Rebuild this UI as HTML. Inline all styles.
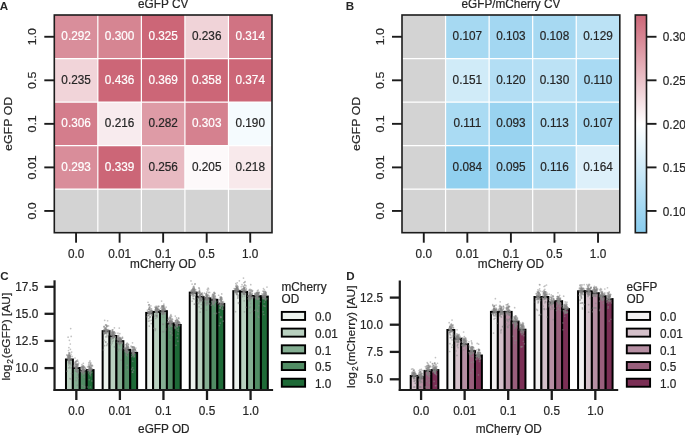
<!DOCTYPE html>
<html><head><meta charset="utf-8"><style>html,body{margin:0;padding:0;background:#fff;overflow:hidden}svg{display:block} text{-webkit-font-smoothing:antialiased}</style></head>
<body>
<svg width="685" height="435" viewBox="0 0 685 435" style="font-family:'Liberation Sans', sans-serif;will-change:transform;transform:translateZ(0)">
<rect width="685" height="435" fill="#fff"/>
<rect x="54.30" y="15.00" width="43.54" height="43.54" fill="#d98e9b"/>
<rect x="97.84" y="15.00" width="43.54" height="43.54" fill="#d68592"/>
<rect x="141.38" y="15.00" width="43.54" height="43.54" fill="#cc6677"/>
<rect x="184.92" y="15.00" width="43.54" height="43.54" fill="#f0d3d8"/>
<rect x="228.46" y="15.00" width="43.54" height="43.54" fill="#d07383"/>
<rect x="54.30" y="58.54" width="43.54" height="43.54" fill="#f1d4d9"/>
<rect x="97.84" y="58.54" width="43.54" height="43.54" fill="#cc6677"/>
<rect x="141.38" y="58.54" width="43.54" height="43.54" fill="#cc6677"/>
<rect x="184.92" y="58.54" width="43.54" height="43.54" fill="#cc6677"/>
<rect x="228.46" y="58.54" width="43.54" height="43.54" fill="#cc6677"/>
<rect x="54.30" y="102.08" width="43.54" height="43.54" fill="#d47d8c"/>
<rect x="97.84" y="102.08" width="43.54" height="43.54" fill="#f8ebee"/>
<rect x="141.38" y="102.08" width="43.54" height="43.54" fill="#de9ba6"/>
<rect x="184.92" y="102.08" width="43.54" height="43.54" fill="#d5818f"/>
<rect x="228.46" y="102.08" width="43.54" height="43.54" fill="#f5fbfe"/>
<rect x="54.30" y="145.62" width="43.54" height="43.54" fill="#d98d9a"/>
<rect x="97.84" y="145.62" width="43.54" height="43.54" fill="#cc6677"/>
<rect x="141.38" y="145.62" width="43.54" height="43.54" fill="#e8bac2"/>
<rect x="184.92" y="145.62" width="43.54" height="43.54" fill="#fdf9fa"/>
<rect x="228.46" y="145.62" width="43.54" height="43.54" fill="#f8e9eb"/>
<rect x="54.30" y="189.16" width="43.54" height="43.54" fill="#d3d3d3"/>
<rect x="97.84" y="189.16" width="43.54" height="43.54" fill="#d3d3d3"/>
<rect x="141.38" y="189.16" width="43.54" height="43.54" fill="#d3d3d3"/>
<rect x="184.92" y="189.16" width="43.54" height="43.54" fill="#d3d3d3"/>
<rect x="228.46" y="189.16" width="43.54" height="43.54" fill="#d3d3d3"/>
<line x1="97.84" y1="15" x2="97.84" y2="232.7" stroke="#fff" stroke-width="1.2"/>
<line x1="54.3" y1="58.54" x2="272" y2="58.54" stroke="#fff" stroke-width="1.2"/>
<line x1="141.38" y1="15" x2="141.38" y2="232.7" stroke="#fff" stroke-width="1.2"/>
<line x1="54.3" y1="102.08" x2="272" y2="102.08" stroke="#fff" stroke-width="1.2"/>
<line x1="184.92" y1="15" x2="184.92" y2="232.7" stroke="#fff" stroke-width="1.2"/>
<line x1="54.3" y1="145.62" x2="272" y2="145.62" stroke="#fff" stroke-width="1.2"/>
<line x1="228.46" y1="15" x2="228.46" y2="232.7" stroke="#fff" stroke-width="1.2"/>
<line x1="54.3" y1="189.16" x2="272" y2="189.16" stroke="#fff" stroke-width="1.2"/>
<text transform="translate(76.07 39.97) scale(1 1.07)" text-anchor="middle" font-size="11.8" fill="#ffffff" stroke="#ffffff" stroke-width="0.2">0.292</text>
<text transform="translate(119.61 39.97) scale(1 1.07)" text-anchor="middle" font-size="11.8" fill="#ffffff" stroke="#ffffff" stroke-width="0.2">0.300</text>
<text transform="translate(163.15 39.97) scale(1 1.07)" text-anchor="middle" font-size="11.8" fill="#ffffff" stroke="#ffffff" stroke-width="0.2">0.325</text>
<text transform="translate(206.69 39.97) scale(1 1.07)" text-anchor="middle" font-size="11.8" fill="#262626" stroke="#262626" stroke-width="0.2">0.236</text>
<text transform="translate(250.23 39.97) scale(1 1.07)" text-anchor="middle" font-size="11.8" fill="#ffffff" stroke="#ffffff" stroke-width="0.2">0.314</text>
<text transform="translate(76.07 83.51) scale(1 1.07)" text-anchor="middle" font-size="11.8" fill="#262626" stroke="#262626" stroke-width="0.2">0.235</text>
<text transform="translate(119.61 83.51) scale(1 1.07)" text-anchor="middle" font-size="11.8" fill="#ffffff" stroke="#ffffff" stroke-width="0.2">0.436</text>
<text transform="translate(163.15 83.51) scale(1 1.07)" text-anchor="middle" font-size="11.8" fill="#ffffff" stroke="#ffffff" stroke-width="0.2">0.369</text>
<text transform="translate(206.69 83.51) scale(1 1.07)" text-anchor="middle" font-size="11.8" fill="#ffffff" stroke="#ffffff" stroke-width="0.2">0.358</text>
<text transform="translate(250.23 83.51) scale(1 1.07)" text-anchor="middle" font-size="11.8" fill="#ffffff" stroke="#ffffff" stroke-width="0.2">0.374</text>
<text transform="translate(76.07 127.05) scale(1 1.07)" text-anchor="middle" font-size="11.8" fill="#ffffff" stroke="#ffffff" stroke-width="0.2">0.306</text>
<text transform="translate(119.61 127.05) scale(1 1.07)" text-anchor="middle" font-size="11.8" fill="#262626" stroke="#262626" stroke-width="0.2">0.216</text>
<text transform="translate(163.15 127.05) scale(1 1.07)" text-anchor="middle" font-size="11.8" fill="#262626" stroke="#262626" stroke-width="0.2">0.282</text>
<text transform="translate(206.69 127.05) scale(1 1.07)" text-anchor="middle" font-size="11.8" fill="#ffffff" stroke="#ffffff" stroke-width="0.2">0.303</text>
<text transform="translate(250.23 127.05) scale(1 1.07)" text-anchor="middle" font-size="11.8" fill="#262626" stroke="#262626" stroke-width="0.2">0.190</text>
<text transform="translate(76.07 170.59) scale(1 1.07)" text-anchor="middle" font-size="11.8" fill="#ffffff" stroke="#ffffff" stroke-width="0.2">0.293</text>
<text transform="translate(119.61 170.59) scale(1 1.07)" text-anchor="middle" font-size="11.8" fill="#ffffff" stroke="#ffffff" stroke-width="0.2">0.339</text>
<text transform="translate(163.15 170.59) scale(1 1.07)" text-anchor="middle" font-size="11.8" fill="#262626" stroke="#262626" stroke-width="0.2">0.256</text>
<text transform="translate(206.69 170.59) scale(1 1.07)" text-anchor="middle" font-size="11.8" fill="#262626" stroke="#262626" stroke-width="0.2">0.205</text>
<text transform="translate(250.23 170.59) scale(1 1.07)" text-anchor="middle" font-size="11.8" fill="#262626" stroke="#262626" stroke-width="0.2">0.218</text>
<rect x="54.3" y="15" width="217.7" height="217.7" fill="none" stroke="#1c1c1c" stroke-width="1.6"/>
<line x1="76.07" y1="232.7" x2="76.07" y2="242.7" stroke="#1c1c1c" stroke-width="1.9"/>
<text transform="translate(76.07 258.00) scale(1 1.07)" text-anchor="middle" font-size="11.8" fill="#262626" stroke="#262626" stroke-width="0.2">0.0</text>
<line x1="44.3" y1="36.77" x2="54.3" y2="36.77" stroke="#1c1c1c" stroke-width="1.9"/>
<text transform="translate(35.80 36.77) rotate(-90) scale(1.05 1)" text-anchor="middle" font-size="11.8" fill="#262626" stroke="#262626" stroke-width="0.2">1.0</text>
<line x1="119.61" y1="232.7" x2="119.61" y2="242.7" stroke="#1c1c1c" stroke-width="1.9"/>
<text transform="translate(119.61 258.00) scale(1 1.07)" text-anchor="middle" font-size="11.8" fill="#262626" stroke="#262626" stroke-width="0.2">0.01</text>
<line x1="44.3" y1="80.31" x2="54.3" y2="80.31" stroke="#1c1c1c" stroke-width="1.9"/>
<text transform="translate(35.80 80.31) rotate(-90) scale(1.05 1)" text-anchor="middle" font-size="11.8" fill="#262626" stroke="#262626" stroke-width="0.2">0.5</text>
<line x1="163.15" y1="232.7" x2="163.15" y2="242.7" stroke="#1c1c1c" stroke-width="1.9"/>
<text transform="translate(163.15 258.00) scale(1 1.07)" text-anchor="middle" font-size="11.8" fill="#262626" stroke="#262626" stroke-width="0.2">0.1</text>
<line x1="44.3" y1="123.85" x2="54.3" y2="123.85" stroke="#1c1c1c" stroke-width="1.9"/>
<text transform="translate(35.80 123.85) rotate(-90) scale(1.05 1)" text-anchor="middle" font-size="11.8" fill="#262626" stroke="#262626" stroke-width="0.2">0.1</text>
<line x1="206.69" y1="232.7" x2="206.69" y2="242.7" stroke="#1c1c1c" stroke-width="1.9"/>
<text transform="translate(206.69 258.00) scale(1 1.07)" text-anchor="middle" font-size="11.8" fill="#262626" stroke="#262626" stroke-width="0.2">0.5</text>
<line x1="44.3" y1="167.39" x2="54.3" y2="167.39" stroke="#1c1c1c" stroke-width="1.9"/>
<text transform="translate(35.80 167.39) rotate(-90) scale(1.05 1)" text-anchor="middle" font-size="11.8" fill="#262626" stroke="#262626" stroke-width="0.2">0.01</text>
<line x1="250.23" y1="232.7" x2="250.23" y2="242.7" stroke="#1c1c1c" stroke-width="1.9"/>
<text transform="translate(250.23 258.00) scale(1 1.07)" text-anchor="middle" font-size="11.8" fill="#262626" stroke="#262626" stroke-width="0.2">1.0</text>
<line x1="44.3" y1="210.93" x2="54.3" y2="210.93" stroke="#1c1c1c" stroke-width="1.9"/>
<text transform="translate(35.80 210.93) rotate(-90) scale(1.05 1)" text-anchor="middle" font-size="11.8" fill="#262626" stroke="#262626" stroke-width="0.2">0.0</text>
<text transform="translate(163.15 268.40) scale(1 1.07)" text-anchor="middle" font-size="11.8" fill="#262626" stroke="#262626" stroke-width="0.2">mCherry OD</text>
<text transform="translate(12.00 123.85) rotate(-90) scale(1.05 1)" text-anchor="middle" font-size="11.8" fill="#262626" stroke="#262626" stroke-width="0.2">eGFP OD</text>
<text transform="translate(163.15 8.20) scale(1 1.07)" text-anchor="middle" font-size="11.8" fill="#262626" stroke="#262626" stroke-width="0.2">eGFP CV</text>
<rect x="402.00" y="15.00" width="43.56" height="43.54" fill="#d3d3d3"/>
<rect x="445.56" y="15.00" width="43.56" height="43.54" fill="#a6d9f2"/>
<rect x="489.12" y="15.00" width="43.56" height="43.54" fill="#a3d7f2"/>
<rect x="532.68" y="15.00" width="43.56" height="43.54" fill="#a7d9f2"/>
<rect x="576.24" y="15.00" width="43.56" height="43.54" fill="#bbe2f5"/>
<rect x="402.00" y="58.54" width="43.56" height="43.54" fill="#d3d3d3"/>
<rect x="445.56" y="58.54" width="43.56" height="43.54" fill="#d0ebf8"/>
<rect x="489.12" y="58.54" width="43.56" height="43.54" fill="#b3def4"/>
<rect x="532.68" y="58.54" width="43.56" height="43.54" fill="#bce2f5"/>
<rect x="576.24" y="58.54" width="43.56" height="43.54" fill="#a9daf3"/>
<rect x="402.00" y="102.08" width="43.56" height="43.54" fill="#d3d3d3"/>
<rect x="445.56" y="102.08" width="43.56" height="43.54" fill="#aadbf3"/>
<rect x="489.12" y="102.08" width="43.56" height="43.54" fill="#99d3f0"/>
<rect x="532.68" y="102.08" width="43.56" height="43.54" fill="#acdcf3"/>
<rect x="576.24" y="102.08" width="43.56" height="43.54" fill="#a6d9f2"/>
<rect x="402.00" y="145.62" width="43.56" height="43.54" fill="#d3d3d3"/>
<rect x="445.56" y="145.62" width="43.56" height="43.54" fill="#91d0ef"/>
<rect x="489.12" y="145.62" width="43.56" height="43.54" fill="#9bd4f1"/>
<rect x="532.68" y="145.62" width="43.56" height="43.54" fill="#afddf4"/>
<rect x="576.24" y="145.62" width="43.56" height="43.54" fill="#ddf0fa"/>
<rect x="402.00" y="189.16" width="43.56" height="43.54" fill="#d3d3d3"/>
<rect x="445.56" y="189.16" width="43.56" height="43.54" fill="#d3d3d3"/>
<rect x="489.12" y="189.16" width="43.56" height="43.54" fill="#d3d3d3"/>
<rect x="532.68" y="189.16" width="43.56" height="43.54" fill="#d3d3d3"/>
<rect x="576.24" y="189.16" width="43.56" height="43.54" fill="#d3d3d3"/>
<line x1="445.56" y1="15" x2="445.56" y2="232.7" stroke="#fff" stroke-width="1.2"/>
<line x1="402" y1="58.54" x2="619.8" y2="58.54" stroke="#fff" stroke-width="1.2"/>
<line x1="489.12" y1="15" x2="489.12" y2="232.7" stroke="#fff" stroke-width="1.2"/>
<line x1="402" y1="102.08" x2="619.8" y2="102.08" stroke="#fff" stroke-width="1.2"/>
<line x1="532.68" y1="15" x2="532.68" y2="232.7" stroke="#fff" stroke-width="1.2"/>
<line x1="402" y1="145.62" x2="619.8" y2="145.62" stroke="#fff" stroke-width="1.2"/>
<line x1="576.24" y1="15" x2="576.24" y2="232.7" stroke="#fff" stroke-width="1.2"/>
<line x1="402" y1="189.16" x2="619.8" y2="189.16" stroke="#fff" stroke-width="1.2"/>
<text transform="translate(467.34 39.97) scale(1 1.07)" text-anchor="middle" font-size="11.8" fill="#262626" stroke="#262626" stroke-width="0.2">0.107</text>
<text transform="translate(510.90 39.97) scale(1 1.07)" text-anchor="middle" font-size="11.8" fill="#262626" stroke="#262626" stroke-width="0.2">0.103</text>
<text transform="translate(554.46 39.97) scale(1 1.07)" text-anchor="middle" font-size="11.8" fill="#262626" stroke="#262626" stroke-width="0.2">0.108</text>
<text transform="translate(598.02 39.97) scale(1 1.07)" text-anchor="middle" font-size="11.8" fill="#262626" stroke="#262626" stroke-width="0.2">0.129</text>
<text transform="translate(467.34 83.51) scale(1 1.07)" text-anchor="middle" font-size="11.8" fill="#262626" stroke="#262626" stroke-width="0.2">0.151</text>
<text transform="translate(510.90 83.51) scale(1 1.07)" text-anchor="middle" font-size="11.8" fill="#262626" stroke="#262626" stroke-width="0.2">0.120</text>
<text transform="translate(554.46 83.51) scale(1 1.07)" text-anchor="middle" font-size="11.8" fill="#262626" stroke="#262626" stroke-width="0.2">0.130</text>
<text transform="translate(598.02 83.51) scale(1 1.07)" text-anchor="middle" font-size="11.8" fill="#262626" stroke="#262626" stroke-width="0.2">0.110</text>
<text transform="translate(467.34 127.05) scale(1 1.07)" text-anchor="middle" font-size="11.8" fill="#262626" stroke="#262626" stroke-width="0.2">0.111</text>
<text transform="translate(510.90 127.05) scale(1 1.07)" text-anchor="middle" font-size="11.8" fill="#262626" stroke="#262626" stroke-width="0.2">0.093</text>
<text transform="translate(554.46 127.05) scale(1 1.07)" text-anchor="middle" font-size="11.8" fill="#262626" stroke="#262626" stroke-width="0.2">0.113</text>
<text transform="translate(598.02 127.05) scale(1 1.07)" text-anchor="middle" font-size="11.8" fill="#262626" stroke="#262626" stroke-width="0.2">0.107</text>
<text transform="translate(467.34 170.59) scale(1 1.07)" text-anchor="middle" font-size="11.8" fill="#262626" stroke="#262626" stroke-width="0.2">0.084</text>
<text transform="translate(510.90 170.59) scale(1 1.07)" text-anchor="middle" font-size="11.8" fill="#262626" stroke="#262626" stroke-width="0.2">0.095</text>
<text transform="translate(554.46 170.59) scale(1 1.07)" text-anchor="middle" font-size="11.8" fill="#262626" stroke="#262626" stroke-width="0.2">0.116</text>
<text transform="translate(598.02 170.59) scale(1 1.07)" text-anchor="middle" font-size="11.8" fill="#262626" stroke="#262626" stroke-width="0.2">0.164</text>
<rect x="402" y="15" width="217.79999999999995" height="217.7" fill="none" stroke="#1c1c1c" stroke-width="1.6"/>
<line x1="423.78" y1="232.7" x2="423.78" y2="242.7" stroke="#1c1c1c" stroke-width="1.9"/>
<text transform="translate(423.78 258.00) scale(1 1.07)" text-anchor="middle" font-size="11.8" fill="#262626" stroke="#262626" stroke-width="0.2">0.0</text>
<line x1="392" y1="36.77" x2="402" y2="36.77" stroke="#1c1c1c" stroke-width="1.9"/>
<text transform="translate(383.50 36.77) rotate(-90) scale(1.05 1)" text-anchor="middle" font-size="11.8" fill="#262626" stroke="#262626" stroke-width="0.2">1.0</text>
<line x1="467.34" y1="232.7" x2="467.34" y2="242.7" stroke="#1c1c1c" stroke-width="1.9"/>
<text transform="translate(467.34 258.00) scale(1 1.07)" text-anchor="middle" font-size="11.8" fill="#262626" stroke="#262626" stroke-width="0.2">0.01</text>
<line x1="392" y1="80.31" x2="402" y2="80.31" stroke="#1c1c1c" stroke-width="1.9"/>
<text transform="translate(383.50 80.31) rotate(-90) scale(1.05 1)" text-anchor="middle" font-size="11.8" fill="#262626" stroke="#262626" stroke-width="0.2">0.5</text>
<line x1="510.90" y1="232.7" x2="510.90" y2="242.7" stroke="#1c1c1c" stroke-width="1.9"/>
<text transform="translate(510.90 258.00) scale(1 1.07)" text-anchor="middle" font-size="11.8" fill="#262626" stroke="#262626" stroke-width="0.2">0.1</text>
<line x1="392" y1="123.85" x2="402" y2="123.85" stroke="#1c1c1c" stroke-width="1.9"/>
<text transform="translate(383.50 123.85) rotate(-90) scale(1.05 1)" text-anchor="middle" font-size="11.8" fill="#262626" stroke="#262626" stroke-width="0.2">0.1</text>
<line x1="554.46" y1="232.7" x2="554.46" y2="242.7" stroke="#1c1c1c" stroke-width="1.9"/>
<text transform="translate(554.46 258.00) scale(1 1.07)" text-anchor="middle" font-size="11.8" fill="#262626" stroke="#262626" stroke-width="0.2">0.5</text>
<line x1="392" y1="167.39" x2="402" y2="167.39" stroke="#1c1c1c" stroke-width="1.9"/>
<text transform="translate(383.50 167.39) rotate(-90) scale(1.05 1)" text-anchor="middle" font-size="11.8" fill="#262626" stroke="#262626" stroke-width="0.2">0.01</text>
<line x1="598.02" y1="232.7" x2="598.02" y2="242.7" stroke="#1c1c1c" stroke-width="1.9"/>
<text transform="translate(598.02 258.00) scale(1 1.07)" text-anchor="middle" font-size="11.8" fill="#262626" stroke="#262626" stroke-width="0.2">1.0</text>
<line x1="392" y1="210.93" x2="402" y2="210.93" stroke="#1c1c1c" stroke-width="1.9"/>
<text transform="translate(383.50 210.93) rotate(-90) scale(1.05 1)" text-anchor="middle" font-size="11.8" fill="#262626" stroke="#262626" stroke-width="0.2">0.0</text>
<text transform="translate(510.90 268.40) scale(1 1.07)" text-anchor="middle" font-size="11.8" fill="#262626" stroke="#262626" stroke-width="0.2">mCherry OD</text>
<text transform="translate(359.70 123.85) rotate(-90) scale(1.05 1)" text-anchor="middle" font-size="11.8" fill="#262626" stroke="#262626" stroke-width="0.2">eGFP OD</text>
<text transform="translate(510.90 8.20) scale(1 1.07)" text-anchor="middle" font-size="11.8" fill="#262626" stroke="#262626" stroke-width="0.2">eGFP/mCherry CV</text>
<text transform="translate(-0.30 10.00) scale(1 1.0)" text-anchor="start" font-size="11.6" fill="#262626" font-weight="bold">A</text>
<text transform="translate(345.80 10.00) scale(1 1.0)" text-anchor="start" font-size="11.6" fill="#262626" font-weight="bold">B</text>
<text transform="translate(0.30 279.50) scale(1 1.0)" text-anchor="start" font-size="11.6" fill="#262626" font-weight="bold">C</text>
<text transform="translate(346.30 279.50) scale(1 1.0)" text-anchor="start" font-size="11.6" fill="#262626" font-weight="bold">D</text>
<defs><linearGradient id="cb" x1="0" y1="1" x2="0" y2="0"><stop offset="0" stop-color="#88CCEE"/><stop offset="0.5" stop-color="#ffffff"/><stop offset="1" stop-color="#CC6677"/></linearGradient></defs>
<rect x="635.3" y="15" width="11.20" height="217.70" fill="url(#cb)" stroke="#1c1c1c" stroke-width="1.6"/>
<line x1="646.5" y1="210.93" x2="656.5" y2="210.93" stroke="#1c1c1c" stroke-width="1.9"/>
<text transform="translate(662.80 215.63) scale(1 1.07)" text-anchor="start" font-size="11.8" fill="#262626" stroke="#262626" stroke-width="0.2">0.10</text>
<line x1="646.5" y1="167.39" x2="656.5" y2="167.39" stroke="#1c1c1c" stroke-width="1.9"/>
<text transform="translate(662.80 172.09) scale(1 1.07)" text-anchor="start" font-size="11.8" fill="#262626" stroke="#262626" stroke-width="0.2">0.15</text>
<line x1="646.5" y1="123.85" x2="656.5" y2="123.85" stroke="#1c1c1c" stroke-width="1.9"/>
<text transform="translate(662.80 128.55) scale(1 1.07)" text-anchor="start" font-size="11.8" fill="#262626" stroke="#262626" stroke-width="0.2">0.20</text>
<line x1="646.5" y1="80.31" x2="656.5" y2="80.31" stroke="#1c1c1c" stroke-width="1.9"/>
<text transform="translate(662.80 85.01) scale(1 1.07)" text-anchor="start" font-size="11.8" fill="#262626" stroke="#262626" stroke-width="0.2">0.25</text>
<line x1="646.5" y1="36.77" x2="656.5" y2="36.77" stroke="#1c1c1c" stroke-width="1.9"/>
<text transform="translate(662.80 41.47) scale(1 1.07)" text-anchor="start" font-size="11.8" fill="#262626" stroke="#262626" stroke-width="0.2">0.30</text>
<rect x="65.98" y="359.50" width="6.90" height="30.50" fill="#b8d0bf" stroke="#000" stroke-width="2"/>
<rect x="72.88" y="368.00" width="6.90" height="22.00" fill="#84ae92" stroke="#000" stroke-width="2"/>
<rect x="79.78" y="371.10" width="6.90" height="18.90" fill="#518c64" stroke="#000" stroke-width="2"/>
<rect x="86.68" y="370.10" width="6.90" height="19.90" fill="#1e6a37" stroke="#000" stroke-width="2"/>
<rect x="102.64" y="331.20" width="6.90" height="58.80" fill="#ecf2ed" stroke="#000" stroke-width="2"/>
<rect x="109.54" y="336.00" width="6.90" height="54.00" fill="#b8d0bf" stroke="#000" stroke-width="2"/>
<rect x="116.44" y="341.20" width="6.90" height="48.80" fill="#84ae92" stroke="#000" stroke-width="2"/>
<rect x="123.34" y="349.80" width="6.90" height="40.20" fill="#518c64" stroke="#000" stroke-width="2"/>
<rect x="130.24" y="352.90" width="6.90" height="37.10" fill="#1e6a37" stroke="#000" stroke-width="2"/>
<rect x="146.20" y="312.90" width="6.90" height="77.10" fill="#ecf2ed" stroke="#000" stroke-width="2"/>
<rect x="153.10" y="311.90" width="6.90" height="78.10" fill="#b8d0bf" stroke="#000" stroke-width="2"/>
<rect x="160.00" y="311.20" width="6.90" height="78.80" fill="#84ae92" stroke="#000" stroke-width="2"/>
<rect x="166.90" y="323.40" width="6.90" height="66.60" fill="#518c64" stroke="#000" stroke-width="2"/>
<rect x="173.80" y="325.00" width="6.90" height="65.00" fill="#1e6a37" stroke="#000" stroke-width="2"/>
<rect x="189.76" y="292.60" width="6.90" height="97.40" fill="#ecf2ed" stroke="#000" stroke-width="2"/>
<rect x="196.66" y="297.00" width="6.90" height="93.00" fill="#b8d0bf" stroke="#000" stroke-width="2"/>
<rect x="203.56" y="298.40" width="6.90" height="91.60" fill="#84ae92" stroke="#000" stroke-width="2"/>
<rect x="210.46" y="299.80" width="6.90" height="90.20" fill="#518c64" stroke="#000" stroke-width="2"/>
<rect x="217.36" y="303.90" width="6.90" height="86.10" fill="#1e6a37" stroke="#000" stroke-width="2"/>
<rect x="233.32" y="291.20" width="6.90" height="98.80" fill="#ecf2ed" stroke="#000" stroke-width="2"/>
<rect x="240.22" y="291.90" width="6.90" height="98.10" fill="#b8d0bf" stroke="#000" stroke-width="2"/>
<rect x="247.12" y="296.00" width="6.90" height="94.00" fill="#84ae92" stroke="#000" stroke-width="2"/>
<rect x="254.02" y="296.30" width="6.90" height="93.70" fill="#518c64" stroke="#000" stroke-width="2"/>
<rect x="260.92" y="296.60" width="6.90" height="93.40" fill="#1e6a37" stroke="#000" stroke-width="2"/>
<circle cx="69.54" cy="361.55" r="0.85" fill="#858585" fill-opacity="0.5"/>
<circle cx="68.09" cy="356.09" r="0.85" fill="#858585" fill-opacity="0.5"/>
<circle cx="71.71" cy="358.71" r="0.85" fill="#858585" fill-opacity="0.5"/>
<circle cx="69.82" cy="366.83" r="0.85" fill="#858585" fill-opacity="0.5"/>
<circle cx="70.14" cy="355.77" r="0.85" fill="#858585" fill-opacity="0.5"/>
<circle cx="70.43" cy="362.68" r="0.85" fill="#858585" fill-opacity="0.5"/>
<circle cx="67.48" cy="357.68" r="0.85" fill="#858585" fill-opacity="0.5"/>
<circle cx="71.29" cy="360.02" r="0.85" fill="#858585" fill-opacity="0.5"/>
<circle cx="69.33" cy="358.57" r="0.85" fill="#858585" fill-opacity="0.5"/>
<circle cx="67.55" cy="358.72" r="0.85" fill="#858585" fill-opacity="0.5"/>
<circle cx="68.83" cy="352.59" r="0.85" fill="#858585" fill-opacity="0.5"/>
<circle cx="69.84" cy="378.59" r="0.85" fill="#858585" fill-opacity="0.5"/>
<circle cx="68.19" cy="359.49" r="0.85" fill="#858585" fill-opacity="0.5"/>
<circle cx="70.06" cy="367.97" r="0.85" fill="#858585" fill-opacity="0.5"/>
<circle cx="68.72" cy="356.73" r="0.85" fill="#858585" fill-opacity="0.5"/>
<circle cx="68.59" cy="359.89" r="0.85" fill="#858585" fill-opacity="0.5"/>
<circle cx="67.19" cy="355.46" r="0.85" fill="#858585" fill-opacity="0.5"/>
<circle cx="71.56" cy="373.61" r="0.85" fill="#858585" fill-opacity="0.5"/>
<circle cx="68.41" cy="362.61" r="0.85" fill="#858585" fill-opacity="0.5"/>
<circle cx="67.05" cy="371.16" r="0.85" fill="#858585" fill-opacity="0.5"/>
<circle cx="69.24" cy="354.48" r="0.85" fill="#858585" fill-opacity="0.5"/>
<circle cx="68.55" cy="357.35" r="0.85" fill="#858585" fill-opacity="0.5"/>
<circle cx="71.64" cy="352.05" r="0.85" fill="#858585" fill-opacity="0.5"/>
<circle cx="69.82" cy="355.76" r="0.85" fill="#858585" fill-opacity="0.5"/>
<circle cx="68.87" cy="364.91" r="0.85" fill="#858585" fill-opacity="0.5"/>
<circle cx="71.02" cy="359.28" r="0.85" fill="#858585" fill-opacity="0.5"/>
<circle cx="69.22" cy="353.54" r="0.85" fill="#858585" fill-opacity="0.5"/>
<circle cx="70.84" cy="364.93" r="0.85" fill="#858585" fill-opacity="0.5"/>
<circle cx="69.26" cy="357.77" r="0.85" fill="#858585" fill-opacity="0.5"/>
<circle cx="69.25" cy="355.31" r="0.85" fill="#858585" fill-opacity="0.5"/>
<circle cx="70.33" cy="363.35" r="0.85" fill="#858585" fill-opacity="0.5"/>
<circle cx="70.07" cy="363.65" r="0.85" fill="#858585" fill-opacity="0.5"/>
<circle cx="68.77" cy="355.25" r="0.85" fill="#858585" fill-opacity="0.5"/>
<circle cx="69.79" cy="355.55" r="0.85" fill="#858585" fill-opacity="0.5"/>
<circle cx="68.56" cy="361.18" r="0.85" fill="#858585" fill-opacity="0.5"/>
<circle cx="68.91" cy="357.94" r="0.85" fill="#858585" fill-opacity="0.5"/>
<circle cx="68.56" cy="361.42" r="0.85" fill="#858585" fill-opacity="0.5"/>
<circle cx="69.23" cy="360.99" r="0.85" fill="#858585" fill-opacity="0.5"/>
<circle cx="69.52" cy="361.87" r="0.85" fill="#858585" fill-opacity="0.5"/>
<circle cx="69.64" cy="361.70" r="0.85" fill="#858585" fill-opacity="0.5"/>
<circle cx="70.05" cy="357.26" r="0.85" fill="#858585" fill-opacity="0.5"/>
<circle cx="68.42" cy="357.43" r="0.85" fill="#858585" fill-opacity="0.5"/>
<circle cx="69.18" cy="355.30" r="0.85" fill="#858585" fill-opacity="0.5"/>
<circle cx="66.83" cy="354.95" r="0.85" fill="#858585" fill-opacity="0.5"/>
<circle cx="69.87" cy="356.82" r="0.85" fill="#858585" fill-opacity="0.5"/>
<circle cx="70.21" cy="356.49" r="0.85" fill="#858585" fill-opacity="0.5"/>
<circle cx="68.86" cy="358.38" r="0.85" fill="#858585" fill-opacity="0.5"/>
<circle cx="69.15" cy="358.09" r="0.85" fill="#858585" fill-opacity="0.5"/>
<circle cx="68.40" cy="358.94" r="0.85" fill="#858585" fill-opacity="0.5"/>
<circle cx="68.59" cy="354.60" r="0.85" fill="#858585" fill-opacity="0.5"/>
<circle cx="70.17" cy="357.28" r="0.85" fill="#858585" fill-opacity="0.5"/>
<circle cx="70.40" cy="349.30" r="0.85" fill="#858585" fill-opacity="0.5"/>
<circle cx="70.32" cy="356.35" r="0.85" fill="#858585" fill-opacity="0.5"/>
<circle cx="70.92" cy="354.44" r="0.85" fill="#858585" fill-opacity="0.5"/>
<circle cx="69.69" cy="356.64" r="0.85" fill="#858585" fill-opacity="0.5"/>
<circle cx="69.29" cy="359.01" r="0.85" fill="#858585" fill-opacity="0.5"/>
<circle cx="68.78" cy="359.61" r="0.85" fill="#858585" fill-opacity="0.5"/>
<circle cx="67.82" cy="356.16" r="0.85" fill="#858585" fill-opacity="0.5"/>
<circle cx="69.95" cy="358.86" r="0.85" fill="#858585" fill-opacity="0.5"/>
<circle cx="68.51" cy="355.95" r="0.85" fill="#858585" fill-opacity="0.5"/>
<circle cx="70.05" cy="359.63" r="0.85" fill="#858585" fill-opacity="0.5"/>
<circle cx="69.10" cy="363.32" r="0.85" fill="#858585" fill-opacity="0.5"/>
<circle cx="68.57" cy="367.92" r="0.85" fill="#858585" fill-opacity="0.5"/>
<circle cx="72.03" cy="356.47" r="0.85" fill="#858585" fill-opacity="0.5"/>
<circle cx="69.37" cy="353.35" r="0.85" fill="#858585" fill-opacity="0.5"/>
<circle cx="68.45" cy="358.04" r="0.85" fill="#858585" fill-opacity="0.5"/>
<circle cx="69.49" cy="359.27" r="0.85" fill="#858585" fill-opacity="0.5"/>
<circle cx="68.93" cy="362.91" r="0.85" fill="#858585" fill-opacity="0.5"/>
<circle cx="70.95" cy="379.02" r="0.85" fill="#858585" fill-opacity="0.5"/>
<circle cx="68.38" cy="356.85" r="0.85" fill="#858585" fill-opacity="0.5"/>
<circle cx="76.24" cy="367.79" r="0.85" fill="#858585" fill-opacity="0.5"/>
<circle cx="77.22" cy="364.15" r="0.85" fill="#858585" fill-opacity="0.5"/>
<circle cx="76.14" cy="380.69" r="0.85" fill="#858585" fill-opacity="0.5"/>
<circle cx="75.83" cy="368.88" r="0.85" fill="#858585" fill-opacity="0.5"/>
<circle cx="74.26" cy="367.45" r="0.85" fill="#858585" fill-opacity="0.5"/>
<circle cx="76.81" cy="371.26" r="0.85" fill="#858585" fill-opacity="0.5"/>
<circle cx="77.34" cy="385.35" r="0.85" fill="#858585" fill-opacity="0.5"/>
<circle cx="78.20" cy="372.33" r="0.85" fill="#858585" fill-opacity="0.5"/>
<circle cx="76.41" cy="369.41" r="0.85" fill="#858585" fill-opacity="0.5"/>
<circle cx="76.62" cy="364.11" r="0.85" fill="#858585" fill-opacity="0.5"/>
<circle cx="76.12" cy="366.83" r="0.85" fill="#858585" fill-opacity="0.5"/>
<circle cx="76.26" cy="367.74" r="0.85" fill="#858585" fill-opacity="0.5"/>
<circle cx="76.77" cy="371.84" r="0.85" fill="#858585" fill-opacity="0.5"/>
<circle cx="75.96" cy="364.53" r="0.85" fill="#858585" fill-opacity="0.5"/>
<circle cx="76.32" cy="364.57" r="0.85" fill="#858585" fill-opacity="0.5"/>
<circle cx="77.72" cy="365.71" r="0.85" fill="#858585" fill-opacity="0.5"/>
<circle cx="76.93" cy="369.16" r="0.85" fill="#858585" fill-opacity="0.5"/>
<circle cx="77.40" cy="364.66" r="0.85" fill="#858585" fill-opacity="0.5"/>
<circle cx="76.66" cy="364.32" r="0.85" fill="#858585" fill-opacity="0.5"/>
<circle cx="77.50" cy="360.09" r="0.85" fill="#858585" fill-opacity="0.5"/>
<circle cx="77.80" cy="364.52" r="0.85" fill="#858585" fill-opacity="0.5"/>
<circle cx="76.81" cy="366.01" r="0.85" fill="#858585" fill-opacity="0.5"/>
<circle cx="75.13" cy="364.91" r="0.85" fill="#858585" fill-opacity="0.5"/>
<circle cx="76.55" cy="366.46" r="0.85" fill="#858585" fill-opacity="0.5"/>
<circle cx="75.89" cy="362.02" r="0.85" fill="#858585" fill-opacity="0.5"/>
<circle cx="77.44" cy="374.98" r="0.85" fill="#858585" fill-opacity="0.5"/>
<circle cx="78.03" cy="364.05" r="0.85" fill="#858585" fill-opacity="0.5"/>
<circle cx="75.73" cy="366.52" r="0.85" fill="#858585" fill-opacity="0.5"/>
<circle cx="75.02" cy="357.99" r="0.85" fill="#858585" fill-opacity="0.5"/>
<circle cx="75.36" cy="363.13" r="0.85" fill="#858585" fill-opacity="0.5"/>
<circle cx="77.60" cy="368.89" r="0.85" fill="#858585" fill-opacity="0.5"/>
<circle cx="77.61" cy="370.32" r="0.85" fill="#858585" fill-opacity="0.5"/>
<circle cx="76.79" cy="367.12" r="0.85" fill="#858585" fill-opacity="0.5"/>
<circle cx="76.44" cy="366.89" r="0.85" fill="#858585" fill-opacity="0.5"/>
<circle cx="78.00" cy="370.26" r="0.85" fill="#858585" fill-opacity="0.5"/>
<circle cx="77.86" cy="361.30" r="0.85" fill="#858585" fill-opacity="0.5"/>
<circle cx="76.43" cy="364.83" r="0.85" fill="#858585" fill-opacity="0.5"/>
<circle cx="74.43" cy="366.51" r="0.85" fill="#858585" fill-opacity="0.5"/>
<circle cx="76.31" cy="360.73" r="0.85" fill="#858585" fill-opacity="0.5"/>
<circle cx="75.63" cy="371.18" r="0.85" fill="#858585" fill-opacity="0.5"/>
<circle cx="76.37" cy="368.43" r="0.85" fill="#858585" fill-opacity="0.5"/>
<circle cx="74.83" cy="363.90" r="0.85" fill="#858585" fill-opacity="0.5"/>
<circle cx="75.52" cy="368.73" r="0.85" fill="#858585" fill-opacity="0.5"/>
<circle cx="75.89" cy="367.33" r="0.85" fill="#858585" fill-opacity="0.5"/>
<circle cx="77.55" cy="365.22" r="0.85" fill="#858585" fill-opacity="0.5"/>
<circle cx="77.31" cy="371.84" r="0.85" fill="#858585" fill-opacity="0.5"/>
<circle cx="75.66" cy="364.02" r="0.85" fill="#858585" fill-opacity="0.5"/>
<circle cx="74.73" cy="362.46" r="0.85" fill="#858585" fill-opacity="0.5"/>
<circle cx="77.97" cy="378.41" r="0.85" fill="#858585" fill-opacity="0.5"/>
<circle cx="77.46" cy="366.48" r="0.85" fill="#858585" fill-opacity="0.5"/>
<circle cx="75.57" cy="367.88" r="0.85" fill="#858585" fill-opacity="0.5"/>
<circle cx="77.84" cy="367.24" r="0.85" fill="#858585" fill-opacity="0.5"/>
<circle cx="78.16" cy="373.10" r="0.85" fill="#858585" fill-opacity="0.5"/>
<circle cx="75.99" cy="361.54" r="0.85" fill="#858585" fill-opacity="0.5"/>
<circle cx="75.51" cy="365.76" r="0.85" fill="#858585" fill-opacity="0.5"/>
<circle cx="77.69" cy="367.23" r="0.85" fill="#858585" fill-opacity="0.5"/>
<circle cx="76.86" cy="368.97" r="0.85" fill="#858585" fill-opacity="0.5"/>
<circle cx="76.43" cy="377.51" r="0.85" fill="#858585" fill-opacity="0.5"/>
<circle cx="75.67" cy="361.97" r="0.85" fill="#858585" fill-opacity="0.5"/>
<circle cx="76.78" cy="361.17" r="0.85" fill="#858585" fill-opacity="0.5"/>
<circle cx="75.85" cy="368.83" r="0.85" fill="#858585" fill-opacity="0.5"/>
<circle cx="75.38" cy="370.89" r="0.85" fill="#858585" fill-opacity="0.5"/>
<circle cx="76.00" cy="367.19" r="0.85" fill="#858585" fill-opacity="0.5"/>
<circle cx="78.23" cy="371.73" r="0.85" fill="#858585" fill-opacity="0.5"/>
<circle cx="75.73" cy="367.54" r="0.85" fill="#858585" fill-opacity="0.5"/>
<circle cx="77.19" cy="365.36" r="0.85" fill="#858585" fill-opacity="0.5"/>
<circle cx="74.05" cy="365.72" r="0.85" fill="#858585" fill-opacity="0.5"/>
<circle cx="78.73" cy="363.08" r="0.85" fill="#858585" fill-opacity="0.5"/>
<circle cx="77.23" cy="370.92" r="0.85" fill="#858585" fill-opacity="0.5"/>
<circle cx="77.58" cy="364.67" r="0.85" fill="#858585" fill-opacity="0.5"/>
<circle cx="84.47" cy="372.25" r="0.85" fill="#858585" fill-opacity="0.5"/>
<circle cx="83.28" cy="368.12" r="0.85" fill="#858585" fill-opacity="0.5"/>
<circle cx="83.30" cy="372.39" r="0.85" fill="#858585" fill-opacity="0.5"/>
<circle cx="82.90" cy="371.43" r="0.85" fill="#858585" fill-opacity="0.5"/>
<circle cx="83.88" cy="374.03" r="0.85" fill="#858585" fill-opacity="0.5"/>
<circle cx="84.86" cy="371.43" r="0.85" fill="#858585" fill-opacity="0.5"/>
<circle cx="84.31" cy="367.53" r="0.85" fill="#858585" fill-opacity="0.5"/>
<circle cx="83.28" cy="367.73" r="0.85" fill="#858585" fill-opacity="0.5"/>
<circle cx="82.00" cy="366.02" r="0.85" fill="#858585" fill-opacity="0.5"/>
<circle cx="83.31" cy="363.27" r="0.85" fill="#858585" fill-opacity="0.5"/>
<circle cx="82.66" cy="369.61" r="0.85" fill="#858585" fill-opacity="0.5"/>
<circle cx="82.09" cy="373.21" r="0.85" fill="#858585" fill-opacity="0.5"/>
<circle cx="82.53" cy="369.23" r="0.85" fill="#858585" fill-opacity="0.5"/>
<circle cx="82.72" cy="367.03" r="0.85" fill="#858585" fill-opacity="0.5"/>
<circle cx="82.89" cy="372.49" r="0.85" fill="#858585" fill-opacity="0.5"/>
<circle cx="82.72" cy="369.25" r="0.85" fill="#858585" fill-opacity="0.5"/>
<circle cx="81.64" cy="368.17" r="0.85" fill="#858585" fill-opacity="0.5"/>
<circle cx="82.17" cy="370.34" r="0.85" fill="#858585" fill-opacity="0.5"/>
<circle cx="83.63" cy="369.26" r="0.85" fill="#858585" fill-opacity="0.5"/>
<circle cx="81.73" cy="366.86" r="0.85" fill="#858585" fill-opacity="0.5"/>
<circle cx="83.96" cy="370.43" r="0.85" fill="#858585" fill-opacity="0.5"/>
<circle cx="82.98" cy="369.98" r="0.85" fill="#858585" fill-opacity="0.5"/>
<circle cx="85.28" cy="368.59" r="0.85" fill="#858585" fill-opacity="0.5"/>
<circle cx="84.29" cy="370.23" r="0.85" fill="#858585" fill-opacity="0.5"/>
<circle cx="82.12" cy="371.82" r="0.85" fill="#858585" fill-opacity="0.5"/>
<circle cx="83.85" cy="373.33" r="0.85" fill="#858585" fill-opacity="0.5"/>
<circle cx="84.59" cy="370.26" r="0.85" fill="#858585" fill-opacity="0.5"/>
<circle cx="83.94" cy="369.70" r="0.85" fill="#858585" fill-opacity="0.5"/>
<circle cx="81.02" cy="366.98" r="0.85" fill="#858585" fill-opacity="0.5"/>
<circle cx="82.86" cy="371.00" r="0.85" fill="#858585" fill-opacity="0.5"/>
<circle cx="84.61" cy="370.49" r="0.85" fill="#858585" fill-opacity="0.5"/>
<circle cx="84.10" cy="377.07" r="0.85" fill="#858585" fill-opacity="0.5"/>
<circle cx="83.64" cy="373.30" r="0.85" fill="#858585" fill-opacity="0.5"/>
<circle cx="82.86" cy="366.71" r="0.85" fill="#858585" fill-opacity="0.5"/>
<circle cx="82.38" cy="385.58" r="0.85" fill="#858585" fill-opacity="0.5"/>
<circle cx="82.50" cy="374.81" r="0.85" fill="#858585" fill-opacity="0.5"/>
<circle cx="81.68" cy="367.41" r="0.85" fill="#858585" fill-opacity="0.5"/>
<circle cx="83.46" cy="366.10" r="0.85" fill="#858585" fill-opacity="0.5"/>
<circle cx="81.91" cy="369.47" r="0.85" fill="#858585" fill-opacity="0.5"/>
<circle cx="82.91" cy="369.77" r="0.85" fill="#858585" fill-opacity="0.5"/>
<circle cx="82.44" cy="367.66" r="0.85" fill="#858585" fill-opacity="0.5"/>
<circle cx="85.68" cy="368.50" r="0.85" fill="#858585" fill-opacity="0.5"/>
<circle cx="83.67" cy="366.39" r="0.85" fill="#858585" fill-opacity="0.5"/>
<circle cx="82.67" cy="371.36" r="0.85" fill="#858585" fill-opacity="0.5"/>
<circle cx="80.63" cy="368.45" r="0.85" fill="#858585" fill-opacity="0.5"/>
<circle cx="84.50" cy="366.99" r="0.85" fill="#858585" fill-opacity="0.5"/>
<circle cx="84.25" cy="386.28" r="0.85" fill="#858585" fill-opacity="0.5"/>
<circle cx="81.97" cy="364.57" r="0.85" fill="#858585" fill-opacity="0.5"/>
<circle cx="85.04" cy="387.00" r="0.85" fill="#858585" fill-opacity="0.5"/>
<circle cx="81.37" cy="371.59" r="0.85" fill="#858585" fill-opacity="0.5"/>
<circle cx="83.50" cy="370.39" r="0.85" fill="#858585" fill-opacity="0.5"/>
<circle cx="83.45" cy="371.37" r="0.85" fill="#858585" fill-opacity="0.5"/>
<circle cx="82.76" cy="366.83" r="0.85" fill="#858585" fill-opacity="0.5"/>
<circle cx="82.62" cy="368.11" r="0.85" fill="#858585" fill-opacity="0.5"/>
<circle cx="83.28" cy="367.27" r="0.85" fill="#858585" fill-opacity="0.5"/>
<circle cx="84.77" cy="367.45" r="0.85" fill="#858585" fill-opacity="0.5"/>
<circle cx="82.21" cy="372.21" r="0.85" fill="#858585" fill-opacity="0.5"/>
<circle cx="83.24" cy="370.09" r="0.85" fill="#858585" fill-opacity="0.5"/>
<circle cx="83.37" cy="368.48" r="0.85" fill="#858585" fill-opacity="0.5"/>
<circle cx="83.51" cy="371.58" r="0.85" fill="#858585" fill-opacity="0.5"/>
<circle cx="82.63" cy="370.80" r="0.85" fill="#858585" fill-opacity="0.5"/>
<circle cx="83.79" cy="370.91" r="0.85" fill="#858585" fill-opacity="0.5"/>
<circle cx="83.47" cy="370.10" r="0.85" fill="#858585" fill-opacity="0.5"/>
<circle cx="81.66" cy="372.12" r="0.85" fill="#858585" fill-opacity="0.5"/>
<circle cx="82.24" cy="371.39" r="0.85" fill="#858585" fill-opacity="0.5"/>
<circle cx="84.05" cy="369.51" r="0.85" fill="#858585" fill-opacity="0.5"/>
<circle cx="82.52" cy="370.15" r="0.85" fill="#858585" fill-opacity="0.5"/>
<circle cx="82.88" cy="371.00" r="0.85" fill="#858585" fill-opacity="0.5"/>
<circle cx="83.10" cy="365.53" r="0.85" fill="#858585" fill-opacity="0.5"/>
<circle cx="80.63" cy="371.20" r="0.85" fill="#858585" fill-opacity="0.5"/>
<circle cx="90.13" cy="371.64" r="0.85" fill="#858585" fill-opacity="0.5"/>
<circle cx="89.37" cy="367.17" r="0.85" fill="#858585" fill-opacity="0.5"/>
<circle cx="88.82" cy="362.65" r="0.85" fill="#858585" fill-opacity="0.5"/>
<circle cx="90.43" cy="368.91" r="0.85" fill="#858585" fill-opacity="0.5"/>
<circle cx="90.29" cy="369.52" r="0.85" fill="#858585" fill-opacity="0.5"/>
<circle cx="88.67" cy="364.30" r="0.85" fill="#858585" fill-opacity="0.5"/>
<circle cx="91.48" cy="367.26" r="0.85" fill="#858585" fill-opacity="0.5"/>
<circle cx="92.60" cy="365.84" r="0.85" fill="#858585" fill-opacity="0.5"/>
<circle cx="89.58" cy="370.21" r="0.85" fill="#858585" fill-opacity="0.5"/>
<circle cx="91.67" cy="369.65" r="0.85" fill="#858585" fill-opacity="0.5"/>
<circle cx="89.65" cy="366.92" r="0.85" fill="#858585" fill-opacity="0.5"/>
<circle cx="91.69" cy="372.29" r="0.85" fill="#858585" fill-opacity="0.5"/>
<circle cx="90.00" cy="360.79" r="0.85" fill="#858585" fill-opacity="0.5"/>
<circle cx="87.56" cy="366.96" r="0.85" fill="#858585" fill-opacity="0.5"/>
<circle cx="89.39" cy="369.76" r="0.85" fill="#858585" fill-opacity="0.5"/>
<circle cx="89.19" cy="369.15" r="0.85" fill="#858585" fill-opacity="0.5"/>
<circle cx="89.83" cy="362.06" r="0.85" fill="#858585" fill-opacity="0.5"/>
<circle cx="89.08" cy="370.86" r="0.85" fill="#858585" fill-opacity="0.5"/>
<circle cx="90.07" cy="368.36" r="0.85" fill="#858585" fill-opacity="0.5"/>
<circle cx="90.23" cy="364.99" r="0.85" fill="#858585" fill-opacity="0.5"/>
<circle cx="90.32" cy="373.89" r="0.85" fill="#858585" fill-opacity="0.5"/>
<circle cx="91.89" cy="365.25" r="0.85" fill="#858585" fill-opacity="0.5"/>
<circle cx="91.68" cy="366.35" r="0.85" fill="#858585" fill-opacity="0.5"/>
<circle cx="89.81" cy="369.63" r="0.85" fill="#858585" fill-opacity="0.5"/>
<circle cx="90.67" cy="368.56" r="0.85" fill="#858585" fill-opacity="0.5"/>
<circle cx="90.51" cy="369.58" r="0.85" fill="#858585" fill-opacity="0.5"/>
<circle cx="90.15" cy="369.72" r="0.85" fill="#858585" fill-opacity="0.5"/>
<circle cx="89.15" cy="366.18" r="0.85" fill="#858585" fill-opacity="0.5"/>
<circle cx="90.52" cy="375.64" r="0.85" fill="#858585" fill-opacity="0.5"/>
<circle cx="88.97" cy="366.30" r="0.85" fill="#858585" fill-opacity="0.5"/>
<circle cx="88.45" cy="366.11" r="0.85" fill="#858585" fill-opacity="0.5"/>
<circle cx="90.41" cy="370.40" r="0.85" fill="#858585" fill-opacity="0.5"/>
<circle cx="90.40" cy="367.77" r="0.85" fill="#858585" fill-opacity="0.5"/>
<circle cx="90.91" cy="367.47" r="0.85" fill="#858585" fill-opacity="0.5"/>
<circle cx="91.28" cy="370.39" r="0.85" fill="#858585" fill-opacity="0.5"/>
<circle cx="90.92" cy="365.74" r="0.85" fill="#858585" fill-opacity="0.5"/>
<circle cx="90.30" cy="363.64" r="0.85" fill="#858585" fill-opacity="0.5"/>
<circle cx="89.09" cy="367.20" r="0.85" fill="#858585" fill-opacity="0.5"/>
<circle cx="90.95" cy="362.90" r="0.85" fill="#858585" fill-opacity="0.5"/>
<circle cx="90.54" cy="372.01" r="0.85" fill="#858585" fill-opacity="0.5"/>
<circle cx="90.06" cy="367.87" r="0.85" fill="#858585" fill-opacity="0.5"/>
<circle cx="89.67" cy="369.00" r="0.85" fill="#858585" fill-opacity="0.5"/>
<circle cx="90.01" cy="366.19" r="0.85" fill="#858585" fill-opacity="0.5"/>
<circle cx="89.47" cy="367.79" r="0.85" fill="#858585" fill-opacity="0.5"/>
<circle cx="91.21" cy="368.84" r="0.85" fill="#858585" fill-opacity="0.5"/>
<circle cx="90.86" cy="369.82" r="0.85" fill="#858585" fill-opacity="0.5"/>
<circle cx="91.88" cy="365.05" r="0.85" fill="#858585" fill-opacity="0.5"/>
<circle cx="91.78" cy="380.96" r="0.85" fill="#858585" fill-opacity="0.5"/>
<circle cx="89.99" cy="374.22" r="0.85" fill="#858585" fill-opacity="0.5"/>
<circle cx="89.30" cy="379.72" r="0.85" fill="#858585" fill-opacity="0.5"/>
<circle cx="90.31" cy="387.00" r="0.85" fill="#858585" fill-opacity="0.5"/>
<circle cx="88.92" cy="370.42" r="0.85" fill="#858585" fill-opacity="0.5"/>
<circle cx="89.82" cy="368.52" r="0.85" fill="#858585" fill-opacity="0.5"/>
<circle cx="89.14" cy="368.42" r="0.85" fill="#858585" fill-opacity="0.5"/>
<circle cx="89.86" cy="367.32" r="0.85" fill="#858585" fill-opacity="0.5"/>
<circle cx="91.39" cy="368.69" r="0.85" fill="#858585" fill-opacity="0.5"/>
<circle cx="88.14" cy="370.65" r="0.85" fill="#858585" fill-opacity="0.5"/>
<circle cx="90.74" cy="370.22" r="0.85" fill="#858585" fill-opacity="0.5"/>
<circle cx="90.45" cy="364.32" r="0.85" fill="#858585" fill-opacity="0.5"/>
<circle cx="87.53" cy="387.00" r="0.85" fill="#858585" fill-opacity="0.5"/>
<circle cx="89.63" cy="370.01" r="0.85" fill="#858585" fill-opacity="0.5"/>
<circle cx="88.70" cy="369.63" r="0.85" fill="#858585" fill-opacity="0.5"/>
<circle cx="88.64" cy="372.83" r="0.85" fill="#858585" fill-opacity="0.5"/>
<circle cx="87.69" cy="370.26" r="0.85" fill="#858585" fill-opacity="0.5"/>
<circle cx="89.87" cy="371.31" r="0.85" fill="#858585" fill-opacity="0.5"/>
<circle cx="90.77" cy="368.99" r="0.85" fill="#858585" fill-opacity="0.5"/>
<circle cx="89.43" cy="368.55" r="0.85" fill="#858585" fill-opacity="0.5"/>
<circle cx="90.72" cy="373.17" r="0.85" fill="#858585" fill-opacity="0.5"/>
<circle cx="92.22" cy="368.94" r="0.85" fill="#858585" fill-opacity="0.5"/>
<circle cx="89.86" cy="371.66" r="0.85" fill="#858585" fill-opacity="0.5"/>
<circle cx="106.20" cy="333.10" r="0.85" fill="#858585" fill-opacity="0.5"/>
<circle cx="106.57" cy="329.26" r="0.85" fill="#858585" fill-opacity="0.5"/>
<circle cx="106.93" cy="326.16" r="0.85" fill="#858585" fill-opacity="0.5"/>
<circle cx="106.55" cy="326.70" r="0.85" fill="#858585" fill-opacity="0.5"/>
<circle cx="106.81" cy="334.03" r="0.85" fill="#858585" fill-opacity="0.5"/>
<circle cx="104.95" cy="332.88" r="0.85" fill="#858585" fill-opacity="0.5"/>
<circle cx="107.61" cy="320.73" r="0.85" fill="#858585" fill-opacity="0.5"/>
<circle cx="105.96" cy="329.71" r="0.85" fill="#858585" fill-opacity="0.5"/>
<circle cx="106.81" cy="326.55" r="0.85" fill="#858585" fill-opacity="0.5"/>
<circle cx="104.09" cy="340.42" r="0.85" fill="#858585" fill-opacity="0.5"/>
<circle cx="104.69" cy="320.28" r="0.85" fill="#858585" fill-opacity="0.5"/>
<circle cx="105.10" cy="328.38" r="0.85" fill="#858585" fill-opacity="0.5"/>
<circle cx="106.45" cy="331.45" r="0.85" fill="#858585" fill-opacity="0.5"/>
<circle cx="107.60" cy="329.84" r="0.85" fill="#858585" fill-opacity="0.5"/>
<circle cx="105.30" cy="333.18" r="0.85" fill="#858585" fill-opacity="0.5"/>
<circle cx="103.49" cy="331.93" r="0.85" fill="#858585" fill-opacity="0.5"/>
<circle cx="105.51" cy="332.90" r="0.85" fill="#858585" fill-opacity="0.5"/>
<circle cx="107.42" cy="343.90" r="0.85" fill="#858585" fill-opacity="0.5"/>
<circle cx="104.28" cy="327.07" r="0.85" fill="#858585" fill-opacity="0.5"/>
<circle cx="105.41" cy="329.24" r="0.85" fill="#858585" fill-opacity="0.5"/>
<circle cx="107.94" cy="331.66" r="0.85" fill="#858585" fill-opacity="0.5"/>
<circle cx="105.52" cy="327.81" r="0.85" fill="#858585" fill-opacity="0.5"/>
<circle cx="108.51" cy="325.97" r="0.85" fill="#858585" fill-opacity="0.5"/>
<circle cx="107.00" cy="335.51" r="0.85" fill="#858585" fill-opacity="0.5"/>
<circle cx="104.42" cy="333.27" r="0.85" fill="#858585" fill-opacity="0.5"/>
<circle cx="105.71" cy="336.82" r="0.85" fill="#858585" fill-opacity="0.5"/>
<circle cx="108.69" cy="329.72" r="0.85" fill="#858585" fill-opacity="0.5"/>
<circle cx="106.71" cy="331.05" r="0.85" fill="#858585" fill-opacity="0.5"/>
<circle cx="106.03" cy="330.33" r="0.85" fill="#858585" fill-opacity="0.5"/>
<circle cx="106.55" cy="329.78" r="0.85" fill="#858585" fill-opacity="0.5"/>
<circle cx="103.80" cy="330.11" r="0.85" fill="#858585" fill-opacity="0.5"/>
<circle cx="105.98" cy="330.96" r="0.85" fill="#858585" fill-opacity="0.5"/>
<circle cx="105.98" cy="327.96" r="0.85" fill="#858585" fill-opacity="0.5"/>
<circle cx="106.19" cy="331.82" r="0.85" fill="#858585" fill-opacity="0.5"/>
<circle cx="106.35" cy="332.66" r="0.85" fill="#858585" fill-opacity="0.5"/>
<circle cx="106.71" cy="345.39" r="0.85" fill="#858585" fill-opacity="0.5"/>
<circle cx="105.67" cy="330.55" r="0.85" fill="#858585" fill-opacity="0.5"/>
<circle cx="106.40" cy="330.51" r="0.85" fill="#858585" fill-opacity="0.5"/>
<circle cx="106.79" cy="330.21" r="0.85" fill="#858585" fill-opacity="0.5"/>
<circle cx="105.82" cy="342.03" r="0.85" fill="#858585" fill-opacity="0.5"/>
<circle cx="105.67" cy="330.83" r="0.85" fill="#858585" fill-opacity="0.5"/>
<circle cx="107.06" cy="329.83" r="0.85" fill="#858585" fill-opacity="0.5"/>
<circle cx="106.47" cy="331.07" r="0.85" fill="#858585" fill-opacity="0.5"/>
<circle cx="106.50" cy="329.47" r="0.85" fill="#858585" fill-opacity="0.5"/>
<circle cx="108.69" cy="335.10" r="0.85" fill="#858585" fill-opacity="0.5"/>
<circle cx="104.57" cy="332.85" r="0.85" fill="#858585" fill-opacity="0.5"/>
<circle cx="105.67" cy="328.84" r="0.85" fill="#858585" fill-opacity="0.5"/>
<circle cx="106.32" cy="329.95" r="0.85" fill="#858585" fill-opacity="0.5"/>
<circle cx="104.00" cy="326.85" r="0.85" fill="#858585" fill-opacity="0.5"/>
<circle cx="106.42" cy="325.20" r="0.85" fill="#858585" fill-opacity="0.5"/>
<circle cx="105.60" cy="324.99" r="0.85" fill="#858585" fill-opacity="0.5"/>
<circle cx="104.53" cy="334.16" r="0.85" fill="#858585" fill-opacity="0.5"/>
<circle cx="108.69" cy="330.94" r="0.85" fill="#858585" fill-opacity="0.5"/>
<circle cx="106.91" cy="336.80" r="0.85" fill="#858585" fill-opacity="0.5"/>
<circle cx="107.18" cy="330.89" r="0.85" fill="#858585" fill-opacity="0.5"/>
<circle cx="105.67" cy="333.16" r="0.85" fill="#858585" fill-opacity="0.5"/>
<circle cx="104.53" cy="345.65" r="0.85" fill="#858585" fill-opacity="0.5"/>
<circle cx="104.07" cy="329.30" r="0.85" fill="#858585" fill-opacity="0.5"/>
<circle cx="104.84" cy="329.30" r="0.85" fill="#858585" fill-opacity="0.5"/>
<circle cx="105.23" cy="328.65" r="0.85" fill="#858585" fill-opacity="0.5"/>
<circle cx="105.35" cy="331.62" r="0.85" fill="#858585" fill-opacity="0.5"/>
<circle cx="103.49" cy="349.89" r="0.85" fill="#858585" fill-opacity="0.5"/>
<circle cx="104.09" cy="326.37" r="0.85" fill="#858585" fill-opacity="0.5"/>
<circle cx="108.69" cy="332.19" r="0.85" fill="#858585" fill-opacity="0.5"/>
<circle cx="107.08" cy="325.69" r="0.85" fill="#858585" fill-opacity="0.5"/>
<circle cx="107.54" cy="332.79" r="0.85" fill="#858585" fill-opacity="0.5"/>
<circle cx="105.82" cy="324.80" r="0.85" fill="#858585" fill-opacity="0.5"/>
<circle cx="105.61" cy="341.88" r="0.85" fill="#858585" fill-opacity="0.5"/>
<circle cx="104.54" cy="331.29" r="0.85" fill="#858585" fill-opacity="0.5"/>
<circle cx="104.01" cy="333.14" r="0.85" fill="#858585" fill-opacity="0.5"/>
<circle cx="115.18" cy="336.66" r="0.85" fill="#858585" fill-opacity="0.5"/>
<circle cx="114.13" cy="334.51" r="0.85" fill="#858585" fill-opacity="0.5"/>
<circle cx="110.62" cy="333.17" r="0.85" fill="#858585" fill-opacity="0.5"/>
<circle cx="114.26" cy="331.77" r="0.85" fill="#858585" fill-opacity="0.5"/>
<circle cx="112.54" cy="337.73" r="0.85" fill="#858585" fill-opacity="0.5"/>
<circle cx="111.78" cy="338.69" r="0.85" fill="#858585" fill-opacity="0.5"/>
<circle cx="112.41" cy="334.06" r="0.85" fill="#858585" fill-opacity="0.5"/>
<circle cx="111.85" cy="337.40" r="0.85" fill="#858585" fill-opacity="0.5"/>
<circle cx="113.91" cy="335.92" r="0.85" fill="#858585" fill-opacity="0.5"/>
<circle cx="114.46" cy="346.82" r="0.85" fill="#858585" fill-opacity="0.5"/>
<circle cx="113.27" cy="338.06" r="0.85" fill="#858585" fill-opacity="0.5"/>
<circle cx="110.97" cy="344.59" r="0.85" fill="#858585" fill-opacity="0.5"/>
<circle cx="112.74" cy="331.92" r="0.85" fill="#858585" fill-opacity="0.5"/>
<circle cx="112.01" cy="337.54" r="0.85" fill="#858585" fill-opacity="0.5"/>
<circle cx="112.81" cy="336.84" r="0.85" fill="#858585" fill-opacity="0.5"/>
<circle cx="112.58" cy="334.16" r="0.85" fill="#858585" fill-opacity="0.5"/>
<circle cx="112.90" cy="334.44" r="0.85" fill="#858585" fill-opacity="0.5"/>
<circle cx="113.38" cy="336.70" r="0.85" fill="#858585" fill-opacity="0.5"/>
<circle cx="111.72" cy="334.60" r="0.85" fill="#858585" fill-opacity="0.5"/>
<circle cx="112.30" cy="332.45" r="0.85" fill="#858585" fill-opacity="0.5"/>
<circle cx="114.81" cy="334.28" r="0.85" fill="#858585" fill-opacity="0.5"/>
<circle cx="111.11" cy="335.58" r="0.85" fill="#858585" fill-opacity="0.5"/>
<circle cx="113.71" cy="332.10" r="0.85" fill="#858585" fill-opacity="0.5"/>
<circle cx="113.15" cy="335.87" r="0.85" fill="#858585" fill-opacity="0.5"/>
<circle cx="112.03" cy="330.12" r="0.85" fill="#858585" fill-opacity="0.5"/>
<circle cx="111.75" cy="333.93" r="0.85" fill="#858585" fill-opacity="0.5"/>
<circle cx="113.31" cy="340.80" r="0.85" fill="#858585" fill-opacity="0.5"/>
<circle cx="113.46" cy="333.82" r="0.85" fill="#858585" fill-opacity="0.5"/>
<circle cx="112.76" cy="329.77" r="0.85" fill="#858585" fill-opacity="0.5"/>
<circle cx="113.45" cy="333.21" r="0.85" fill="#858585" fill-opacity="0.5"/>
<circle cx="115.59" cy="333.08" r="0.85" fill="#858585" fill-opacity="0.5"/>
<circle cx="112.85" cy="335.92" r="0.85" fill="#858585" fill-opacity="0.5"/>
<circle cx="112.61" cy="333.03" r="0.85" fill="#858585" fill-opacity="0.5"/>
<circle cx="112.22" cy="341.50" r="0.85" fill="#858585" fill-opacity="0.5"/>
<circle cx="111.72" cy="334.45" r="0.85" fill="#858585" fill-opacity="0.5"/>
<circle cx="113.39" cy="334.15" r="0.85" fill="#858585" fill-opacity="0.5"/>
<circle cx="113.72" cy="335.77" r="0.85" fill="#858585" fill-opacity="0.5"/>
<circle cx="115.17" cy="336.87" r="0.85" fill="#858585" fill-opacity="0.5"/>
<circle cx="114.02" cy="333.45" r="0.85" fill="#858585" fill-opacity="0.5"/>
<circle cx="113.12" cy="335.46" r="0.85" fill="#858585" fill-opacity="0.5"/>
<circle cx="111.24" cy="339.84" r="0.85" fill="#858585" fill-opacity="0.5"/>
<circle cx="114.13" cy="335.72" r="0.85" fill="#858585" fill-opacity="0.5"/>
<circle cx="113.39" cy="336.57" r="0.85" fill="#858585" fill-opacity="0.5"/>
<circle cx="112.61" cy="332.57" r="0.85" fill="#858585" fill-opacity="0.5"/>
<circle cx="113.23" cy="337.56" r="0.85" fill="#858585" fill-opacity="0.5"/>
<circle cx="113.04" cy="338.83" r="0.85" fill="#858585" fill-opacity="0.5"/>
<circle cx="112.20" cy="331.67" r="0.85" fill="#858585" fill-opacity="0.5"/>
<circle cx="113.00" cy="332.20" r="0.85" fill="#858585" fill-opacity="0.5"/>
<circle cx="111.61" cy="332.69" r="0.85" fill="#858585" fill-opacity="0.5"/>
<circle cx="114.97" cy="336.73" r="0.85" fill="#858585" fill-opacity="0.5"/>
<circle cx="111.41" cy="335.01" r="0.85" fill="#858585" fill-opacity="0.5"/>
<circle cx="114.46" cy="332.45" r="0.85" fill="#858585" fill-opacity="0.5"/>
<circle cx="114.43" cy="327.87" r="0.85" fill="#858585" fill-opacity="0.5"/>
<circle cx="114.37" cy="334.72" r="0.85" fill="#858585" fill-opacity="0.5"/>
<circle cx="112.76" cy="329.99" r="0.85" fill="#858585" fill-opacity="0.5"/>
<circle cx="112.49" cy="334.18" r="0.85" fill="#858585" fill-opacity="0.5"/>
<circle cx="113.80" cy="332.41" r="0.85" fill="#858585" fill-opacity="0.5"/>
<circle cx="113.84" cy="332.66" r="0.85" fill="#858585" fill-opacity="0.5"/>
<circle cx="111.05" cy="332.39" r="0.85" fill="#858585" fill-opacity="0.5"/>
<circle cx="114.68" cy="337.24" r="0.85" fill="#858585" fill-opacity="0.5"/>
<circle cx="112.17" cy="342.98" r="0.85" fill="#858585" fill-opacity="0.5"/>
<circle cx="110.39" cy="330.54" r="0.85" fill="#858585" fill-opacity="0.5"/>
<circle cx="112.98" cy="332.64" r="0.85" fill="#858585" fill-opacity="0.5"/>
<circle cx="112.14" cy="330.98" r="0.85" fill="#858585" fill-opacity="0.5"/>
<circle cx="111.45" cy="335.25" r="0.85" fill="#858585" fill-opacity="0.5"/>
<circle cx="112.49" cy="331.64" r="0.85" fill="#858585" fill-opacity="0.5"/>
<circle cx="114.17" cy="336.90" r="0.85" fill="#858585" fill-opacity="0.5"/>
<circle cx="112.87" cy="333.22" r="0.85" fill="#858585" fill-opacity="0.5"/>
<circle cx="113.40" cy="337.31" r="0.85" fill="#858585" fill-opacity="0.5"/>
<circle cx="113.31" cy="335.34" r="0.85" fill="#858585" fill-opacity="0.5"/>
<circle cx="120.32" cy="342.94" r="0.85" fill="#858585" fill-opacity="0.5"/>
<circle cx="121.09" cy="360.04" r="0.85" fill="#858585" fill-opacity="0.5"/>
<circle cx="120.77" cy="339.23" r="0.85" fill="#858585" fill-opacity="0.5"/>
<circle cx="120.16" cy="337.57" r="0.85" fill="#858585" fill-opacity="0.5"/>
<circle cx="122.49" cy="342.80" r="0.85" fill="#858585" fill-opacity="0.5"/>
<circle cx="119.45" cy="339.49" r="0.85" fill="#858585" fill-opacity="0.5"/>
<circle cx="122.49" cy="337.20" r="0.85" fill="#858585" fill-opacity="0.5"/>
<circle cx="119.27" cy="341.28" r="0.85" fill="#858585" fill-opacity="0.5"/>
<circle cx="122.49" cy="338.19" r="0.85" fill="#858585" fill-opacity="0.5"/>
<circle cx="117.31" cy="338.75" r="0.85" fill="#858585" fill-opacity="0.5"/>
<circle cx="117.97" cy="333.21" r="0.85" fill="#858585" fill-opacity="0.5"/>
<circle cx="120.76" cy="340.12" r="0.85" fill="#858585" fill-opacity="0.5"/>
<circle cx="119.17" cy="339.62" r="0.85" fill="#858585" fill-opacity="0.5"/>
<circle cx="121.31" cy="342.95" r="0.85" fill="#858585" fill-opacity="0.5"/>
<circle cx="118.45" cy="338.94" r="0.85" fill="#858585" fill-opacity="0.5"/>
<circle cx="118.72" cy="338.94" r="0.85" fill="#858585" fill-opacity="0.5"/>
<circle cx="121.39" cy="339.39" r="0.85" fill="#858585" fill-opacity="0.5"/>
<circle cx="120.13" cy="338.86" r="0.85" fill="#858585" fill-opacity="0.5"/>
<circle cx="119.25" cy="328.07" r="0.85" fill="#858585" fill-opacity="0.5"/>
<circle cx="119.80" cy="338.58" r="0.85" fill="#858585" fill-opacity="0.5"/>
<circle cx="118.74" cy="335.97" r="0.85" fill="#858585" fill-opacity="0.5"/>
<circle cx="119.20" cy="344.06" r="0.85" fill="#858585" fill-opacity="0.5"/>
<circle cx="121.72" cy="349.79" r="0.85" fill="#858585" fill-opacity="0.5"/>
<circle cx="117.93" cy="340.41" r="0.85" fill="#858585" fill-opacity="0.5"/>
<circle cx="118.17" cy="338.94" r="0.85" fill="#858585" fill-opacity="0.5"/>
<circle cx="120.23" cy="341.20" r="0.85" fill="#858585" fill-opacity="0.5"/>
<circle cx="120.38" cy="339.06" r="0.85" fill="#858585" fill-opacity="0.5"/>
<circle cx="121.72" cy="342.27" r="0.85" fill="#858585" fill-opacity="0.5"/>
<circle cx="117.29" cy="342.28" r="0.85" fill="#858585" fill-opacity="0.5"/>
<circle cx="119.73" cy="344.03" r="0.85" fill="#858585" fill-opacity="0.5"/>
<circle cx="119.52" cy="343.95" r="0.85" fill="#858585" fill-opacity="0.5"/>
<circle cx="121.31" cy="340.64" r="0.85" fill="#858585" fill-opacity="0.5"/>
<circle cx="120.44" cy="338.83" r="0.85" fill="#858585" fill-opacity="0.5"/>
<circle cx="118.23" cy="343.03" r="0.85" fill="#858585" fill-opacity="0.5"/>
<circle cx="119.36" cy="337.99" r="0.85" fill="#858585" fill-opacity="0.5"/>
<circle cx="117.83" cy="341.37" r="0.85" fill="#858585" fill-opacity="0.5"/>
<circle cx="120.05" cy="342.67" r="0.85" fill="#858585" fill-opacity="0.5"/>
<circle cx="119.26" cy="343.11" r="0.85" fill="#858585" fill-opacity="0.5"/>
<circle cx="119.08" cy="338.76" r="0.85" fill="#858585" fill-opacity="0.5"/>
<circle cx="120.97" cy="340.39" r="0.85" fill="#858585" fill-opacity="0.5"/>
<circle cx="119.03" cy="337.72" r="0.85" fill="#858585" fill-opacity="0.5"/>
<circle cx="118.47" cy="335.26" r="0.85" fill="#858585" fill-opacity="0.5"/>
<circle cx="118.64" cy="339.63" r="0.85" fill="#858585" fill-opacity="0.5"/>
<circle cx="121.86" cy="341.78" r="0.85" fill="#858585" fill-opacity="0.5"/>
<circle cx="122.11" cy="343.48" r="0.85" fill="#858585" fill-opacity="0.5"/>
<circle cx="118.97" cy="338.04" r="0.85" fill="#858585" fill-opacity="0.5"/>
<circle cx="120.62" cy="340.00" r="0.85" fill="#858585" fill-opacity="0.5"/>
<circle cx="120.50" cy="339.99" r="0.85" fill="#858585" fill-opacity="0.5"/>
<circle cx="118.99" cy="349.14" r="0.85" fill="#858585" fill-opacity="0.5"/>
<circle cx="120.01" cy="339.75" r="0.85" fill="#858585" fill-opacity="0.5"/>
<circle cx="119.91" cy="345.85" r="0.85" fill="#858585" fill-opacity="0.5"/>
<circle cx="117.98" cy="339.00" r="0.85" fill="#858585" fill-opacity="0.5"/>
<circle cx="118.98" cy="339.31" r="0.85" fill="#858585" fill-opacity="0.5"/>
<circle cx="120.86" cy="339.21" r="0.85" fill="#858585" fill-opacity="0.5"/>
<circle cx="119.52" cy="340.25" r="0.85" fill="#858585" fill-opacity="0.5"/>
<circle cx="120.65" cy="339.62" r="0.85" fill="#858585" fill-opacity="0.5"/>
<circle cx="119.84" cy="333.67" r="0.85" fill="#858585" fill-opacity="0.5"/>
<circle cx="118.20" cy="339.81" r="0.85" fill="#858585" fill-opacity="0.5"/>
<circle cx="119.23" cy="339.35" r="0.85" fill="#858585" fill-opacity="0.5"/>
<circle cx="118.61" cy="337.35" r="0.85" fill="#858585" fill-opacity="0.5"/>
<circle cx="117.44" cy="339.19" r="0.85" fill="#858585" fill-opacity="0.5"/>
<circle cx="118.40" cy="336.56" r="0.85" fill="#858585" fill-opacity="0.5"/>
<circle cx="120.24" cy="338.54" r="0.85" fill="#858585" fill-opacity="0.5"/>
<circle cx="121.74" cy="338.03" r="0.85" fill="#858585" fill-opacity="0.5"/>
<circle cx="120.05" cy="337.49" r="0.85" fill="#858585" fill-opacity="0.5"/>
<circle cx="118.28" cy="350.64" r="0.85" fill="#858585" fill-opacity="0.5"/>
<circle cx="120.21" cy="342.25" r="0.85" fill="#858585" fill-opacity="0.5"/>
<circle cx="119.99" cy="343.44" r="0.85" fill="#858585" fill-opacity="0.5"/>
<circle cx="119.93" cy="341.64" r="0.85" fill="#858585" fill-opacity="0.5"/>
<circle cx="120.50" cy="342.76" r="0.85" fill="#858585" fill-opacity="0.5"/>
<circle cx="127.94" cy="346.36" r="0.85" fill="#858585" fill-opacity="0.5"/>
<circle cx="126.48" cy="348.34" r="0.85" fill="#858585" fill-opacity="0.5"/>
<circle cx="126.80" cy="343.52" r="0.85" fill="#858585" fill-opacity="0.5"/>
<circle cx="126.67" cy="350.41" r="0.85" fill="#858585" fill-opacity="0.5"/>
<circle cx="127.33" cy="351.95" r="0.85" fill="#858585" fill-opacity="0.5"/>
<circle cx="126.71" cy="345.71" r="0.85" fill="#858585" fill-opacity="0.5"/>
<circle cx="125.63" cy="348.95" r="0.85" fill="#858585" fill-opacity="0.5"/>
<circle cx="126.06" cy="349.31" r="0.85" fill="#858585" fill-opacity="0.5"/>
<circle cx="125.63" cy="352.47" r="0.85" fill="#858585" fill-opacity="0.5"/>
<circle cx="125.28" cy="350.01" r="0.85" fill="#858585" fill-opacity="0.5"/>
<circle cx="124.99" cy="351.11" r="0.85" fill="#858585" fill-opacity="0.5"/>
<circle cx="127.22" cy="343.11" r="0.85" fill="#858585" fill-opacity="0.5"/>
<circle cx="124.38" cy="345.07" r="0.85" fill="#858585" fill-opacity="0.5"/>
<circle cx="128.39" cy="344.14" r="0.85" fill="#858585" fill-opacity="0.5"/>
<circle cx="127.30" cy="350.28" r="0.85" fill="#858585" fill-opacity="0.5"/>
<circle cx="125.87" cy="349.66" r="0.85" fill="#858585" fill-opacity="0.5"/>
<circle cx="127.62" cy="347.73" r="0.85" fill="#858585" fill-opacity="0.5"/>
<circle cx="127.78" cy="347.89" r="0.85" fill="#858585" fill-opacity="0.5"/>
<circle cx="127.76" cy="348.28" r="0.85" fill="#858585" fill-opacity="0.5"/>
<circle cx="127.47" cy="347.34" r="0.85" fill="#858585" fill-opacity="0.5"/>
<circle cx="127.59" cy="355.79" r="0.85" fill="#858585" fill-opacity="0.5"/>
<circle cx="126.46" cy="349.29" r="0.85" fill="#858585" fill-opacity="0.5"/>
<circle cx="128.26" cy="346.12" r="0.85" fill="#858585" fill-opacity="0.5"/>
<circle cx="127.64" cy="351.77" r="0.85" fill="#858585" fill-opacity="0.5"/>
<circle cx="124.41" cy="348.53" r="0.85" fill="#858585" fill-opacity="0.5"/>
<circle cx="126.37" cy="349.03" r="0.85" fill="#858585" fill-opacity="0.5"/>
<circle cx="127.46" cy="369.53" r="0.85" fill="#858585" fill-opacity="0.5"/>
<circle cx="128.11" cy="346.89" r="0.85" fill="#858585" fill-opacity="0.5"/>
<circle cx="126.42" cy="354.17" r="0.85" fill="#858585" fill-opacity="0.5"/>
<circle cx="126.97" cy="350.24" r="0.85" fill="#858585" fill-opacity="0.5"/>
<circle cx="126.52" cy="355.27" r="0.85" fill="#858585" fill-opacity="0.5"/>
<circle cx="126.50" cy="345.96" r="0.85" fill="#858585" fill-opacity="0.5"/>
<circle cx="125.90" cy="350.02" r="0.85" fill="#858585" fill-opacity="0.5"/>
<circle cx="126.03" cy="347.51" r="0.85" fill="#858585" fill-opacity="0.5"/>
<circle cx="126.55" cy="347.34" r="0.85" fill="#858585" fill-opacity="0.5"/>
<circle cx="126.38" cy="349.92" r="0.85" fill="#858585" fill-opacity="0.5"/>
<circle cx="127.58" cy="350.09" r="0.85" fill="#858585" fill-opacity="0.5"/>
<circle cx="125.89" cy="349.89" r="0.85" fill="#858585" fill-opacity="0.5"/>
<circle cx="124.71" cy="348.98" r="0.85" fill="#858585" fill-opacity="0.5"/>
<circle cx="126.94" cy="345.63" r="0.85" fill="#858585" fill-opacity="0.5"/>
<circle cx="127.91" cy="353.02" r="0.85" fill="#858585" fill-opacity="0.5"/>
<circle cx="125.72" cy="351.45" r="0.85" fill="#858585" fill-opacity="0.5"/>
<circle cx="125.98" cy="350.34" r="0.85" fill="#858585" fill-opacity="0.5"/>
<circle cx="128.29" cy="348.82" r="0.85" fill="#858585" fill-opacity="0.5"/>
<circle cx="125.48" cy="348.68" r="0.85" fill="#858585" fill-opacity="0.5"/>
<circle cx="126.62" cy="350.55" r="0.85" fill="#858585" fill-opacity="0.5"/>
<circle cx="126.04" cy="351.44" r="0.85" fill="#858585" fill-opacity="0.5"/>
<circle cx="128.69" cy="351.46" r="0.85" fill="#858585" fill-opacity="0.5"/>
<circle cx="127.50" cy="353.00" r="0.85" fill="#858585" fill-opacity="0.5"/>
<circle cx="124.76" cy="349.08" r="0.85" fill="#858585" fill-opacity="0.5"/>
<circle cx="126.38" cy="349.27" r="0.85" fill="#858585" fill-opacity="0.5"/>
<circle cx="124.90" cy="350.03" r="0.85" fill="#858585" fill-opacity="0.5"/>
<circle cx="128.59" cy="347.76" r="0.85" fill="#858585" fill-opacity="0.5"/>
<circle cx="126.32" cy="347.25" r="0.85" fill="#858585" fill-opacity="0.5"/>
<circle cx="127.22" cy="348.83" r="0.85" fill="#858585" fill-opacity="0.5"/>
<circle cx="126.45" cy="352.36" r="0.85" fill="#858585" fill-opacity="0.5"/>
<circle cx="127.25" cy="352.60" r="0.85" fill="#858585" fill-opacity="0.5"/>
<circle cx="124.19" cy="348.19" r="0.85" fill="#858585" fill-opacity="0.5"/>
<circle cx="126.23" cy="344.48" r="0.85" fill="#858585" fill-opacity="0.5"/>
<circle cx="126.98" cy="344.60" r="0.85" fill="#858585" fill-opacity="0.5"/>
<circle cx="127.32" cy="353.01" r="0.85" fill="#858585" fill-opacity="0.5"/>
<circle cx="128.18" cy="352.09" r="0.85" fill="#858585" fill-opacity="0.5"/>
<circle cx="128.47" cy="344.77" r="0.85" fill="#858585" fill-opacity="0.5"/>
<circle cx="126.54" cy="347.98" r="0.85" fill="#858585" fill-opacity="0.5"/>
<circle cx="124.66" cy="347.15" r="0.85" fill="#858585" fill-opacity="0.5"/>
<circle cx="127.65" cy="350.85" r="0.85" fill="#858585" fill-opacity="0.5"/>
<circle cx="126.03" cy="344.61" r="0.85" fill="#858585" fill-opacity="0.5"/>
<circle cx="126.55" cy="346.31" r="0.85" fill="#858585" fill-opacity="0.5"/>
<circle cx="128.54" cy="347.30" r="0.85" fill="#858585" fill-opacity="0.5"/>
<circle cx="127.24" cy="365.31" r="0.85" fill="#858585" fill-opacity="0.5"/>
<circle cx="132.68" cy="361.24" r="0.85" fill="#858585" fill-opacity="0.5"/>
<circle cx="133.01" cy="353.65" r="0.85" fill="#858585" fill-opacity="0.5"/>
<circle cx="134.35" cy="347.54" r="0.85" fill="#858585" fill-opacity="0.5"/>
<circle cx="135.88" cy="348.01" r="0.85" fill="#858585" fill-opacity="0.5"/>
<circle cx="134.15" cy="349.45" r="0.85" fill="#858585" fill-opacity="0.5"/>
<circle cx="132.75" cy="346.80" r="0.85" fill="#858585" fill-opacity="0.5"/>
<circle cx="133.81" cy="352.18" r="0.85" fill="#858585" fill-opacity="0.5"/>
<circle cx="132.70" cy="355.55" r="0.85" fill="#858585" fill-opacity="0.5"/>
<circle cx="134.30" cy="351.28" r="0.85" fill="#858585" fill-opacity="0.5"/>
<circle cx="132.91" cy="353.94" r="0.85" fill="#858585" fill-opacity="0.5"/>
<circle cx="134.83" cy="353.33" r="0.85" fill="#858585" fill-opacity="0.5"/>
<circle cx="133.69" cy="354.46" r="0.85" fill="#858585" fill-opacity="0.5"/>
<circle cx="133.34" cy="350.76" r="0.85" fill="#858585" fill-opacity="0.5"/>
<circle cx="135.40" cy="350.78" r="0.85" fill="#858585" fill-opacity="0.5"/>
<circle cx="133.63" cy="350.92" r="0.85" fill="#858585" fill-opacity="0.5"/>
<circle cx="133.72" cy="349.33" r="0.85" fill="#858585" fill-opacity="0.5"/>
<circle cx="134.60" cy="349.08" r="0.85" fill="#858585" fill-opacity="0.5"/>
<circle cx="132.98" cy="346.80" r="0.85" fill="#858585" fill-opacity="0.5"/>
<circle cx="133.56" cy="349.36" r="0.85" fill="#858585" fill-opacity="0.5"/>
<circle cx="133.32" cy="351.52" r="0.85" fill="#858585" fill-opacity="0.5"/>
<circle cx="133.81" cy="352.33" r="0.85" fill="#858585" fill-opacity="0.5"/>
<circle cx="134.14" cy="348.00" r="0.85" fill="#858585" fill-opacity="0.5"/>
<circle cx="133.26" cy="349.83" r="0.85" fill="#858585" fill-opacity="0.5"/>
<circle cx="133.37" cy="352.95" r="0.85" fill="#858585" fill-opacity="0.5"/>
<circle cx="136.29" cy="351.26" r="0.85" fill="#858585" fill-opacity="0.5"/>
<circle cx="134.58" cy="353.37" r="0.85" fill="#858585" fill-opacity="0.5"/>
<circle cx="132.26" cy="348.05" r="0.85" fill="#858585" fill-opacity="0.5"/>
<circle cx="134.50" cy="356.09" r="0.85" fill="#858585" fill-opacity="0.5"/>
<circle cx="132.59" cy="367.67" r="0.85" fill="#858585" fill-opacity="0.5"/>
<circle cx="131.28" cy="346.94" r="0.85" fill="#858585" fill-opacity="0.5"/>
<circle cx="133.48" cy="352.95" r="0.85" fill="#858585" fill-opacity="0.5"/>
<circle cx="133.85" cy="348.98" r="0.85" fill="#858585" fill-opacity="0.5"/>
<circle cx="131.73" cy="356.49" r="0.85" fill="#858585" fill-opacity="0.5"/>
<circle cx="132.79" cy="347.07" r="0.85" fill="#858585" fill-opacity="0.5"/>
<circle cx="133.58" cy="354.18" r="0.85" fill="#858585" fill-opacity="0.5"/>
<circle cx="132.51" cy="342.78" r="0.85" fill="#858585" fill-opacity="0.5"/>
<circle cx="135.36" cy="349.96" r="0.85" fill="#858585" fill-opacity="0.5"/>
<circle cx="131.70" cy="350.53" r="0.85" fill="#858585" fill-opacity="0.5"/>
<circle cx="132.92" cy="353.48" r="0.85" fill="#858585" fill-opacity="0.5"/>
<circle cx="134.03" cy="357.04" r="0.85" fill="#858585" fill-opacity="0.5"/>
<circle cx="132.87" cy="349.29" r="0.85" fill="#858585" fill-opacity="0.5"/>
<circle cx="132.46" cy="372.13" r="0.85" fill="#858585" fill-opacity="0.5"/>
<circle cx="133.11" cy="355.43" r="0.85" fill="#858585" fill-opacity="0.5"/>
<circle cx="131.89" cy="354.00" r="0.85" fill="#858585" fill-opacity="0.5"/>
<circle cx="131.68" cy="369.13" r="0.85" fill="#858585" fill-opacity="0.5"/>
<circle cx="133.05" cy="352.81" r="0.85" fill="#858585" fill-opacity="0.5"/>
<circle cx="134.18" cy="355.94" r="0.85" fill="#858585" fill-opacity="0.5"/>
<circle cx="134.21" cy="349.53" r="0.85" fill="#858585" fill-opacity="0.5"/>
<circle cx="135.15" cy="349.53" r="0.85" fill="#858585" fill-opacity="0.5"/>
<circle cx="132.50" cy="350.67" r="0.85" fill="#858585" fill-opacity="0.5"/>
<circle cx="132.71" cy="372.15" r="0.85" fill="#858585" fill-opacity="0.5"/>
<circle cx="133.59" cy="350.38" r="0.85" fill="#858585" fill-opacity="0.5"/>
<circle cx="134.47" cy="353.77" r="0.85" fill="#858585" fill-opacity="0.5"/>
<circle cx="132.12" cy="351.11" r="0.85" fill="#858585" fill-opacity="0.5"/>
<circle cx="132.25" cy="349.29" r="0.85" fill="#858585" fill-opacity="0.5"/>
<circle cx="133.00" cy="351.78" r="0.85" fill="#858585" fill-opacity="0.5"/>
<circle cx="131.09" cy="346.05" r="0.85" fill="#858585" fill-opacity="0.5"/>
<circle cx="132.44" cy="347.23" r="0.85" fill="#858585" fill-opacity="0.5"/>
<circle cx="132.56" cy="352.66" r="0.85" fill="#858585" fill-opacity="0.5"/>
<circle cx="132.07" cy="350.36" r="0.85" fill="#858585" fill-opacity="0.5"/>
<circle cx="135.24" cy="349.72" r="0.85" fill="#858585" fill-opacity="0.5"/>
<circle cx="133.54" cy="370.21" r="0.85" fill="#858585" fill-opacity="0.5"/>
<circle cx="131.71" cy="352.44" r="0.85" fill="#858585" fill-opacity="0.5"/>
<circle cx="132.99" cy="350.51" r="0.85" fill="#858585" fill-opacity="0.5"/>
<circle cx="133.87" cy="347.32" r="0.85" fill="#858585" fill-opacity="0.5"/>
<circle cx="133.77" cy="351.33" r="0.85" fill="#858585" fill-opacity="0.5"/>
<circle cx="133.27" cy="351.77" r="0.85" fill="#858585" fill-opacity="0.5"/>
<circle cx="134.96" cy="349.33" r="0.85" fill="#858585" fill-opacity="0.5"/>
<circle cx="134.13" cy="347.02" r="0.85" fill="#858585" fill-opacity="0.5"/>
<circle cx="133.30" cy="352.61" r="0.85" fill="#858585" fill-opacity="0.5"/>
<circle cx="149.93" cy="311.87" r="0.85" fill="#858585" fill-opacity="0.5"/>
<circle cx="149.06" cy="313.90" r="0.85" fill="#858585" fill-opacity="0.5"/>
<circle cx="148.41" cy="311.94" r="0.85" fill="#858585" fill-opacity="0.5"/>
<circle cx="147.41" cy="310.10" r="0.85" fill="#858585" fill-opacity="0.5"/>
<circle cx="148.89" cy="318.64" r="0.85" fill="#858585" fill-opacity="0.5"/>
<circle cx="149.49" cy="312.32" r="0.85" fill="#858585" fill-opacity="0.5"/>
<circle cx="150.46" cy="311.74" r="0.85" fill="#858585" fill-opacity="0.5"/>
<circle cx="150.35" cy="316.94" r="0.85" fill="#858585" fill-opacity="0.5"/>
<circle cx="152.25" cy="315.57" r="0.85" fill="#858585" fill-opacity="0.5"/>
<circle cx="148.33" cy="312.30" r="0.85" fill="#858585" fill-opacity="0.5"/>
<circle cx="148.44" cy="315.58" r="0.85" fill="#858585" fill-opacity="0.5"/>
<circle cx="150.18" cy="310.09" r="0.85" fill="#858585" fill-opacity="0.5"/>
<circle cx="151.79" cy="310.66" r="0.85" fill="#858585" fill-opacity="0.5"/>
<circle cx="149.82" cy="313.99" r="0.85" fill="#858585" fill-opacity="0.5"/>
<circle cx="148.71" cy="312.02" r="0.85" fill="#858585" fill-opacity="0.5"/>
<circle cx="151.37" cy="312.40" r="0.85" fill="#858585" fill-opacity="0.5"/>
<circle cx="149.37" cy="304.87" r="0.85" fill="#858585" fill-opacity="0.5"/>
<circle cx="148.10" cy="313.15" r="0.85" fill="#858585" fill-opacity="0.5"/>
<circle cx="149.96" cy="312.94" r="0.85" fill="#858585" fill-opacity="0.5"/>
<circle cx="149.74" cy="317.28" r="0.85" fill="#858585" fill-opacity="0.5"/>
<circle cx="148.01" cy="302.26" r="0.85" fill="#858585" fill-opacity="0.5"/>
<circle cx="148.82" cy="309.14" r="0.85" fill="#858585" fill-opacity="0.5"/>
<circle cx="149.20" cy="313.37" r="0.85" fill="#858585" fill-opacity="0.5"/>
<circle cx="150.14" cy="316.70" r="0.85" fill="#858585" fill-opacity="0.5"/>
<circle cx="151.85" cy="311.37" r="0.85" fill="#858585" fill-opacity="0.5"/>
<circle cx="147.12" cy="316.64" r="0.85" fill="#858585" fill-opacity="0.5"/>
<circle cx="147.67" cy="314.99" r="0.85" fill="#858585" fill-opacity="0.5"/>
<circle cx="151.18" cy="312.28" r="0.85" fill="#858585" fill-opacity="0.5"/>
<circle cx="148.48" cy="313.13" r="0.85" fill="#858585" fill-opacity="0.5"/>
<circle cx="150.23" cy="311.66" r="0.85" fill="#858585" fill-opacity="0.5"/>
<circle cx="149.13" cy="311.62" r="0.85" fill="#858585" fill-opacity="0.5"/>
<circle cx="150.52" cy="310.27" r="0.85" fill="#858585" fill-opacity="0.5"/>
<circle cx="150.89" cy="305.82" r="0.85" fill="#858585" fill-opacity="0.5"/>
<circle cx="149.33" cy="307.35" r="0.85" fill="#858585" fill-opacity="0.5"/>
<circle cx="151.58" cy="315.11" r="0.85" fill="#858585" fill-opacity="0.5"/>
<circle cx="152.25" cy="314.05" r="0.85" fill="#858585" fill-opacity="0.5"/>
<circle cx="150.50" cy="312.54" r="0.85" fill="#858585" fill-opacity="0.5"/>
<circle cx="149.28" cy="326.05" r="0.85" fill="#858585" fill-opacity="0.5"/>
<circle cx="151.50" cy="314.03" r="0.85" fill="#858585" fill-opacity="0.5"/>
<circle cx="147.94" cy="311.68" r="0.85" fill="#858585" fill-opacity="0.5"/>
<circle cx="150.35" cy="312.91" r="0.85" fill="#858585" fill-opacity="0.5"/>
<circle cx="151.54" cy="308.83" r="0.85" fill="#858585" fill-opacity="0.5"/>
<circle cx="148.93" cy="312.82" r="0.85" fill="#858585" fill-opacity="0.5"/>
<circle cx="150.41" cy="312.59" r="0.85" fill="#858585" fill-opacity="0.5"/>
<circle cx="151.39" cy="320.24" r="0.85" fill="#858585" fill-opacity="0.5"/>
<circle cx="151.26" cy="323.53" r="0.85" fill="#858585" fill-opacity="0.5"/>
<circle cx="149.25" cy="309.68" r="0.85" fill="#858585" fill-opacity="0.5"/>
<circle cx="148.93" cy="309.16" r="0.85" fill="#858585" fill-opacity="0.5"/>
<circle cx="149.00" cy="315.59" r="0.85" fill="#858585" fill-opacity="0.5"/>
<circle cx="148.50" cy="315.25" r="0.85" fill="#858585" fill-opacity="0.5"/>
<circle cx="151.12" cy="311.87" r="0.85" fill="#858585" fill-opacity="0.5"/>
<circle cx="149.62" cy="314.18" r="0.85" fill="#858585" fill-opacity="0.5"/>
<circle cx="149.47" cy="307.10" r="0.85" fill="#858585" fill-opacity="0.5"/>
<circle cx="148.99" cy="304.72" r="0.85" fill="#858585" fill-opacity="0.5"/>
<circle cx="148.32" cy="312.25" r="0.85" fill="#858585" fill-opacity="0.5"/>
<circle cx="148.66" cy="305.02" r="0.85" fill="#858585" fill-opacity="0.5"/>
<circle cx="148.44" cy="321.21" r="0.85" fill="#858585" fill-opacity="0.5"/>
<circle cx="151.16" cy="311.52" r="0.85" fill="#858585" fill-opacity="0.5"/>
<circle cx="150.99" cy="312.29" r="0.85" fill="#858585" fill-opacity="0.5"/>
<circle cx="151.92" cy="312.69" r="0.85" fill="#858585" fill-opacity="0.5"/>
<circle cx="149.12" cy="309.49" r="0.85" fill="#858585" fill-opacity="0.5"/>
<circle cx="150.62" cy="308.70" r="0.85" fill="#858585" fill-opacity="0.5"/>
<circle cx="151.52" cy="310.60" r="0.85" fill="#858585" fill-opacity="0.5"/>
<circle cx="151.70" cy="310.30" r="0.85" fill="#858585" fill-opacity="0.5"/>
<circle cx="149.23" cy="308.58" r="0.85" fill="#858585" fill-opacity="0.5"/>
<circle cx="149.85" cy="307.46" r="0.85" fill="#858585" fill-opacity="0.5"/>
<circle cx="151.60" cy="311.15" r="0.85" fill="#858585" fill-opacity="0.5"/>
<circle cx="149.75" cy="320.77" r="0.85" fill="#858585" fill-opacity="0.5"/>
<circle cx="150.24" cy="312.62" r="0.85" fill="#858585" fill-opacity="0.5"/>
<circle cx="150.17" cy="313.95" r="0.85" fill="#858585" fill-opacity="0.5"/>
<circle cx="155.50" cy="328.93" r="0.85" fill="#858585" fill-opacity="0.5"/>
<circle cx="157.95" cy="309.12" r="0.85" fill="#858585" fill-opacity="0.5"/>
<circle cx="155.82" cy="308.65" r="0.85" fill="#858585" fill-opacity="0.5"/>
<circle cx="155.26" cy="310.72" r="0.85" fill="#858585" fill-opacity="0.5"/>
<circle cx="155.74" cy="311.11" r="0.85" fill="#858585" fill-opacity="0.5"/>
<circle cx="156.51" cy="311.77" r="0.85" fill="#858585" fill-opacity="0.5"/>
<circle cx="156.51" cy="308.41" r="0.85" fill="#858585" fill-opacity="0.5"/>
<circle cx="156.33" cy="315.75" r="0.85" fill="#858585" fill-opacity="0.5"/>
<circle cx="156.66" cy="315.63" r="0.85" fill="#858585" fill-opacity="0.5"/>
<circle cx="155.37" cy="309.47" r="0.85" fill="#858585" fill-opacity="0.5"/>
<circle cx="156.95" cy="311.35" r="0.85" fill="#858585" fill-opacity="0.5"/>
<circle cx="156.81" cy="311.94" r="0.85" fill="#858585" fill-opacity="0.5"/>
<circle cx="155.85" cy="307.59" r="0.85" fill="#858585" fill-opacity="0.5"/>
<circle cx="157.05" cy="312.94" r="0.85" fill="#858585" fill-opacity="0.5"/>
<circle cx="156.19" cy="311.96" r="0.85" fill="#858585" fill-opacity="0.5"/>
<circle cx="155.87" cy="311.87" r="0.85" fill="#858585" fill-opacity="0.5"/>
<circle cx="155.65" cy="311.80" r="0.85" fill="#858585" fill-opacity="0.5"/>
<circle cx="155.51" cy="314.95" r="0.85" fill="#858585" fill-opacity="0.5"/>
<circle cx="158.00" cy="309.81" r="0.85" fill="#858585" fill-opacity="0.5"/>
<circle cx="157.18" cy="311.67" r="0.85" fill="#858585" fill-opacity="0.5"/>
<circle cx="156.10" cy="308.47" r="0.85" fill="#858585" fill-opacity="0.5"/>
<circle cx="155.52" cy="309.34" r="0.85" fill="#858585" fill-opacity="0.5"/>
<circle cx="157.02" cy="314.52" r="0.85" fill="#858585" fill-opacity="0.5"/>
<circle cx="155.62" cy="312.19" r="0.85" fill="#858585" fill-opacity="0.5"/>
<circle cx="156.13" cy="307.25" r="0.85" fill="#858585" fill-opacity="0.5"/>
<circle cx="154.94" cy="316.28" r="0.85" fill="#858585" fill-opacity="0.5"/>
<circle cx="158.67" cy="306.40" r="0.85" fill="#858585" fill-opacity="0.5"/>
<circle cx="159.15" cy="309.96" r="0.85" fill="#858585" fill-opacity="0.5"/>
<circle cx="156.07" cy="309.37" r="0.85" fill="#858585" fill-opacity="0.5"/>
<circle cx="156.65" cy="311.17" r="0.85" fill="#858585" fill-opacity="0.5"/>
<circle cx="156.39" cy="312.60" r="0.85" fill="#858585" fill-opacity="0.5"/>
<circle cx="155.92" cy="311.21" r="0.85" fill="#858585" fill-opacity="0.5"/>
<circle cx="155.28" cy="330.44" r="0.85" fill="#858585" fill-opacity="0.5"/>
<circle cx="157.74" cy="307.54" r="0.85" fill="#858585" fill-opacity="0.5"/>
<circle cx="155.94" cy="307.55" r="0.85" fill="#858585" fill-opacity="0.5"/>
<circle cx="155.61" cy="309.80" r="0.85" fill="#858585" fill-opacity="0.5"/>
<circle cx="157.53" cy="309.40" r="0.85" fill="#858585" fill-opacity="0.5"/>
<circle cx="157.97" cy="310.24" r="0.85" fill="#858585" fill-opacity="0.5"/>
<circle cx="156.19" cy="311.95" r="0.85" fill="#858585" fill-opacity="0.5"/>
<circle cx="157.03" cy="317.21" r="0.85" fill="#858585" fill-opacity="0.5"/>
<circle cx="155.72" cy="312.00" r="0.85" fill="#858585" fill-opacity="0.5"/>
<circle cx="157.72" cy="312.58" r="0.85" fill="#858585" fill-opacity="0.5"/>
<circle cx="157.72" cy="308.93" r="0.85" fill="#858585" fill-opacity="0.5"/>
<circle cx="156.35" cy="308.27" r="0.85" fill="#858585" fill-opacity="0.5"/>
<circle cx="158.86" cy="306.29" r="0.85" fill="#858585" fill-opacity="0.5"/>
<circle cx="157.73" cy="310.38" r="0.85" fill="#858585" fill-opacity="0.5"/>
<circle cx="159.15" cy="311.01" r="0.85" fill="#858585" fill-opacity="0.5"/>
<circle cx="156.72" cy="312.04" r="0.85" fill="#858585" fill-opacity="0.5"/>
<circle cx="155.79" cy="311.01" r="0.85" fill="#858585" fill-opacity="0.5"/>
<circle cx="156.09" cy="310.12" r="0.85" fill="#858585" fill-opacity="0.5"/>
<circle cx="156.11" cy="312.87" r="0.85" fill="#858585" fill-opacity="0.5"/>
<circle cx="157.84" cy="306.46" r="0.85" fill="#858585" fill-opacity="0.5"/>
<circle cx="156.83" cy="310.43" r="0.85" fill="#858585" fill-opacity="0.5"/>
<circle cx="156.16" cy="308.49" r="0.85" fill="#858585" fill-opacity="0.5"/>
<circle cx="157.55" cy="309.61" r="0.85" fill="#858585" fill-opacity="0.5"/>
<circle cx="155.78" cy="318.34" r="0.85" fill="#858585" fill-opacity="0.5"/>
<circle cx="156.64" cy="311.73" r="0.85" fill="#858585" fill-opacity="0.5"/>
<circle cx="157.08" cy="315.96" r="0.85" fill="#858585" fill-opacity="0.5"/>
<circle cx="153.95" cy="328.28" r="0.85" fill="#858585" fill-opacity="0.5"/>
<circle cx="157.62" cy="309.26" r="0.85" fill="#858585" fill-opacity="0.5"/>
<circle cx="157.81" cy="309.67" r="0.85" fill="#858585" fill-opacity="0.5"/>
<circle cx="157.23" cy="310.69" r="0.85" fill="#858585" fill-opacity="0.5"/>
<circle cx="154.92" cy="307.17" r="0.85" fill="#858585" fill-opacity="0.5"/>
<circle cx="156.84" cy="315.65" r="0.85" fill="#858585" fill-opacity="0.5"/>
<circle cx="156.88" cy="307.12" r="0.85" fill="#858585" fill-opacity="0.5"/>
<circle cx="159.09" cy="309.31" r="0.85" fill="#858585" fill-opacity="0.5"/>
<circle cx="156.77" cy="308.36" r="0.85" fill="#858585" fill-opacity="0.5"/>
<circle cx="156.98" cy="308.93" r="0.85" fill="#858585" fill-opacity="0.5"/>
<circle cx="156.12" cy="306.21" r="0.85" fill="#858585" fill-opacity="0.5"/>
<circle cx="156.37" cy="308.11" r="0.85" fill="#858585" fill-opacity="0.5"/>
<circle cx="163.61" cy="312.61" r="0.85" fill="#858585" fill-opacity="0.5"/>
<circle cx="163.86" cy="331.77" r="0.85" fill="#858585" fill-opacity="0.5"/>
<circle cx="163.05" cy="308.77" r="0.85" fill="#858585" fill-opacity="0.5"/>
<circle cx="163.79" cy="312.40" r="0.85" fill="#858585" fill-opacity="0.5"/>
<circle cx="164.83" cy="310.42" r="0.85" fill="#858585" fill-opacity="0.5"/>
<circle cx="162.26" cy="305.87" r="0.85" fill="#858585" fill-opacity="0.5"/>
<circle cx="162.69" cy="308.75" r="0.85" fill="#858585" fill-opacity="0.5"/>
<circle cx="163.19" cy="309.36" r="0.85" fill="#858585" fill-opacity="0.5"/>
<circle cx="162.69" cy="309.98" r="0.85" fill="#858585" fill-opacity="0.5"/>
<circle cx="163.95" cy="307.85" r="0.85" fill="#858585" fill-opacity="0.5"/>
<circle cx="163.14" cy="313.08" r="0.85" fill="#858585" fill-opacity="0.5"/>
<circle cx="162.82" cy="311.85" r="0.85" fill="#858585" fill-opacity="0.5"/>
<circle cx="161.83" cy="309.90" r="0.85" fill="#858585" fill-opacity="0.5"/>
<circle cx="162.58" cy="331.71" r="0.85" fill="#858585" fill-opacity="0.5"/>
<circle cx="162.90" cy="309.21" r="0.85" fill="#858585" fill-opacity="0.5"/>
<circle cx="162.41" cy="314.04" r="0.85" fill="#858585" fill-opacity="0.5"/>
<circle cx="161.60" cy="301.07" r="0.85" fill="#858585" fill-opacity="0.5"/>
<circle cx="160.94" cy="308.30" r="0.85" fill="#858585" fill-opacity="0.5"/>
<circle cx="161.89" cy="311.57" r="0.85" fill="#858585" fill-opacity="0.5"/>
<circle cx="162.65" cy="306.67" r="0.85" fill="#858585" fill-opacity="0.5"/>
<circle cx="162.99" cy="313.24" r="0.85" fill="#858585" fill-opacity="0.5"/>
<circle cx="161.66" cy="306.09" r="0.85" fill="#858585" fill-opacity="0.5"/>
<circle cx="163.04" cy="310.48" r="0.85" fill="#858585" fill-opacity="0.5"/>
<circle cx="162.86" cy="324.21" r="0.85" fill="#858585" fill-opacity="0.5"/>
<circle cx="163.32" cy="311.67" r="0.85" fill="#858585" fill-opacity="0.5"/>
<circle cx="161.64" cy="310.90" r="0.85" fill="#858585" fill-opacity="0.5"/>
<circle cx="164.35" cy="308.06" r="0.85" fill="#858585" fill-opacity="0.5"/>
<circle cx="163.33" cy="306.46" r="0.85" fill="#858585" fill-opacity="0.5"/>
<circle cx="163.09" cy="312.81" r="0.85" fill="#858585" fill-opacity="0.5"/>
<circle cx="163.37" cy="314.86" r="0.85" fill="#858585" fill-opacity="0.5"/>
<circle cx="165.45" cy="312.60" r="0.85" fill="#858585" fill-opacity="0.5"/>
<circle cx="161.88" cy="308.08" r="0.85" fill="#858585" fill-opacity="0.5"/>
<circle cx="162.59" cy="314.05" r="0.85" fill="#858585" fill-opacity="0.5"/>
<circle cx="164.04" cy="308.17" r="0.85" fill="#858585" fill-opacity="0.5"/>
<circle cx="162.79" cy="314.08" r="0.85" fill="#858585" fill-opacity="0.5"/>
<circle cx="162.61" cy="306.83" r="0.85" fill="#858585" fill-opacity="0.5"/>
<circle cx="163.59" cy="306.23" r="0.85" fill="#858585" fill-opacity="0.5"/>
<circle cx="164.28" cy="309.32" r="0.85" fill="#858585" fill-opacity="0.5"/>
<circle cx="166.05" cy="307.20" r="0.85" fill="#858585" fill-opacity="0.5"/>
<circle cx="163.89" cy="304.08" r="0.85" fill="#858585" fill-opacity="0.5"/>
<circle cx="163.64" cy="305.49" r="0.85" fill="#858585" fill-opacity="0.5"/>
<circle cx="162.09" cy="309.84" r="0.85" fill="#858585" fill-opacity="0.5"/>
<circle cx="162.38" cy="306.70" r="0.85" fill="#858585" fill-opacity="0.5"/>
<circle cx="163.95" cy="310.32" r="0.85" fill="#858585" fill-opacity="0.5"/>
<circle cx="165.43" cy="309.04" r="0.85" fill="#858585" fill-opacity="0.5"/>
<circle cx="163.45" cy="308.61" r="0.85" fill="#858585" fill-opacity="0.5"/>
<circle cx="165.68" cy="328.88" r="0.85" fill="#858585" fill-opacity="0.5"/>
<circle cx="162.72" cy="310.03" r="0.85" fill="#858585" fill-opacity="0.5"/>
<circle cx="160.85" cy="312.20" r="0.85" fill="#858585" fill-opacity="0.5"/>
<circle cx="163.67" cy="309.51" r="0.85" fill="#858585" fill-opacity="0.5"/>
<circle cx="165.04" cy="310.01" r="0.85" fill="#858585" fill-opacity="0.5"/>
<circle cx="163.99" cy="306.54" r="0.85" fill="#858585" fill-opacity="0.5"/>
<circle cx="163.29" cy="310.89" r="0.85" fill="#858585" fill-opacity="0.5"/>
<circle cx="163.43" cy="324.37" r="0.85" fill="#858585" fill-opacity="0.5"/>
<circle cx="163.93" cy="310.07" r="0.85" fill="#858585" fill-opacity="0.5"/>
<circle cx="163.37" cy="317.18" r="0.85" fill="#858585" fill-opacity="0.5"/>
<circle cx="162.61" cy="305.89" r="0.85" fill="#858585" fill-opacity="0.5"/>
<circle cx="163.14" cy="311.99" r="0.85" fill="#858585" fill-opacity="0.5"/>
<circle cx="163.24" cy="307.17" r="0.85" fill="#858585" fill-opacity="0.5"/>
<circle cx="162.49" cy="312.66" r="0.85" fill="#858585" fill-opacity="0.5"/>
<circle cx="161.52" cy="307.25" r="0.85" fill="#858585" fill-opacity="0.5"/>
<circle cx="163.77" cy="305.57" r="0.85" fill="#858585" fill-opacity="0.5"/>
<circle cx="164.82" cy="308.84" r="0.85" fill="#858585" fill-opacity="0.5"/>
<circle cx="165.18" cy="313.09" r="0.85" fill="#858585" fill-opacity="0.5"/>
<circle cx="163.22" cy="306.94" r="0.85" fill="#858585" fill-opacity="0.5"/>
<circle cx="164.66" cy="314.13" r="0.85" fill="#858585" fill-opacity="0.5"/>
<circle cx="164.53" cy="312.23" r="0.85" fill="#858585" fill-opacity="0.5"/>
<circle cx="162.05" cy="310.33" r="0.85" fill="#858585" fill-opacity="0.5"/>
<circle cx="165.39" cy="330.27" r="0.85" fill="#858585" fill-opacity="0.5"/>
<circle cx="161.84" cy="313.54" r="0.85" fill="#858585" fill-opacity="0.5"/>
<circle cx="168.92" cy="325.28" r="0.85" fill="#858585" fill-opacity="0.5"/>
<circle cx="170.36" cy="321.52" r="0.85" fill="#858585" fill-opacity="0.5"/>
<circle cx="170.36" cy="321.43" r="0.85" fill="#858585" fill-opacity="0.5"/>
<circle cx="170.01" cy="324.19" r="0.85" fill="#858585" fill-opacity="0.5"/>
<circle cx="170.94" cy="325.41" r="0.85" fill="#858585" fill-opacity="0.5"/>
<circle cx="168.98" cy="326.35" r="0.85" fill="#858585" fill-opacity="0.5"/>
<circle cx="168.58" cy="321.91" r="0.85" fill="#858585" fill-opacity="0.5"/>
<circle cx="171.51" cy="331.63" r="0.85" fill="#858585" fill-opacity="0.5"/>
<circle cx="169.00" cy="321.34" r="0.85" fill="#858585" fill-opacity="0.5"/>
<circle cx="170.22" cy="323.17" r="0.85" fill="#858585" fill-opacity="0.5"/>
<circle cx="170.79" cy="330.37" r="0.85" fill="#858585" fill-opacity="0.5"/>
<circle cx="170.03" cy="339.87" r="0.85" fill="#858585" fill-opacity="0.5"/>
<circle cx="170.23" cy="324.48" r="0.85" fill="#858585" fill-opacity="0.5"/>
<circle cx="172.50" cy="321.60" r="0.85" fill="#858585" fill-opacity="0.5"/>
<circle cx="168.33" cy="319.29" r="0.85" fill="#858585" fill-opacity="0.5"/>
<circle cx="170.85" cy="318.20" r="0.85" fill="#858585" fill-opacity="0.5"/>
<circle cx="171.85" cy="321.22" r="0.85" fill="#858585" fill-opacity="0.5"/>
<circle cx="171.01" cy="325.69" r="0.85" fill="#858585" fill-opacity="0.5"/>
<circle cx="171.84" cy="320.36" r="0.85" fill="#858585" fill-opacity="0.5"/>
<circle cx="171.20" cy="325.87" r="0.85" fill="#858585" fill-opacity="0.5"/>
<circle cx="172.59" cy="319.40" r="0.85" fill="#858585" fill-opacity="0.5"/>
<circle cx="167.75" cy="322.12" r="0.85" fill="#858585" fill-opacity="0.5"/>
<circle cx="171.04" cy="322.62" r="0.85" fill="#858585" fill-opacity="0.5"/>
<circle cx="169.49" cy="327.69" r="0.85" fill="#858585" fill-opacity="0.5"/>
<circle cx="170.47" cy="321.51" r="0.85" fill="#858585" fill-opacity="0.5"/>
<circle cx="170.91" cy="314.71" r="0.85" fill="#858585" fill-opacity="0.5"/>
<circle cx="171.03" cy="315.75" r="0.85" fill="#858585" fill-opacity="0.5"/>
<circle cx="169.80" cy="321.86" r="0.85" fill="#858585" fill-opacity="0.5"/>
<circle cx="171.34" cy="321.23" r="0.85" fill="#858585" fill-opacity="0.5"/>
<circle cx="171.62" cy="316.50" r="0.85" fill="#858585" fill-opacity="0.5"/>
<circle cx="168.95" cy="322.78" r="0.85" fill="#858585" fill-opacity="0.5"/>
<circle cx="170.57" cy="323.65" r="0.85" fill="#858585" fill-opacity="0.5"/>
<circle cx="169.89" cy="322.03" r="0.85" fill="#858585" fill-opacity="0.5"/>
<circle cx="171.30" cy="323.73" r="0.85" fill="#858585" fill-opacity="0.5"/>
<circle cx="169.69" cy="330.09" r="0.85" fill="#858585" fill-opacity="0.5"/>
<circle cx="170.45" cy="317.66" r="0.85" fill="#858585" fill-opacity="0.5"/>
<circle cx="170.73" cy="320.56" r="0.85" fill="#858585" fill-opacity="0.5"/>
<circle cx="171.78" cy="326.25" r="0.85" fill="#858585" fill-opacity="0.5"/>
<circle cx="170.28" cy="316.03" r="0.85" fill="#858585" fill-opacity="0.5"/>
<circle cx="171.16" cy="319.80" r="0.85" fill="#858585" fill-opacity="0.5"/>
<circle cx="170.81" cy="322.27" r="0.85" fill="#858585" fill-opacity="0.5"/>
<circle cx="169.59" cy="320.73" r="0.85" fill="#858585" fill-opacity="0.5"/>
<circle cx="172.18" cy="322.35" r="0.85" fill="#858585" fill-opacity="0.5"/>
<circle cx="171.80" cy="321.82" r="0.85" fill="#858585" fill-opacity="0.5"/>
<circle cx="171.82" cy="324.25" r="0.85" fill="#858585" fill-opacity="0.5"/>
<circle cx="170.09" cy="318.70" r="0.85" fill="#858585" fill-opacity="0.5"/>
<circle cx="170.28" cy="323.69" r="0.85" fill="#858585" fill-opacity="0.5"/>
<circle cx="169.93" cy="320.50" r="0.85" fill="#858585" fill-opacity="0.5"/>
<circle cx="170.49" cy="319.79" r="0.85" fill="#858585" fill-opacity="0.5"/>
<circle cx="170.69" cy="333.23" r="0.85" fill="#858585" fill-opacity="0.5"/>
<circle cx="170.08" cy="317.79" r="0.85" fill="#858585" fill-opacity="0.5"/>
<circle cx="172.46" cy="323.01" r="0.85" fill="#858585" fill-opacity="0.5"/>
<circle cx="170.58" cy="333.53" r="0.85" fill="#858585" fill-opacity="0.5"/>
<circle cx="169.85" cy="322.24" r="0.85" fill="#858585" fill-opacity="0.5"/>
<circle cx="172.18" cy="335.03" r="0.85" fill="#858585" fill-opacity="0.5"/>
<circle cx="170.27" cy="323.15" r="0.85" fill="#858585" fill-opacity="0.5"/>
<circle cx="171.27" cy="321.65" r="0.85" fill="#858585" fill-opacity="0.5"/>
<circle cx="170.63" cy="326.23" r="0.85" fill="#858585" fill-opacity="0.5"/>
<circle cx="168.95" cy="318.46" r="0.85" fill="#858585" fill-opacity="0.5"/>
<circle cx="171.40" cy="322.71" r="0.85" fill="#858585" fill-opacity="0.5"/>
<circle cx="169.36" cy="317.45" r="0.85" fill="#858585" fill-opacity="0.5"/>
<circle cx="169.65" cy="324.84" r="0.85" fill="#858585" fill-opacity="0.5"/>
<circle cx="170.38" cy="324.27" r="0.85" fill="#858585" fill-opacity="0.5"/>
<circle cx="171.85" cy="321.72" r="0.85" fill="#858585" fill-opacity="0.5"/>
<circle cx="172.02" cy="318.89" r="0.85" fill="#858585" fill-opacity="0.5"/>
<circle cx="170.80" cy="322.39" r="0.85" fill="#858585" fill-opacity="0.5"/>
<circle cx="168.03" cy="322.50" r="0.85" fill="#858585" fill-opacity="0.5"/>
<circle cx="168.34" cy="319.37" r="0.85" fill="#858585" fill-opacity="0.5"/>
<circle cx="169.51" cy="320.10" r="0.85" fill="#858585" fill-opacity="0.5"/>
<circle cx="169.46" cy="321.50" r="0.85" fill="#858585" fill-opacity="0.5"/>
<circle cx="175.95" cy="320.75" r="0.85" fill="#858585" fill-opacity="0.5"/>
<circle cx="178.65" cy="322.48" r="0.85" fill="#858585" fill-opacity="0.5"/>
<circle cx="176.79" cy="326.19" r="0.85" fill="#858585" fill-opacity="0.5"/>
<circle cx="178.24" cy="322.07" r="0.85" fill="#858585" fill-opacity="0.5"/>
<circle cx="175.02" cy="328.51" r="0.85" fill="#858585" fill-opacity="0.5"/>
<circle cx="178.40" cy="322.23" r="0.85" fill="#858585" fill-opacity="0.5"/>
<circle cx="179.55" cy="325.11" r="0.85" fill="#858585" fill-opacity="0.5"/>
<circle cx="177.07" cy="325.99" r="0.85" fill="#858585" fill-opacity="0.5"/>
<circle cx="177.01" cy="325.88" r="0.85" fill="#858585" fill-opacity="0.5"/>
<circle cx="175.97" cy="345.36" r="0.85" fill="#858585" fill-opacity="0.5"/>
<circle cx="178.80" cy="322.07" r="0.85" fill="#858585" fill-opacity="0.5"/>
<circle cx="175.47" cy="320.63" r="0.85" fill="#858585" fill-opacity="0.5"/>
<circle cx="177.71" cy="320.67" r="0.85" fill="#858585" fill-opacity="0.5"/>
<circle cx="176.32" cy="327.95" r="0.85" fill="#858585" fill-opacity="0.5"/>
<circle cx="178.11" cy="325.18" r="0.85" fill="#858585" fill-opacity="0.5"/>
<circle cx="177.14" cy="324.08" r="0.85" fill="#858585" fill-opacity="0.5"/>
<circle cx="176.60" cy="324.48" r="0.85" fill="#858585" fill-opacity="0.5"/>
<circle cx="178.03" cy="322.82" r="0.85" fill="#858585" fill-opacity="0.5"/>
<circle cx="179.54" cy="325.81" r="0.85" fill="#858585" fill-opacity="0.5"/>
<circle cx="174.65" cy="326.97" r="0.85" fill="#858585" fill-opacity="0.5"/>
<circle cx="175.16" cy="322.99" r="0.85" fill="#858585" fill-opacity="0.5"/>
<circle cx="177.89" cy="322.39" r="0.85" fill="#858585" fill-opacity="0.5"/>
<circle cx="177.92" cy="322.47" r="0.85" fill="#858585" fill-opacity="0.5"/>
<circle cx="176.55" cy="319.70" r="0.85" fill="#858585" fill-opacity="0.5"/>
<circle cx="177.26" cy="320.29" r="0.85" fill="#858585" fill-opacity="0.5"/>
<circle cx="175.27" cy="316.04" r="0.85" fill="#858585" fill-opacity="0.5"/>
<circle cx="177.96" cy="322.95" r="0.85" fill="#858585" fill-opacity="0.5"/>
<circle cx="177.86" cy="322.94" r="0.85" fill="#858585" fill-opacity="0.5"/>
<circle cx="175.29" cy="322.81" r="0.85" fill="#858585" fill-opacity="0.5"/>
<circle cx="177.13" cy="319.58" r="0.85" fill="#858585" fill-opacity="0.5"/>
<circle cx="177.90" cy="334.03" r="0.85" fill="#858585" fill-opacity="0.5"/>
<circle cx="178.26" cy="331.16" r="0.85" fill="#858585" fill-opacity="0.5"/>
<circle cx="176.47" cy="323.42" r="0.85" fill="#858585" fill-opacity="0.5"/>
<circle cx="177.90" cy="341.16" r="0.85" fill="#858585" fill-opacity="0.5"/>
<circle cx="179.38" cy="322.81" r="0.85" fill="#858585" fill-opacity="0.5"/>
<circle cx="177.42" cy="321.39" r="0.85" fill="#858585" fill-opacity="0.5"/>
<circle cx="175.59" cy="325.61" r="0.85" fill="#858585" fill-opacity="0.5"/>
<circle cx="175.81" cy="320.85" r="0.85" fill="#858585" fill-opacity="0.5"/>
<circle cx="176.02" cy="324.31" r="0.85" fill="#858585" fill-opacity="0.5"/>
<circle cx="175.36" cy="324.83" r="0.85" fill="#858585" fill-opacity="0.5"/>
<circle cx="177.40" cy="324.45" r="0.85" fill="#858585" fill-opacity="0.5"/>
<circle cx="178.19" cy="320.94" r="0.85" fill="#858585" fill-opacity="0.5"/>
<circle cx="179.30" cy="321.90" r="0.85" fill="#858585" fill-opacity="0.5"/>
<circle cx="177.51" cy="326.98" r="0.85" fill="#858585" fill-opacity="0.5"/>
<circle cx="176.85" cy="323.20" r="0.85" fill="#858585" fill-opacity="0.5"/>
<circle cx="177.09" cy="321.84" r="0.85" fill="#858585" fill-opacity="0.5"/>
<circle cx="177.24" cy="337.71" r="0.85" fill="#858585" fill-opacity="0.5"/>
<circle cx="176.46" cy="317.89" r="0.85" fill="#858585" fill-opacity="0.5"/>
<circle cx="176.97" cy="329.81" r="0.85" fill="#858585" fill-opacity="0.5"/>
<circle cx="178.31" cy="329.07" r="0.85" fill="#858585" fill-opacity="0.5"/>
<circle cx="178.61" cy="318.71" r="0.85" fill="#858585" fill-opacity="0.5"/>
<circle cx="175.94" cy="322.79" r="0.85" fill="#858585" fill-opacity="0.5"/>
<circle cx="178.23" cy="323.01" r="0.85" fill="#858585" fill-opacity="0.5"/>
<circle cx="176.47" cy="322.89" r="0.85" fill="#858585" fill-opacity="0.5"/>
<circle cx="177.23" cy="321.59" r="0.85" fill="#858585" fill-opacity="0.5"/>
<circle cx="176.68" cy="322.86" r="0.85" fill="#858585" fill-opacity="0.5"/>
<circle cx="176.97" cy="324.55" r="0.85" fill="#858585" fill-opacity="0.5"/>
<circle cx="175.97" cy="324.66" r="0.85" fill="#858585" fill-opacity="0.5"/>
<circle cx="179.85" cy="323.44" r="0.85" fill="#858585" fill-opacity="0.5"/>
<circle cx="177.19" cy="326.60" r="0.85" fill="#858585" fill-opacity="0.5"/>
<circle cx="177.27" cy="323.88" r="0.85" fill="#858585" fill-opacity="0.5"/>
<circle cx="178.27" cy="323.16" r="0.85" fill="#858585" fill-opacity="0.5"/>
<circle cx="178.64" cy="317.91" r="0.85" fill="#858585" fill-opacity="0.5"/>
<circle cx="176.16" cy="325.07" r="0.85" fill="#858585" fill-opacity="0.5"/>
<circle cx="177.09" cy="324.15" r="0.85" fill="#858585" fill-opacity="0.5"/>
<circle cx="179.85" cy="323.02" r="0.85" fill="#858585" fill-opacity="0.5"/>
<circle cx="175.21" cy="327.63" r="0.85" fill="#858585" fill-opacity="0.5"/>
<circle cx="178.54" cy="322.08" r="0.85" fill="#858585" fill-opacity="0.5"/>
<circle cx="177.36" cy="325.06" r="0.85" fill="#858585" fill-opacity="0.5"/>
<circle cx="175.49" cy="321.73" r="0.85" fill="#858585" fill-opacity="0.5"/>
<circle cx="191.25" cy="291.20" r="0.85" fill="#858585" fill-opacity="0.5"/>
<circle cx="190.61" cy="294.22" r="0.85" fill="#858585" fill-opacity="0.5"/>
<circle cx="192.35" cy="294.88" r="0.85" fill="#858585" fill-opacity="0.5"/>
<circle cx="194.61" cy="290.71" r="0.85" fill="#858585" fill-opacity="0.5"/>
<circle cx="193.42" cy="286.63" r="0.85" fill="#858585" fill-opacity="0.5"/>
<circle cx="194.77" cy="292.51" r="0.85" fill="#858585" fill-opacity="0.5"/>
<circle cx="192.63" cy="291.58" r="0.85" fill="#858585" fill-opacity="0.5"/>
<circle cx="194.19" cy="287.92" r="0.85" fill="#858585" fill-opacity="0.5"/>
<circle cx="193.98" cy="286.36" r="0.85" fill="#858585" fill-opacity="0.5"/>
<circle cx="194.02" cy="292.76" r="0.85" fill="#858585" fill-opacity="0.5"/>
<circle cx="192.11" cy="284.04" r="0.85" fill="#858585" fill-opacity="0.5"/>
<circle cx="194.26" cy="304.21" r="0.85" fill="#858585" fill-opacity="0.5"/>
<circle cx="192.75" cy="290.67" r="0.85" fill="#858585" fill-opacity="0.5"/>
<circle cx="192.26" cy="289.69" r="0.85" fill="#858585" fill-opacity="0.5"/>
<circle cx="191.36" cy="292.15" r="0.85" fill="#858585" fill-opacity="0.5"/>
<circle cx="193.07" cy="294.50" r="0.85" fill="#858585" fill-opacity="0.5"/>
<circle cx="193.64" cy="291.44" r="0.85" fill="#858585" fill-opacity="0.5"/>
<circle cx="192.91" cy="288.93" r="0.85" fill="#858585" fill-opacity="0.5"/>
<circle cx="193.24" cy="293.56" r="0.85" fill="#858585" fill-opacity="0.5"/>
<circle cx="193.68" cy="298.65" r="0.85" fill="#858585" fill-opacity="0.5"/>
<circle cx="193.31" cy="291.86" r="0.85" fill="#858585" fill-opacity="0.5"/>
<circle cx="191.13" cy="290.95" r="0.85" fill="#858585" fill-opacity="0.5"/>
<circle cx="192.83" cy="296.55" r="0.85" fill="#858585" fill-opacity="0.5"/>
<circle cx="193.10" cy="293.00" r="0.85" fill="#858585" fill-opacity="0.5"/>
<circle cx="194.63" cy="290.59" r="0.85" fill="#858585" fill-opacity="0.5"/>
<circle cx="194.06" cy="287.99" r="0.85" fill="#858585" fill-opacity="0.5"/>
<circle cx="192.16" cy="291.65" r="0.85" fill="#858585" fill-opacity="0.5"/>
<circle cx="195.21" cy="299.34" r="0.85" fill="#858585" fill-opacity="0.5"/>
<circle cx="195.81" cy="289.75" r="0.85" fill="#858585" fill-opacity="0.5"/>
<circle cx="192.18" cy="301.20" r="0.85" fill="#858585" fill-opacity="0.5"/>
<circle cx="190.98" cy="280.89" r="0.85" fill="#858585" fill-opacity="0.5"/>
<circle cx="193.49" cy="292.63" r="0.85" fill="#858585" fill-opacity="0.5"/>
<circle cx="195.04" cy="295.09" r="0.85" fill="#858585" fill-opacity="0.5"/>
<circle cx="192.07" cy="291.77" r="0.85" fill="#858585" fill-opacity="0.5"/>
<circle cx="191.43" cy="293.01" r="0.85" fill="#858585" fill-opacity="0.5"/>
<circle cx="194.77" cy="284.14" r="0.85" fill="#858585" fill-opacity="0.5"/>
<circle cx="193.21" cy="289.80" r="0.85" fill="#858585" fill-opacity="0.5"/>
<circle cx="193.82" cy="289.34" r="0.85" fill="#858585" fill-opacity="0.5"/>
<circle cx="193.75" cy="296.11" r="0.85" fill="#858585" fill-opacity="0.5"/>
<circle cx="191.78" cy="295.06" r="0.85" fill="#858585" fill-opacity="0.5"/>
<circle cx="194.47" cy="291.52" r="0.85" fill="#858585" fill-opacity="0.5"/>
<circle cx="194.12" cy="293.52" r="0.85" fill="#858585" fill-opacity="0.5"/>
<circle cx="195.23" cy="283.80" r="0.85" fill="#858585" fill-opacity="0.5"/>
<circle cx="194.23" cy="292.51" r="0.85" fill="#858585" fill-opacity="0.5"/>
<circle cx="195.27" cy="292.20" r="0.85" fill="#858585" fill-opacity="0.5"/>
<circle cx="193.55" cy="287.57" r="0.85" fill="#858585" fill-opacity="0.5"/>
<circle cx="192.49" cy="293.78" r="0.85" fill="#858585" fill-opacity="0.5"/>
<circle cx="194.46" cy="291.60" r="0.85" fill="#858585" fill-opacity="0.5"/>
<circle cx="193.15" cy="298.51" r="0.85" fill="#858585" fill-opacity="0.5"/>
<circle cx="192.98" cy="291.14" r="0.85" fill="#858585" fill-opacity="0.5"/>
<circle cx="193.16" cy="292.66" r="0.85" fill="#858585" fill-opacity="0.5"/>
<circle cx="193.97" cy="290.28" r="0.85" fill="#858585" fill-opacity="0.5"/>
<circle cx="194.32" cy="289.36" r="0.85" fill="#858585" fill-opacity="0.5"/>
<circle cx="193.37" cy="291.49" r="0.85" fill="#858585" fill-opacity="0.5"/>
<circle cx="193.50" cy="289.88" r="0.85" fill="#858585" fill-opacity="0.5"/>
<circle cx="193.92" cy="295.43" r="0.85" fill="#858585" fill-opacity="0.5"/>
<circle cx="192.72" cy="288.37" r="0.85" fill="#858585" fill-opacity="0.5"/>
<circle cx="191.62" cy="289.80" r="0.85" fill="#858585" fill-opacity="0.5"/>
<circle cx="194.14" cy="291.42" r="0.85" fill="#858585" fill-opacity="0.5"/>
<circle cx="194.50" cy="289.90" r="0.85" fill="#858585" fill-opacity="0.5"/>
<circle cx="192.97" cy="289.39" r="0.85" fill="#858585" fill-opacity="0.5"/>
<circle cx="193.99" cy="288.93" r="0.85" fill="#858585" fill-opacity="0.5"/>
<circle cx="193.09" cy="289.95" r="0.85" fill="#858585" fill-opacity="0.5"/>
<circle cx="191.67" cy="290.98" r="0.85" fill="#858585" fill-opacity="0.5"/>
<circle cx="193.03" cy="294.32" r="0.85" fill="#858585" fill-opacity="0.5"/>
<circle cx="194.89" cy="304.03" r="0.85" fill="#858585" fill-opacity="0.5"/>
<circle cx="194.49" cy="289.45" r="0.85" fill="#858585" fill-opacity="0.5"/>
<circle cx="194.17" cy="290.54" r="0.85" fill="#858585" fill-opacity="0.5"/>
<circle cx="195.81" cy="292.28" r="0.85" fill="#858585" fill-opacity="0.5"/>
<circle cx="194.92" cy="289.38" r="0.85" fill="#858585" fill-opacity="0.5"/>
<circle cx="201.34" cy="294.52" r="0.85" fill="#858585" fill-opacity="0.5"/>
<circle cx="200.48" cy="295.28" r="0.85" fill="#858585" fill-opacity="0.5"/>
<circle cx="198.86" cy="303.55" r="0.85" fill="#858585" fill-opacity="0.5"/>
<circle cx="200.81" cy="295.25" r="0.85" fill="#858585" fill-opacity="0.5"/>
<circle cx="201.25" cy="298.32" r="0.85" fill="#858585" fill-opacity="0.5"/>
<circle cx="199.26" cy="293.89" r="0.85" fill="#858585" fill-opacity="0.5"/>
<circle cx="201.86" cy="300.53" r="0.85" fill="#858585" fill-opacity="0.5"/>
<circle cx="201.06" cy="293.99" r="0.85" fill="#858585" fill-opacity="0.5"/>
<circle cx="201.36" cy="304.49" r="0.85" fill="#858585" fill-opacity="0.5"/>
<circle cx="199.63" cy="298.94" r="0.85" fill="#858585" fill-opacity="0.5"/>
<circle cx="199.37" cy="297.69" r="0.85" fill="#858585" fill-opacity="0.5"/>
<circle cx="201.31" cy="300.26" r="0.85" fill="#858585" fill-opacity="0.5"/>
<circle cx="200.89" cy="297.84" r="0.85" fill="#858585" fill-opacity="0.5"/>
<circle cx="199.46" cy="291.49" r="0.85" fill="#858585" fill-opacity="0.5"/>
<circle cx="201.15" cy="308.50" r="0.85" fill="#858585" fill-opacity="0.5"/>
<circle cx="200.09" cy="298.98" r="0.85" fill="#858585" fill-opacity="0.5"/>
<circle cx="200.02" cy="296.04" r="0.85" fill="#858585" fill-opacity="0.5"/>
<circle cx="201.98" cy="293.97" r="0.85" fill="#858585" fill-opacity="0.5"/>
<circle cx="199.85" cy="294.14" r="0.85" fill="#858585" fill-opacity="0.5"/>
<circle cx="198.66" cy="293.10" r="0.85" fill="#858585" fill-opacity="0.5"/>
<circle cx="198.09" cy="297.71" r="0.85" fill="#858585" fill-opacity="0.5"/>
<circle cx="200.63" cy="301.67" r="0.85" fill="#858585" fill-opacity="0.5"/>
<circle cx="200.39" cy="294.54" r="0.85" fill="#858585" fill-opacity="0.5"/>
<circle cx="199.86" cy="296.08" r="0.85" fill="#858585" fill-opacity="0.5"/>
<circle cx="199.24" cy="300.57" r="0.85" fill="#858585" fill-opacity="0.5"/>
<circle cx="199.11" cy="306.76" r="0.85" fill="#858585" fill-opacity="0.5"/>
<circle cx="200.85" cy="300.26" r="0.85" fill="#858585" fill-opacity="0.5"/>
<circle cx="202.71" cy="296.45" r="0.85" fill="#858585" fill-opacity="0.5"/>
<circle cx="200.08" cy="292.29" r="0.85" fill="#858585" fill-opacity="0.5"/>
<circle cx="200.39" cy="296.31" r="0.85" fill="#858585" fill-opacity="0.5"/>
<circle cx="199.59" cy="290.18" r="0.85" fill="#858585" fill-opacity="0.5"/>
<circle cx="202.71" cy="295.29" r="0.85" fill="#858585" fill-opacity="0.5"/>
<circle cx="199.52" cy="301.95" r="0.85" fill="#858585" fill-opacity="0.5"/>
<circle cx="200.43" cy="299.54" r="0.85" fill="#858585" fill-opacity="0.5"/>
<circle cx="199.51" cy="298.43" r="0.85" fill="#858585" fill-opacity="0.5"/>
<circle cx="200.12" cy="297.11" r="0.85" fill="#858585" fill-opacity="0.5"/>
<circle cx="199.69" cy="291.99" r="0.85" fill="#858585" fill-opacity="0.5"/>
<circle cx="198.86" cy="287.84" r="0.85" fill="#858585" fill-opacity="0.5"/>
<circle cx="200.25" cy="312.03" r="0.85" fill="#858585" fill-opacity="0.5"/>
<circle cx="200.43" cy="295.62" r="0.85" fill="#858585" fill-opacity="0.5"/>
<circle cx="198.53" cy="293.36" r="0.85" fill="#858585" fill-opacity="0.5"/>
<circle cx="201.49" cy="294.08" r="0.85" fill="#858585" fill-opacity="0.5"/>
<circle cx="200.82" cy="297.39" r="0.85" fill="#858585" fill-opacity="0.5"/>
<circle cx="199.34" cy="295.74" r="0.85" fill="#858585" fill-opacity="0.5"/>
<circle cx="202.13" cy="300.80" r="0.85" fill="#858585" fill-opacity="0.5"/>
<circle cx="200.26" cy="299.73" r="0.85" fill="#858585" fill-opacity="0.5"/>
<circle cx="200.93" cy="298.64" r="0.85" fill="#858585" fill-opacity="0.5"/>
<circle cx="198.25" cy="298.27" r="0.85" fill="#858585" fill-opacity="0.5"/>
<circle cx="199.31" cy="288.47" r="0.85" fill="#858585" fill-opacity="0.5"/>
<circle cx="200.16" cy="295.08" r="0.85" fill="#858585" fill-opacity="0.5"/>
<circle cx="199.78" cy="297.54" r="0.85" fill="#858585" fill-opacity="0.5"/>
<circle cx="201.51" cy="299.13" r="0.85" fill="#858585" fill-opacity="0.5"/>
<circle cx="198.02" cy="302.63" r="0.85" fill="#858585" fill-opacity="0.5"/>
<circle cx="201.60" cy="297.56" r="0.85" fill="#858585" fill-opacity="0.5"/>
<circle cx="199.18" cy="292.65" r="0.85" fill="#858585" fill-opacity="0.5"/>
<circle cx="199.72" cy="292.68" r="0.85" fill="#858585" fill-opacity="0.5"/>
<circle cx="199.73" cy="300.03" r="0.85" fill="#858585" fill-opacity="0.5"/>
<circle cx="201.42" cy="293.51" r="0.85" fill="#858585" fill-opacity="0.5"/>
<circle cx="201.32" cy="299.44" r="0.85" fill="#858585" fill-opacity="0.5"/>
<circle cx="198.80" cy="291.96" r="0.85" fill="#858585" fill-opacity="0.5"/>
<circle cx="200.96" cy="294.26" r="0.85" fill="#858585" fill-opacity="0.5"/>
<circle cx="199.29" cy="291.13" r="0.85" fill="#858585" fill-opacity="0.5"/>
<circle cx="198.70" cy="296.36" r="0.85" fill="#858585" fill-opacity="0.5"/>
<circle cx="199.32" cy="296.47" r="0.85" fill="#858585" fill-opacity="0.5"/>
<circle cx="202.71" cy="295.12" r="0.85" fill="#858585" fill-opacity="0.5"/>
<circle cx="201.42" cy="293.79" r="0.85" fill="#858585" fill-opacity="0.5"/>
<circle cx="199.59" cy="295.53" r="0.85" fill="#858585" fill-opacity="0.5"/>
<circle cx="199.45" cy="295.83" r="0.85" fill="#858585" fill-opacity="0.5"/>
<circle cx="200.08" cy="297.68" r="0.85" fill="#858585" fill-opacity="0.5"/>
<circle cx="202.22" cy="292.87" r="0.85" fill="#858585" fill-opacity="0.5"/>
<circle cx="207.65" cy="299.26" r="0.85" fill="#858585" fill-opacity="0.5"/>
<circle cx="207.21" cy="296.33" r="0.85" fill="#858585" fill-opacity="0.5"/>
<circle cx="206.51" cy="296.33" r="0.85" fill="#858585" fill-opacity="0.5"/>
<circle cx="206.83" cy="302.50" r="0.85" fill="#858585" fill-opacity="0.5"/>
<circle cx="207.99" cy="299.13" r="0.85" fill="#858585" fill-opacity="0.5"/>
<circle cx="208.40" cy="295.08" r="0.85" fill="#858585" fill-opacity="0.5"/>
<circle cx="206.51" cy="310.04" r="0.85" fill="#858585" fill-opacity="0.5"/>
<circle cx="206.55" cy="298.51" r="0.85" fill="#858585" fill-opacity="0.5"/>
<circle cx="207.29" cy="289.34" r="0.85" fill="#858585" fill-opacity="0.5"/>
<circle cx="204.41" cy="296.58" r="0.85" fill="#858585" fill-opacity="0.5"/>
<circle cx="204.41" cy="293.14" r="0.85" fill="#858585" fill-opacity="0.5"/>
<circle cx="204.90" cy="297.72" r="0.85" fill="#858585" fill-opacity="0.5"/>
<circle cx="206.68" cy="300.78" r="0.85" fill="#858585" fill-opacity="0.5"/>
<circle cx="206.23" cy="298.92" r="0.85" fill="#858585" fill-opacity="0.5"/>
<circle cx="207.84" cy="302.37" r="0.85" fill="#858585" fill-opacity="0.5"/>
<circle cx="207.44" cy="300.25" r="0.85" fill="#858585" fill-opacity="0.5"/>
<circle cx="207.05" cy="294.80" r="0.85" fill="#858585" fill-opacity="0.5"/>
<circle cx="209.61" cy="303.54" r="0.85" fill="#858585" fill-opacity="0.5"/>
<circle cx="208.77" cy="304.09" r="0.85" fill="#858585" fill-opacity="0.5"/>
<circle cx="206.60" cy="297.09" r="0.85" fill="#858585" fill-opacity="0.5"/>
<circle cx="206.32" cy="293.54" r="0.85" fill="#858585" fill-opacity="0.5"/>
<circle cx="206.53" cy="299.01" r="0.85" fill="#858585" fill-opacity="0.5"/>
<circle cx="205.57" cy="298.96" r="0.85" fill="#858585" fill-opacity="0.5"/>
<circle cx="206.56" cy="298.78" r="0.85" fill="#858585" fill-opacity="0.5"/>
<circle cx="207.72" cy="295.29" r="0.85" fill="#858585" fill-opacity="0.5"/>
<circle cx="206.48" cy="295.70" r="0.85" fill="#858585" fill-opacity="0.5"/>
<circle cx="207.36" cy="295.94" r="0.85" fill="#858585" fill-opacity="0.5"/>
<circle cx="208.87" cy="299.77" r="0.85" fill="#858585" fill-opacity="0.5"/>
<circle cx="207.98" cy="297.22" r="0.85" fill="#858585" fill-opacity="0.5"/>
<circle cx="206.34" cy="296.80" r="0.85" fill="#858585" fill-opacity="0.5"/>
<circle cx="206.69" cy="295.24" r="0.85" fill="#858585" fill-opacity="0.5"/>
<circle cx="207.00" cy="297.74" r="0.85" fill="#858585" fill-opacity="0.5"/>
<circle cx="206.74" cy="302.94" r="0.85" fill="#858585" fill-opacity="0.5"/>
<circle cx="206.59" cy="299.13" r="0.85" fill="#858585" fill-opacity="0.5"/>
<circle cx="206.64" cy="297.32" r="0.85" fill="#858585" fill-opacity="0.5"/>
<circle cx="206.79" cy="298.42" r="0.85" fill="#858585" fill-opacity="0.5"/>
<circle cx="206.55" cy="294.36" r="0.85" fill="#858585" fill-opacity="0.5"/>
<circle cx="206.84" cy="292.05" r="0.85" fill="#858585" fill-opacity="0.5"/>
<circle cx="206.47" cy="293.74" r="0.85" fill="#858585" fill-opacity="0.5"/>
<circle cx="206.07" cy="294.11" r="0.85" fill="#858585" fill-opacity="0.5"/>
<circle cx="206.69" cy="298.47" r="0.85" fill="#858585" fill-opacity="0.5"/>
<circle cx="206.28" cy="295.84" r="0.85" fill="#858585" fill-opacity="0.5"/>
<circle cx="208.99" cy="298.52" r="0.85" fill="#858585" fill-opacity="0.5"/>
<circle cx="208.61" cy="289.02" r="0.85" fill="#858585" fill-opacity="0.5"/>
<circle cx="207.47" cy="303.35" r="0.85" fill="#858585" fill-opacity="0.5"/>
<circle cx="208.50" cy="292.53" r="0.85" fill="#858585" fill-opacity="0.5"/>
<circle cx="205.20" cy="301.11" r="0.85" fill="#858585" fill-opacity="0.5"/>
<circle cx="207.28" cy="297.62" r="0.85" fill="#858585" fill-opacity="0.5"/>
<circle cx="205.99" cy="303.09" r="0.85" fill="#858585" fill-opacity="0.5"/>
<circle cx="205.49" cy="299.66" r="0.85" fill="#858585" fill-opacity="0.5"/>
<circle cx="207.88" cy="290.75" r="0.85" fill="#858585" fill-opacity="0.5"/>
<circle cx="209.35" cy="296.16" r="0.85" fill="#858585" fill-opacity="0.5"/>
<circle cx="205.82" cy="299.10" r="0.85" fill="#858585" fill-opacity="0.5"/>
<circle cx="206.97" cy="300.35" r="0.85" fill="#858585" fill-opacity="0.5"/>
<circle cx="206.62" cy="304.37" r="0.85" fill="#858585" fill-opacity="0.5"/>
<circle cx="207.34" cy="295.28" r="0.85" fill="#858585" fill-opacity="0.5"/>
<circle cx="208.25" cy="302.06" r="0.85" fill="#858585" fill-opacity="0.5"/>
<circle cx="206.39" cy="305.20" r="0.85" fill="#858585" fill-opacity="0.5"/>
<circle cx="205.94" cy="299.49" r="0.85" fill="#858585" fill-opacity="0.5"/>
<circle cx="207.19" cy="297.41" r="0.85" fill="#858585" fill-opacity="0.5"/>
<circle cx="206.13" cy="295.23" r="0.85" fill="#858585" fill-opacity="0.5"/>
<circle cx="208.00" cy="297.46" r="0.85" fill="#858585" fill-opacity="0.5"/>
<circle cx="208.11" cy="298.60" r="0.85" fill="#858585" fill-opacity="0.5"/>
<circle cx="208.28" cy="299.33" r="0.85" fill="#858585" fill-opacity="0.5"/>
<circle cx="209.59" cy="292.38" r="0.85" fill="#858585" fill-opacity="0.5"/>
<circle cx="208.02" cy="300.30" r="0.85" fill="#858585" fill-opacity="0.5"/>
<circle cx="207.18" cy="298.28" r="0.85" fill="#858585" fill-opacity="0.5"/>
<circle cx="204.96" cy="298.49" r="0.85" fill="#858585" fill-opacity="0.5"/>
<circle cx="206.21" cy="294.58" r="0.85" fill="#858585" fill-opacity="0.5"/>
<circle cx="208.11" cy="288.04" r="0.85" fill="#858585" fill-opacity="0.5"/>
<circle cx="215.41" cy="300.58" r="0.85" fill="#858585" fill-opacity="0.5"/>
<circle cx="213.66" cy="300.25" r="0.85" fill="#858585" fill-opacity="0.5"/>
<circle cx="212.83" cy="303.33" r="0.85" fill="#858585" fill-opacity="0.5"/>
<circle cx="214.48" cy="302.02" r="0.85" fill="#858585" fill-opacity="0.5"/>
<circle cx="215.36" cy="296.27" r="0.85" fill="#858585" fill-opacity="0.5"/>
<circle cx="214.75" cy="299.10" r="0.85" fill="#858585" fill-opacity="0.5"/>
<circle cx="215.12" cy="300.85" r="0.85" fill="#858585" fill-opacity="0.5"/>
<circle cx="212.39" cy="298.08" r="0.85" fill="#858585" fill-opacity="0.5"/>
<circle cx="213.24" cy="303.33" r="0.85" fill="#858585" fill-opacity="0.5"/>
<circle cx="215.10" cy="300.87" r="0.85" fill="#858585" fill-opacity="0.5"/>
<circle cx="213.73" cy="295.61" r="0.85" fill="#858585" fill-opacity="0.5"/>
<circle cx="212.04" cy="296.18" r="0.85" fill="#858585" fill-opacity="0.5"/>
<circle cx="214.03" cy="303.29" r="0.85" fill="#858585" fill-opacity="0.5"/>
<circle cx="212.46" cy="301.97" r="0.85" fill="#858585" fill-opacity="0.5"/>
<circle cx="215.77" cy="298.55" r="0.85" fill="#858585" fill-opacity="0.5"/>
<circle cx="212.66" cy="298.57" r="0.85" fill="#858585" fill-opacity="0.5"/>
<circle cx="213.34" cy="301.86" r="0.85" fill="#858585" fill-opacity="0.5"/>
<circle cx="213.85" cy="298.78" r="0.85" fill="#858585" fill-opacity="0.5"/>
<circle cx="213.60" cy="297.68" r="0.85" fill="#858585" fill-opacity="0.5"/>
<circle cx="214.09" cy="298.76" r="0.85" fill="#858585" fill-opacity="0.5"/>
<circle cx="214.22" cy="302.89" r="0.85" fill="#858585" fill-opacity="0.5"/>
<circle cx="211.31" cy="305.18" r="0.85" fill="#858585" fill-opacity="0.5"/>
<circle cx="213.82" cy="296.80" r="0.85" fill="#858585" fill-opacity="0.5"/>
<circle cx="213.19" cy="304.36" r="0.85" fill="#858585" fill-opacity="0.5"/>
<circle cx="214.31" cy="313.43" r="0.85" fill="#858585" fill-opacity="0.5"/>
<circle cx="213.34" cy="294.99" r="0.85" fill="#858585" fill-opacity="0.5"/>
<circle cx="214.81" cy="300.22" r="0.85" fill="#858585" fill-opacity="0.5"/>
<circle cx="214.85" cy="305.79" r="0.85" fill="#858585" fill-opacity="0.5"/>
<circle cx="211.63" cy="298.55" r="0.85" fill="#858585" fill-opacity="0.5"/>
<circle cx="213.77" cy="299.48" r="0.85" fill="#858585" fill-opacity="0.5"/>
<circle cx="214.19" cy="298.15" r="0.85" fill="#858585" fill-opacity="0.5"/>
<circle cx="213.19" cy="295.36" r="0.85" fill="#858585" fill-opacity="0.5"/>
<circle cx="214.06" cy="298.80" r="0.85" fill="#858585" fill-opacity="0.5"/>
<circle cx="214.09" cy="300.26" r="0.85" fill="#858585" fill-opacity="0.5"/>
<circle cx="213.85" cy="292.48" r="0.85" fill="#858585" fill-opacity="0.5"/>
<circle cx="212.00" cy="301.53" r="0.85" fill="#858585" fill-opacity="0.5"/>
<circle cx="214.32" cy="292.42" r="0.85" fill="#858585" fill-opacity="0.5"/>
<circle cx="212.04" cy="299.98" r="0.85" fill="#858585" fill-opacity="0.5"/>
<circle cx="212.89" cy="294.14" r="0.85" fill="#858585" fill-opacity="0.5"/>
<circle cx="213.35" cy="304.61" r="0.85" fill="#858585" fill-opacity="0.5"/>
<circle cx="214.36" cy="293.94" r="0.85" fill="#858585" fill-opacity="0.5"/>
<circle cx="212.52" cy="294.68" r="0.85" fill="#858585" fill-opacity="0.5"/>
<circle cx="214.24" cy="303.81" r="0.85" fill="#858585" fill-opacity="0.5"/>
<circle cx="213.67" cy="299.79" r="0.85" fill="#858585" fill-opacity="0.5"/>
<circle cx="214.80" cy="293.46" r="0.85" fill="#858585" fill-opacity="0.5"/>
<circle cx="212.90" cy="296.23" r="0.85" fill="#858585" fill-opacity="0.5"/>
<circle cx="213.27" cy="297.90" r="0.85" fill="#858585" fill-opacity="0.5"/>
<circle cx="216.51" cy="313.45" r="0.85" fill="#858585" fill-opacity="0.5"/>
<circle cx="213.58" cy="296.89" r="0.85" fill="#858585" fill-opacity="0.5"/>
<circle cx="214.13" cy="298.68" r="0.85" fill="#858585" fill-opacity="0.5"/>
<circle cx="215.47" cy="298.20" r="0.85" fill="#858585" fill-opacity="0.5"/>
<circle cx="214.10" cy="298.86" r="0.85" fill="#858585" fill-opacity="0.5"/>
<circle cx="214.63" cy="300.37" r="0.85" fill="#858585" fill-opacity="0.5"/>
<circle cx="214.14" cy="302.21" r="0.85" fill="#858585" fill-opacity="0.5"/>
<circle cx="215.27" cy="301.97" r="0.85" fill="#858585" fill-opacity="0.5"/>
<circle cx="213.23" cy="297.06" r="0.85" fill="#858585" fill-opacity="0.5"/>
<circle cx="214.86" cy="298.02" r="0.85" fill="#858585" fill-opacity="0.5"/>
<circle cx="213.46" cy="302.17" r="0.85" fill="#858585" fill-opacity="0.5"/>
<circle cx="214.90" cy="300.30" r="0.85" fill="#858585" fill-opacity="0.5"/>
<circle cx="215.35" cy="299.30" r="0.85" fill="#858585" fill-opacity="0.5"/>
<circle cx="212.63" cy="303.67" r="0.85" fill="#858585" fill-opacity="0.5"/>
<circle cx="213.05" cy="299.90" r="0.85" fill="#858585" fill-opacity="0.5"/>
<circle cx="213.99" cy="295.49" r="0.85" fill="#858585" fill-opacity="0.5"/>
<circle cx="212.86" cy="302.10" r="0.85" fill="#858585" fill-opacity="0.5"/>
<circle cx="214.55" cy="296.90" r="0.85" fill="#858585" fill-opacity="0.5"/>
<circle cx="214.97" cy="293.33" r="0.85" fill="#858585" fill-opacity="0.5"/>
<circle cx="213.86" cy="294.13" r="0.85" fill="#858585" fill-opacity="0.5"/>
<circle cx="215.01" cy="295.89" r="0.85" fill="#858585" fill-opacity="0.5"/>
<circle cx="214.18" cy="299.61" r="0.85" fill="#858585" fill-opacity="0.5"/>
<circle cx="213.45" cy="300.71" r="0.85" fill="#858585" fill-opacity="0.5"/>
<circle cx="222.31" cy="301.87" r="0.85" fill="#858585" fill-opacity="0.5"/>
<circle cx="222.66" cy="302.96" r="0.85" fill="#858585" fill-opacity="0.5"/>
<circle cx="221.00" cy="300.33" r="0.85" fill="#858585" fill-opacity="0.5"/>
<circle cx="218.72" cy="302.37" r="0.85" fill="#858585" fill-opacity="0.5"/>
<circle cx="221.91" cy="298.03" r="0.85" fill="#858585" fill-opacity="0.5"/>
<circle cx="218.93" cy="302.66" r="0.85" fill="#858585" fill-opacity="0.5"/>
<circle cx="223.41" cy="301.57" r="0.85" fill="#858585" fill-opacity="0.5"/>
<circle cx="220.59" cy="316.75" r="0.85" fill="#858585" fill-opacity="0.5"/>
<circle cx="220.29" cy="307.71" r="0.85" fill="#858585" fill-opacity="0.5"/>
<circle cx="220.96" cy="298.51" r="0.85" fill="#858585" fill-opacity="0.5"/>
<circle cx="219.99" cy="297.06" r="0.85" fill="#858585" fill-opacity="0.5"/>
<circle cx="221.08" cy="304.40" r="0.85" fill="#858585" fill-opacity="0.5"/>
<circle cx="221.03" cy="306.04" r="0.85" fill="#858585" fill-opacity="0.5"/>
<circle cx="219.07" cy="312.23" r="0.85" fill="#858585" fill-opacity="0.5"/>
<circle cx="220.64" cy="303.55" r="0.85" fill="#858585" fill-opacity="0.5"/>
<circle cx="220.15" cy="304.84" r="0.85" fill="#858585" fill-opacity="0.5"/>
<circle cx="220.48" cy="297.61" r="0.85" fill="#858585" fill-opacity="0.5"/>
<circle cx="221.22" cy="300.73" r="0.85" fill="#858585" fill-opacity="0.5"/>
<circle cx="220.96" cy="301.62" r="0.85" fill="#858585" fill-opacity="0.5"/>
<circle cx="222.16" cy="302.56" r="0.85" fill="#858585" fill-opacity="0.5"/>
<circle cx="221.16" cy="297.28" r="0.85" fill="#858585" fill-opacity="0.5"/>
<circle cx="221.03" cy="299.68" r="0.85" fill="#858585" fill-opacity="0.5"/>
<circle cx="219.80" cy="304.02" r="0.85" fill="#858585" fill-opacity="0.5"/>
<circle cx="221.90" cy="303.78" r="0.85" fill="#858585" fill-opacity="0.5"/>
<circle cx="218.65" cy="295.27" r="0.85" fill="#858585" fill-opacity="0.5"/>
<circle cx="220.84" cy="299.25" r="0.85" fill="#858585" fill-opacity="0.5"/>
<circle cx="221.04" cy="296.79" r="0.85" fill="#858585" fill-opacity="0.5"/>
<circle cx="221.79" cy="306.01" r="0.85" fill="#858585" fill-opacity="0.5"/>
<circle cx="221.09" cy="317.18" r="0.85" fill="#858585" fill-opacity="0.5"/>
<circle cx="221.63" cy="297.65" r="0.85" fill="#858585" fill-opacity="0.5"/>
<circle cx="220.80" cy="303.78" r="0.85" fill="#858585" fill-opacity="0.5"/>
<circle cx="223.41" cy="303.27" r="0.85" fill="#858585" fill-opacity="0.5"/>
<circle cx="218.96" cy="299.51" r="0.85" fill="#858585" fill-opacity="0.5"/>
<circle cx="223.41" cy="306.12" r="0.85" fill="#858585" fill-opacity="0.5"/>
<circle cx="222.68" cy="307.69" r="0.85" fill="#858585" fill-opacity="0.5"/>
<circle cx="221.74" cy="301.68" r="0.85" fill="#858585" fill-opacity="0.5"/>
<circle cx="221.06" cy="298.01" r="0.85" fill="#858585" fill-opacity="0.5"/>
<circle cx="220.28" cy="323.15" r="0.85" fill="#858585" fill-opacity="0.5"/>
<circle cx="220.22" cy="307.38" r="0.85" fill="#858585" fill-opacity="0.5"/>
<circle cx="219.75" cy="300.41" r="0.85" fill="#858585" fill-opacity="0.5"/>
<circle cx="220.36" cy="304.15" r="0.85" fill="#858585" fill-opacity="0.5"/>
<circle cx="221.41" cy="300.96" r="0.85" fill="#858585" fill-opacity="0.5"/>
<circle cx="221.19" cy="301.80" r="0.85" fill="#858585" fill-opacity="0.5"/>
<circle cx="221.59" cy="304.86" r="0.85" fill="#858585" fill-opacity="0.5"/>
<circle cx="222.96" cy="305.20" r="0.85" fill="#858585" fill-opacity="0.5"/>
<circle cx="222.27" cy="309.28" r="0.85" fill="#858585" fill-opacity="0.5"/>
<circle cx="219.39" cy="325.60" r="0.85" fill="#858585" fill-opacity="0.5"/>
<circle cx="220.30" cy="299.22" r="0.85" fill="#858585" fill-opacity="0.5"/>
<circle cx="222.28" cy="299.35" r="0.85" fill="#858585" fill-opacity="0.5"/>
<circle cx="220.72" cy="308.09" r="0.85" fill="#858585" fill-opacity="0.5"/>
<circle cx="221.42" cy="299.58" r="0.85" fill="#858585" fill-opacity="0.5"/>
<circle cx="221.34" cy="303.36" r="0.85" fill="#858585" fill-opacity="0.5"/>
<circle cx="220.50" cy="305.96" r="0.85" fill="#858585" fill-opacity="0.5"/>
<circle cx="220.84" cy="297.62" r="0.85" fill="#858585" fill-opacity="0.5"/>
<circle cx="220.97" cy="298.39" r="0.85" fill="#858585" fill-opacity="0.5"/>
<circle cx="218.32" cy="301.26" r="0.85" fill="#858585" fill-opacity="0.5"/>
<circle cx="222.53" cy="304.07" r="0.85" fill="#858585" fill-opacity="0.5"/>
<circle cx="220.81" cy="317.39" r="0.85" fill="#858585" fill-opacity="0.5"/>
<circle cx="222.77" cy="303.44" r="0.85" fill="#858585" fill-opacity="0.5"/>
<circle cx="223.41" cy="304.99" r="0.85" fill="#858585" fill-opacity="0.5"/>
<circle cx="218.92" cy="302.52" r="0.85" fill="#858585" fill-opacity="0.5"/>
<circle cx="220.02" cy="305.12" r="0.85" fill="#858585" fill-opacity="0.5"/>
<circle cx="223.18" cy="321.22" r="0.85" fill="#858585" fill-opacity="0.5"/>
<circle cx="220.08" cy="299.21" r="0.85" fill="#858585" fill-opacity="0.5"/>
<circle cx="222.89" cy="309.13" r="0.85" fill="#858585" fill-opacity="0.5"/>
<circle cx="221.06" cy="300.35" r="0.85" fill="#858585" fill-opacity="0.5"/>
<circle cx="218.28" cy="303.66" r="0.85" fill="#858585" fill-opacity="0.5"/>
<circle cx="221.72" cy="293.96" r="0.85" fill="#858585" fill-opacity="0.5"/>
<circle cx="220.02" cy="308.16" r="0.85" fill="#858585" fill-opacity="0.5"/>
<circle cx="220.31" cy="302.67" r="0.85" fill="#858585" fill-opacity="0.5"/>
<circle cx="238.43" cy="302.66" r="0.85" fill="#858585" fill-opacity="0.5"/>
<circle cx="235.33" cy="291.52" r="0.85" fill="#858585" fill-opacity="0.5"/>
<circle cx="237.96" cy="297.36" r="0.85" fill="#858585" fill-opacity="0.5"/>
<circle cx="237.39" cy="286.16" r="0.85" fill="#858585" fill-opacity="0.5"/>
<circle cx="237.89" cy="296.24" r="0.85" fill="#858585" fill-opacity="0.5"/>
<circle cx="238.14" cy="292.05" r="0.85" fill="#858585" fill-opacity="0.5"/>
<circle cx="236.47" cy="284.75" r="0.85" fill="#858585" fill-opacity="0.5"/>
<circle cx="237.08" cy="292.22" r="0.85" fill="#858585" fill-opacity="0.5"/>
<circle cx="236.82" cy="290.76" r="0.85" fill="#858585" fill-opacity="0.5"/>
<circle cx="235.18" cy="289.08" r="0.85" fill="#858585" fill-opacity="0.5"/>
<circle cx="235.95" cy="286.61" r="0.85" fill="#858585" fill-opacity="0.5"/>
<circle cx="238.83" cy="289.85" r="0.85" fill="#858585" fill-opacity="0.5"/>
<circle cx="235.27" cy="292.67" r="0.85" fill="#858585" fill-opacity="0.5"/>
<circle cx="235.95" cy="285.84" r="0.85" fill="#858585" fill-opacity="0.5"/>
<circle cx="236.68" cy="287.25" r="0.85" fill="#858585" fill-opacity="0.5"/>
<circle cx="236.89" cy="290.70" r="0.85" fill="#858585" fill-opacity="0.5"/>
<circle cx="236.45" cy="294.19" r="0.85" fill="#858585" fill-opacity="0.5"/>
<circle cx="238.04" cy="290.69" r="0.85" fill="#858585" fill-opacity="0.5"/>
<circle cx="235.77" cy="283.51" r="0.85" fill="#858585" fill-opacity="0.5"/>
<circle cx="236.60" cy="286.94" r="0.85" fill="#858585" fill-opacity="0.5"/>
<circle cx="236.66" cy="292.22" r="0.85" fill="#858585" fill-opacity="0.5"/>
<circle cx="236.37" cy="291.08" r="0.85" fill="#858585" fill-opacity="0.5"/>
<circle cx="238.62" cy="303.42" r="0.85" fill="#858585" fill-opacity="0.5"/>
<circle cx="237.59" cy="288.33" r="0.85" fill="#858585" fill-opacity="0.5"/>
<circle cx="236.86" cy="288.21" r="0.85" fill="#858585" fill-opacity="0.5"/>
<circle cx="235.66" cy="291.26" r="0.85" fill="#858585" fill-opacity="0.5"/>
<circle cx="236.61" cy="288.16" r="0.85" fill="#858585" fill-opacity="0.5"/>
<circle cx="236.42" cy="291.34" r="0.85" fill="#858585" fill-opacity="0.5"/>
<circle cx="235.99" cy="288.79" r="0.85" fill="#858585" fill-opacity="0.5"/>
<circle cx="236.71" cy="287.30" r="0.85" fill="#858585" fill-opacity="0.5"/>
<circle cx="236.12" cy="288.77" r="0.85" fill="#858585" fill-opacity="0.5"/>
<circle cx="236.91" cy="288.41" r="0.85" fill="#858585" fill-opacity="0.5"/>
<circle cx="234.97" cy="289.16" r="0.85" fill="#858585" fill-opacity="0.5"/>
<circle cx="236.66" cy="288.02" r="0.85" fill="#858585" fill-opacity="0.5"/>
<circle cx="238.35" cy="289.23" r="0.85" fill="#858585" fill-opacity="0.5"/>
<circle cx="236.83" cy="293.80" r="0.85" fill="#858585" fill-opacity="0.5"/>
<circle cx="237.12" cy="287.52" r="0.85" fill="#858585" fill-opacity="0.5"/>
<circle cx="235.92" cy="292.40" r="0.85" fill="#858585" fill-opacity="0.5"/>
<circle cx="237.86" cy="289.15" r="0.85" fill="#858585" fill-opacity="0.5"/>
<circle cx="236.16" cy="288.73" r="0.85" fill="#858585" fill-opacity="0.5"/>
<circle cx="234.66" cy="291.65" r="0.85" fill="#858585" fill-opacity="0.5"/>
<circle cx="236.57" cy="292.11" r="0.85" fill="#858585" fill-opacity="0.5"/>
<circle cx="236.59" cy="293.19" r="0.85" fill="#858585" fill-opacity="0.5"/>
<circle cx="237.80" cy="290.17" r="0.85" fill="#858585" fill-opacity="0.5"/>
<circle cx="237.26" cy="294.20" r="0.85" fill="#858585" fill-opacity="0.5"/>
<circle cx="235.52" cy="290.20" r="0.85" fill="#858585" fill-opacity="0.5"/>
<circle cx="237.38" cy="290.04" r="0.85" fill="#858585" fill-opacity="0.5"/>
<circle cx="238.00" cy="286.59" r="0.85" fill="#858585" fill-opacity="0.5"/>
<circle cx="234.17" cy="288.49" r="0.85" fill="#858585" fill-opacity="0.5"/>
<circle cx="237.40" cy="288.53" r="0.85" fill="#858585" fill-opacity="0.5"/>
<circle cx="235.54" cy="311.66" r="0.85" fill="#858585" fill-opacity="0.5"/>
<circle cx="236.56" cy="289.28" r="0.85" fill="#858585" fill-opacity="0.5"/>
<circle cx="237.64" cy="289.21" r="0.85" fill="#858585" fill-opacity="0.5"/>
<circle cx="237.53" cy="289.81" r="0.85" fill="#858585" fill-opacity="0.5"/>
<circle cx="237.78" cy="287.67" r="0.85" fill="#858585" fill-opacity="0.5"/>
<circle cx="239.37" cy="280.85" r="0.85" fill="#858585" fill-opacity="0.5"/>
<circle cx="234.75" cy="291.42" r="0.85" fill="#858585" fill-opacity="0.5"/>
<circle cx="237.80" cy="290.68" r="0.85" fill="#858585" fill-opacity="0.5"/>
<circle cx="237.05" cy="289.99" r="0.85" fill="#858585" fill-opacity="0.5"/>
<circle cx="237.02" cy="285.81" r="0.85" fill="#858585" fill-opacity="0.5"/>
<circle cx="237.13" cy="289.15" r="0.85" fill="#858585" fill-opacity="0.5"/>
<circle cx="234.74" cy="290.76" r="0.85" fill="#858585" fill-opacity="0.5"/>
<circle cx="236.67" cy="289.66" r="0.85" fill="#858585" fill-opacity="0.5"/>
<circle cx="235.76" cy="291.00" r="0.85" fill="#858585" fill-opacity="0.5"/>
<circle cx="237.74" cy="298.23" r="0.85" fill="#858585" fill-opacity="0.5"/>
<circle cx="235.64" cy="289.26" r="0.85" fill="#858585" fill-opacity="0.5"/>
<circle cx="238.18" cy="295.19" r="0.85" fill="#858585" fill-opacity="0.5"/>
<circle cx="237.67" cy="288.07" r="0.85" fill="#858585" fill-opacity="0.5"/>
<circle cx="236.97" cy="294.78" r="0.85" fill="#858585" fill-opacity="0.5"/>
<circle cx="237.17" cy="282.77" r="0.85" fill="#858585" fill-opacity="0.5"/>
<circle cx="245.82" cy="290.37" r="0.85" fill="#858585" fill-opacity="0.5"/>
<circle cx="243.89" cy="287.99" r="0.85" fill="#858585" fill-opacity="0.5"/>
<circle cx="244.25" cy="290.04" r="0.85" fill="#858585" fill-opacity="0.5"/>
<circle cx="244.08" cy="288.46" r="0.85" fill="#858585" fill-opacity="0.5"/>
<circle cx="244.87" cy="285.07" r="0.85" fill="#858585" fill-opacity="0.5"/>
<circle cx="245.12" cy="281.62" r="0.85" fill="#858585" fill-opacity="0.5"/>
<circle cx="241.84" cy="294.93" r="0.85" fill="#858585" fill-opacity="0.5"/>
<circle cx="244.63" cy="289.21" r="0.85" fill="#858585" fill-opacity="0.5"/>
<circle cx="244.22" cy="300.84" r="0.85" fill="#858585" fill-opacity="0.5"/>
<circle cx="243.80" cy="282.76" r="0.85" fill="#858585" fill-opacity="0.5"/>
<circle cx="243.98" cy="292.10" r="0.85" fill="#858585" fill-opacity="0.5"/>
<circle cx="244.49" cy="294.13" r="0.85" fill="#858585" fill-opacity="0.5"/>
<circle cx="246.06" cy="285.86" r="0.85" fill="#858585" fill-opacity="0.5"/>
<circle cx="242.72" cy="291.20" r="0.85" fill="#858585" fill-opacity="0.5"/>
<circle cx="244.12" cy="288.18" r="0.85" fill="#858585" fill-opacity="0.5"/>
<circle cx="243.96" cy="290.40" r="0.85" fill="#858585" fill-opacity="0.5"/>
<circle cx="243.44" cy="292.55" r="0.85" fill="#858585" fill-opacity="0.5"/>
<circle cx="243.34" cy="292.87" r="0.85" fill="#858585" fill-opacity="0.5"/>
<circle cx="243.80" cy="290.30" r="0.85" fill="#858585" fill-opacity="0.5"/>
<circle cx="242.13" cy="292.74" r="0.85" fill="#858585" fill-opacity="0.5"/>
<circle cx="241.90" cy="290.05" r="0.85" fill="#858585" fill-opacity="0.5"/>
<circle cx="243.75" cy="286.33" r="0.85" fill="#858585" fill-opacity="0.5"/>
<circle cx="244.61" cy="296.02" r="0.85" fill="#858585" fill-opacity="0.5"/>
<circle cx="243.58" cy="294.20" r="0.85" fill="#858585" fill-opacity="0.5"/>
<circle cx="242.01" cy="284.64" r="0.85" fill="#858585" fill-opacity="0.5"/>
<circle cx="244.50" cy="311.84" r="0.85" fill="#858585" fill-opacity="0.5"/>
<circle cx="242.96" cy="290.12" r="0.85" fill="#858585" fill-opacity="0.5"/>
<circle cx="244.12" cy="294.09" r="0.85" fill="#858585" fill-opacity="0.5"/>
<circle cx="244.33" cy="288.66" r="0.85" fill="#858585" fill-opacity="0.5"/>
<circle cx="244.79" cy="292.77" r="0.85" fill="#858585" fill-opacity="0.5"/>
<circle cx="242.09" cy="289.35" r="0.85" fill="#858585" fill-opacity="0.5"/>
<circle cx="242.41" cy="288.53" r="0.85" fill="#858585" fill-opacity="0.5"/>
<circle cx="243.75" cy="290.74" r="0.85" fill="#858585" fill-opacity="0.5"/>
<circle cx="245.82" cy="291.32" r="0.85" fill="#858585" fill-opacity="0.5"/>
<circle cx="243.23" cy="292.99" r="0.85" fill="#858585" fill-opacity="0.5"/>
<circle cx="246.27" cy="288.29" r="0.85" fill="#858585" fill-opacity="0.5"/>
<circle cx="242.12" cy="289.55" r="0.85" fill="#858585" fill-opacity="0.5"/>
<circle cx="243.37" cy="290.48" r="0.85" fill="#858585" fill-opacity="0.5"/>
<circle cx="244.14" cy="288.14" r="0.85" fill="#858585" fill-opacity="0.5"/>
<circle cx="241.21" cy="286.77" r="0.85" fill="#858585" fill-opacity="0.5"/>
<circle cx="243.94" cy="289.79" r="0.85" fill="#858585" fill-opacity="0.5"/>
<circle cx="244.74" cy="284.93" r="0.85" fill="#858585" fill-opacity="0.5"/>
<circle cx="245.24" cy="289.93" r="0.85" fill="#858585" fill-opacity="0.5"/>
<circle cx="244.60" cy="292.13" r="0.85" fill="#858585" fill-opacity="0.5"/>
<circle cx="244.68" cy="282.34" r="0.85" fill="#858585" fill-opacity="0.5"/>
<circle cx="241.07" cy="290.05" r="0.85" fill="#858585" fill-opacity="0.5"/>
<circle cx="244.51" cy="294.04" r="0.85" fill="#858585" fill-opacity="0.5"/>
<circle cx="245.19" cy="293.68" r="0.85" fill="#858585" fill-opacity="0.5"/>
<circle cx="244.04" cy="291.47" r="0.85" fill="#858585" fill-opacity="0.5"/>
<circle cx="244.63" cy="294.24" r="0.85" fill="#858585" fill-opacity="0.5"/>
<circle cx="243.65" cy="292.96" r="0.85" fill="#858585" fill-opacity="0.5"/>
<circle cx="243.89" cy="288.18" r="0.85" fill="#858585" fill-opacity="0.5"/>
<circle cx="244.28" cy="293.78" r="0.85" fill="#858585" fill-opacity="0.5"/>
<circle cx="246.04" cy="307.29" r="0.85" fill="#858585" fill-opacity="0.5"/>
<circle cx="245.07" cy="287.36" r="0.85" fill="#858585" fill-opacity="0.5"/>
<circle cx="242.02" cy="292.30" r="0.85" fill="#858585" fill-opacity="0.5"/>
<circle cx="243.09" cy="286.23" r="0.85" fill="#858585" fill-opacity="0.5"/>
<circle cx="242.46" cy="296.61" r="0.85" fill="#858585" fill-opacity="0.5"/>
<circle cx="243.74" cy="292.26" r="0.85" fill="#858585" fill-opacity="0.5"/>
<circle cx="243.70" cy="292.34" r="0.85" fill="#858585" fill-opacity="0.5"/>
<circle cx="244.20" cy="292.66" r="0.85" fill="#858585" fill-opacity="0.5"/>
<circle cx="244.11" cy="290.46" r="0.85" fill="#858585" fill-opacity="0.5"/>
<circle cx="244.71" cy="287.81" r="0.85" fill="#858585" fill-opacity="0.5"/>
<circle cx="243.59" cy="291.09" r="0.85" fill="#858585" fill-opacity="0.5"/>
<circle cx="244.01" cy="290.31" r="0.85" fill="#858585" fill-opacity="0.5"/>
<circle cx="243.53" cy="294.43" r="0.85" fill="#858585" fill-opacity="0.5"/>
<circle cx="243.97" cy="289.01" r="0.85" fill="#858585" fill-opacity="0.5"/>
<circle cx="245.14" cy="291.08" r="0.85" fill="#858585" fill-opacity="0.5"/>
<circle cx="243.48" cy="278.06" r="0.85" fill="#858585" fill-opacity="0.5"/>
<circle cx="246.26" cy="289.61" r="0.85" fill="#858585" fill-opacity="0.5"/>
<circle cx="252.62" cy="290.59" r="0.85" fill="#858585" fill-opacity="0.5"/>
<circle cx="250.23" cy="299.46" r="0.85" fill="#858585" fill-opacity="0.5"/>
<circle cx="251.39" cy="294.99" r="0.85" fill="#858585" fill-opacity="0.5"/>
<circle cx="249.22" cy="296.40" r="0.85" fill="#858585" fill-opacity="0.5"/>
<circle cx="249.68" cy="301.06" r="0.85" fill="#858585" fill-opacity="0.5"/>
<circle cx="248.42" cy="296.03" r="0.85" fill="#858585" fill-opacity="0.5"/>
<circle cx="250.48" cy="291.10" r="0.85" fill="#858585" fill-opacity="0.5"/>
<circle cx="250.11" cy="293.16" r="0.85" fill="#858585" fill-opacity="0.5"/>
<circle cx="252.20" cy="291.33" r="0.85" fill="#858585" fill-opacity="0.5"/>
<circle cx="251.35" cy="297.43" r="0.85" fill="#858585" fill-opacity="0.5"/>
<circle cx="251.27" cy="294.24" r="0.85" fill="#858585" fill-opacity="0.5"/>
<circle cx="251.52" cy="297.90" r="0.85" fill="#858585" fill-opacity="0.5"/>
<circle cx="251.56" cy="294.24" r="0.85" fill="#858585" fill-opacity="0.5"/>
<circle cx="250.15" cy="289.41" r="0.85" fill="#858585" fill-opacity="0.5"/>
<circle cx="250.49" cy="296.15" r="0.85" fill="#858585" fill-opacity="0.5"/>
<circle cx="250.01" cy="290.70" r="0.85" fill="#858585" fill-opacity="0.5"/>
<circle cx="248.56" cy="295.53" r="0.85" fill="#858585" fill-opacity="0.5"/>
<circle cx="249.44" cy="289.53" r="0.85" fill="#858585" fill-opacity="0.5"/>
<circle cx="252.23" cy="294.19" r="0.85" fill="#858585" fill-opacity="0.5"/>
<circle cx="250.14" cy="292.78" r="0.85" fill="#858585" fill-opacity="0.5"/>
<circle cx="251.53" cy="290.57" r="0.85" fill="#858585" fill-opacity="0.5"/>
<circle cx="251.41" cy="289.92" r="0.85" fill="#858585" fill-opacity="0.5"/>
<circle cx="253.11" cy="297.62" r="0.85" fill="#858585" fill-opacity="0.5"/>
<circle cx="250.05" cy="295.21" r="0.85" fill="#858585" fill-opacity="0.5"/>
<circle cx="250.63" cy="294.12" r="0.85" fill="#858585" fill-opacity="0.5"/>
<circle cx="249.11" cy="297.83" r="0.85" fill="#858585" fill-opacity="0.5"/>
<circle cx="250.37" cy="293.99" r="0.85" fill="#858585" fill-opacity="0.5"/>
<circle cx="249.87" cy="294.59" r="0.85" fill="#858585" fill-opacity="0.5"/>
<circle cx="249.85" cy="296.69" r="0.85" fill="#858585" fill-opacity="0.5"/>
<circle cx="248.45" cy="293.71" r="0.85" fill="#858585" fill-opacity="0.5"/>
<circle cx="249.56" cy="294.81" r="0.85" fill="#858585" fill-opacity="0.5"/>
<circle cx="249.20" cy="297.02" r="0.85" fill="#858585" fill-opacity="0.5"/>
<circle cx="252.44" cy="311.45" r="0.85" fill="#858585" fill-opacity="0.5"/>
<circle cx="250.52" cy="298.99" r="0.85" fill="#858585" fill-opacity="0.5"/>
<circle cx="249.14" cy="292.30" r="0.85" fill="#858585" fill-opacity="0.5"/>
<circle cx="251.44" cy="298.42" r="0.85" fill="#858585" fill-opacity="0.5"/>
<circle cx="250.76" cy="292.58" r="0.85" fill="#858585" fill-opacity="0.5"/>
<circle cx="251.93" cy="291.68" r="0.85" fill="#858585" fill-opacity="0.5"/>
<circle cx="248.83" cy="290.48" r="0.85" fill="#858585" fill-opacity="0.5"/>
<circle cx="251.84" cy="296.85" r="0.85" fill="#858585" fill-opacity="0.5"/>
<circle cx="250.43" cy="297.23" r="0.85" fill="#858585" fill-opacity="0.5"/>
<circle cx="252.71" cy="296.60" r="0.85" fill="#858585" fill-opacity="0.5"/>
<circle cx="248.94" cy="295.39" r="0.85" fill="#858585" fill-opacity="0.5"/>
<circle cx="250.21" cy="312.82" r="0.85" fill="#858585" fill-opacity="0.5"/>
<circle cx="250.62" cy="298.20" r="0.85" fill="#858585" fill-opacity="0.5"/>
<circle cx="247.97" cy="296.05" r="0.85" fill="#858585" fill-opacity="0.5"/>
<circle cx="250.25" cy="294.42" r="0.85" fill="#858585" fill-opacity="0.5"/>
<circle cx="249.33" cy="307.69" r="0.85" fill="#858585" fill-opacity="0.5"/>
<circle cx="250.76" cy="284.70" r="0.85" fill="#858585" fill-opacity="0.5"/>
<circle cx="249.32" cy="299.08" r="0.85" fill="#858585" fill-opacity="0.5"/>
<circle cx="250.90" cy="295.40" r="0.85" fill="#858585" fill-opacity="0.5"/>
<circle cx="251.36" cy="297.92" r="0.85" fill="#858585" fill-opacity="0.5"/>
<circle cx="249.51" cy="292.64" r="0.85" fill="#858585" fill-opacity="0.5"/>
<circle cx="250.08" cy="296.44" r="0.85" fill="#858585" fill-opacity="0.5"/>
<circle cx="252.26" cy="293.69" r="0.85" fill="#858585" fill-opacity="0.5"/>
<circle cx="250.49" cy="295.11" r="0.85" fill="#858585" fill-opacity="0.5"/>
<circle cx="248.18" cy="298.77" r="0.85" fill="#858585" fill-opacity="0.5"/>
<circle cx="250.13" cy="294.53" r="0.85" fill="#858585" fill-opacity="0.5"/>
<circle cx="250.47" cy="294.78" r="0.85" fill="#858585" fill-opacity="0.5"/>
<circle cx="249.41" cy="300.18" r="0.85" fill="#858585" fill-opacity="0.5"/>
<circle cx="250.40" cy="307.11" r="0.85" fill="#858585" fill-opacity="0.5"/>
<circle cx="251.38" cy="297.96" r="0.85" fill="#858585" fill-opacity="0.5"/>
<circle cx="251.20" cy="295.79" r="0.85" fill="#858585" fill-opacity="0.5"/>
<circle cx="250.03" cy="296.42" r="0.85" fill="#858585" fill-opacity="0.5"/>
<circle cx="249.82" cy="293.70" r="0.85" fill="#858585" fill-opacity="0.5"/>
<circle cx="249.35" cy="296.29" r="0.85" fill="#858585" fill-opacity="0.5"/>
<circle cx="249.95" cy="298.17" r="0.85" fill="#858585" fill-opacity="0.5"/>
<circle cx="250.64" cy="303.50" r="0.85" fill="#858585" fill-opacity="0.5"/>
<circle cx="250.47" cy="292.50" r="0.85" fill="#858585" fill-opacity="0.5"/>
<circle cx="248.63" cy="298.13" r="0.85" fill="#858585" fill-opacity="0.5"/>
<circle cx="258.92" cy="296.01" r="0.85" fill="#858585" fill-opacity="0.5"/>
<circle cx="256.41" cy="293.30" r="0.85" fill="#858585" fill-opacity="0.5"/>
<circle cx="257.28" cy="293.18" r="0.85" fill="#858585" fill-opacity="0.5"/>
<circle cx="257.65" cy="295.91" r="0.85" fill="#858585" fill-opacity="0.5"/>
<circle cx="256.92" cy="292.77" r="0.85" fill="#858585" fill-opacity="0.5"/>
<circle cx="257.58" cy="297.09" r="0.85" fill="#858585" fill-opacity="0.5"/>
<circle cx="258.08" cy="294.56" r="0.85" fill="#858585" fill-opacity="0.5"/>
<circle cx="258.93" cy="292.91" r="0.85" fill="#858585" fill-opacity="0.5"/>
<circle cx="258.35" cy="299.23" r="0.85" fill="#858585" fill-opacity="0.5"/>
<circle cx="257.58" cy="296.24" r="0.85" fill="#858585" fill-opacity="0.5"/>
<circle cx="257.53" cy="292.69" r="0.85" fill="#858585" fill-opacity="0.5"/>
<circle cx="257.37" cy="290.89" r="0.85" fill="#858585" fill-opacity="0.5"/>
<circle cx="258.77" cy="305.56" r="0.85" fill="#858585" fill-opacity="0.5"/>
<circle cx="254.87" cy="294.30" r="0.85" fill="#858585" fill-opacity="0.5"/>
<circle cx="258.43" cy="294.45" r="0.85" fill="#858585" fill-opacity="0.5"/>
<circle cx="257.05" cy="297.77" r="0.85" fill="#858585" fill-opacity="0.5"/>
<circle cx="258.15" cy="293.30" r="0.85" fill="#858585" fill-opacity="0.5"/>
<circle cx="257.26" cy="297.88" r="0.85" fill="#858585" fill-opacity="0.5"/>
<circle cx="255.87" cy="294.17" r="0.85" fill="#858585" fill-opacity="0.5"/>
<circle cx="258.46" cy="292.78" r="0.85" fill="#858585" fill-opacity="0.5"/>
<circle cx="258.63" cy="294.28" r="0.85" fill="#858585" fill-opacity="0.5"/>
<circle cx="255.61" cy="294.88" r="0.85" fill="#858585" fill-opacity="0.5"/>
<circle cx="257.52" cy="296.19" r="0.85" fill="#858585" fill-opacity="0.5"/>
<circle cx="255.95" cy="298.37" r="0.85" fill="#858585" fill-opacity="0.5"/>
<circle cx="256.95" cy="294.15" r="0.85" fill="#858585" fill-opacity="0.5"/>
<circle cx="258.78" cy="298.53" r="0.85" fill="#858585" fill-opacity="0.5"/>
<circle cx="255.41" cy="297.63" r="0.85" fill="#858585" fill-opacity="0.5"/>
<circle cx="258.62" cy="292.31" r="0.85" fill="#858585" fill-opacity="0.5"/>
<circle cx="255.62" cy="297.44" r="0.85" fill="#858585" fill-opacity="0.5"/>
<circle cx="257.64" cy="310.00" r="0.85" fill="#858585" fill-opacity="0.5"/>
<circle cx="260.07" cy="301.61" r="0.85" fill="#858585" fill-opacity="0.5"/>
<circle cx="258.15" cy="294.51" r="0.85" fill="#858585" fill-opacity="0.5"/>
<circle cx="258.40" cy="298.78" r="0.85" fill="#858585" fill-opacity="0.5"/>
<circle cx="256.44" cy="293.07" r="0.85" fill="#858585" fill-opacity="0.5"/>
<circle cx="256.92" cy="298.31" r="0.85" fill="#858585" fill-opacity="0.5"/>
<circle cx="258.01" cy="293.53" r="0.85" fill="#858585" fill-opacity="0.5"/>
<circle cx="258.68" cy="293.35" r="0.85" fill="#858585" fill-opacity="0.5"/>
<circle cx="259.02" cy="295.21" r="0.85" fill="#858585" fill-opacity="0.5"/>
<circle cx="255.14" cy="295.77" r="0.85" fill="#858585" fill-opacity="0.5"/>
<circle cx="257.11" cy="294.59" r="0.85" fill="#858585" fill-opacity="0.5"/>
<circle cx="254.91" cy="293.35" r="0.85" fill="#858585" fill-opacity="0.5"/>
<circle cx="255.79" cy="295.11" r="0.85" fill="#858585" fill-opacity="0.5"/>
<circle cx="255.18" cy="293.92" r="0.85" fill="#858585" fill-opacity="0.5"/>
<circle cx="258.63" cy="317.27" r="0.85" fill="#858585" fill-opacity="0.5"/>
<circle cx="257.96" cy="297.48" r="0.85" fill="#858585" fill-opacity="0.5"/>
<circle cx="258.26" cy="316.03" r="0.85" fill="#858585" fill-opacity="0.5"/>
<circle cx="257.74" cy="292.45" r="0.85" fill="#858585" fill-opacity="0.5"/>
<circle cx="256.27" cy="295.74" r="0.85" fill="#858585" fill-opacity="0.5"/>
<circle cx="257.04" cy="299.38" r="0.85" fill="#858585" fill-opacity="0.5"/>
<circle cx="259.21" cy="292.45" r="0.85" fill="#858585" fill-opacity="0.5"/>
<circle cx="257.63" cy="296.02" r="0.85" fill="#858585" fill-opacity="0.5"/>
<circle cx="255.09" cy="310.24" r="0.85" fill="#858585" fill-opacity="0.5"/>
<circle cx="255.32" cy="295.37" r="0.85" fill="#858585" fill-opacity="0.5"/>
<circle cx="258.01" cy="293.21" r="0.85" fill="#858585" fill-opacity="0.5"/>
<circle cx="257.57" cy="294.89" r="0.85" fill="#858585" fill-opacity="0.5"/>
<circle cx="257.95" cy="311.50" r="0.85" fill="#858585" fill-opacity="0.5"/>
<circle cx="256.35" cy="292.67" r="0.85" fill="#858585" fill-opacity="0.5"/>
<circle cx="257.52" cy="294.38" r="0.85" fill="#858585" fill-opacity="0.5"/>
<circle cx="256.09" cy="296.15" r="0.85" fill="#858585" fill-opacity="0.5"/>
<circle cx="256.89" cy="296.39" r="0.85" fill="#858585" fill-opacity="0.5"/>
<circle cx="256.28" cy="293.97" r="0.85" fill="#858585" fill-opacity="0.5"/>
<circle cx="257.30" cy="295.52" r="0.85" fill="#858585" fill-opacity="0.5"/>
<circle cx="258.18" cy="295.10" r="0.85" fill="#858585" fill-opacity="0.5"/>
<circle cx="256.17" cy="296.04" r="0.85" fill="#858585" fill-opacity="0.5"/>
<circle cx="256.96" cy="297.11" r="0.85" fill="#858585" fill-opacity="0.5"/>
<circle cx="257.00" cy="293.27" r="0.85" fill="#858585" fill-opacity="0.5"/>
<circle cx="256.66" cy="296.71" r="0.85" fill="#858585" fill-opacity="0.5"/>
<circle cx="257.47" cy="294.48" r="0.85" fill="#858585" fill-opacity="0.5"/>
<circle cx="257.66" cy="298.93" r="0.85" fill="#858585" fill-opacity="0.5"/>
<circle cx="258.19" cy="290.09" r="0.85" fill="#858585" fill-opacity="0.5"/>
<circle cx="264.33" cy="295.76" r="0.85" fill="#858585" fill-opacity="0.5"/>
<circle cx="265.25" cy="293.71" r="0.85" fill="#858585" fill-opacity="0.5"/>
<circle cx="263.71" cy="297.28" r="0.85" fill="#858585" fill-opacity="0.5"/>
<circle cx="264.11" cy="298.28" r="0.85" fill="#858585" fill-opacity="0.5"/>
<circle cx="264.91" cy="295.87" r="0.85" fill="#858585" fill-opacity="0.5"/>
<circle cx="262.67" cy="295.88" r="0.85" fill="#858585" fill-opacity="0.5"/>
<circle cx="263.05" cy="298.22" r="0.85" fill="#858585" fill-opacity="0.5"/>
<circle cx="262.91" cy="294.68" r="0.85" fill="#858585" fill-opacity="0.5"/>
<circle cx="263.57" cy="291.59" r="0.85" fill="#858585" fill-opacity="0.5"/>
<circle cx="263.94" cy="293.89" r="0.85" fill="#858585" fill-opacity="0.5"/>
<circle cx="263.64" cy="298.26" r="0.85" fill="#858585" fill-opacity="0.5"/>
<circle cx="264.35" cy="302.11" r="0.85" fill="#858585" fill-opacity="0.5"/>
<circle cx="264.28" cy="296.29" r="0.85" fill="#858585" fill-opacity="0.5"/>
<circle cx="266.06" cy="293.45" r="0.85" fill="#858585" fill-opacity="0.5"/>
<circle cx="266.18" cy="294.59" r="0.85" fill="#858585" fill-opacity="0.5"/>
<circle cx="263.19" cy="295.87" r="0.85" fill="#858585" fill-opacity="0.5"/>
<circle cx="265.29" cy="299.89" r="0.85" fill="#858585" fill-opacity="0.5"/>
<circle cx="264.14" cy="299.00" r="0.85" fill="#858585" fill-opacity="0.5"/>
<circle cx="263.75" cy="305.77" r="0.85" fill="#858585" fill-opacity="0.5"/>
<circle cx="263.17" cy="299.02" r="0.85" fill="#858585" fill-opacity="0.5"/>
<circle cx="265.14" cy="295.67" r="0.85" fill="#858585" fill-opacity="0.5"/>
<circle cx="262.97" cy="291.20" r="0.85" fill="#858585" fill-opacity="0.5"/>
<circle cx="265.63" cy="292.86" r="0.85" fill="#858585" fill-opacity="0.5"/>
<circle cx="265.04" cy="291.47" r="0.85" fill="#858585" fill-opacity="0.5"/>
<circle cx="264.90" cy="295.12" r="0.85" fill="#858585" fill-opacity="0.5"/>
<circle cx="264.96" cy="296.11" r="0.85" fill="#858585" fill-opacity="0.5"/>
<circle cx="265.09" cy="291.86" r="0.85" fill="#858585" fill-opacity="0.5"/>
<circle cx="266.43" cy="294.91" r="0.85" fill="#858585" fill-opacity="0.5"/>
<circle cx="265.71" cy="299.88" r="0.85" fill="#858585" fill-opacity="0.5"/>
<circle cx="265.07" cy="299.08" r="0.85" fill="#858585" fill-opacity="0.5"/>
<circle cx="264.27" cy="296.66" r="0.85" fill="#858585" fill-opacity="0.5"/>
<circle cx="264.31" cy="296.33" r="0.85" fill="#858585" fill-opacity="0.5"/>
<circle cx="264.92" cy="296.57" r="0.85" fill="#858585" fill-opacity="0.5"/>
<circle cx="263.98" cy="296.79" r="0.85" fill="#858585" fill-opacity="0.5"/>
<circle cx="265.19" cy="293.96" r="0.85" fill="#858585" fill-opacity="0.5"/>
<circle cx="265.09" cy="297.52" r="0.85" fill="#858585" fill-opacity="0.5"/>
<circle cx="264.32" cy="289.74" r="0.85" fill="#858585" fill-opacity="0.5"/>
<circle cx="262.00" cy="293.92" r="0.85" fill="#858585" fill-opacity="0.5"/>
<circle cx="263.36" cy="294.18" r="0.85" fill="#858585" fill-opacity="0.5"/>
<circle cx="262.61" cy="296.74" r="0.85" fill="#858585" fill-opacity="0.5"/>
<circle cx="262.91" cy="295.99" r="0.85" fill="#858585" fill-opacity="0.5"/>
<circle cx="265.12" cy="296.34" r="0.85" fill="#858585" fill-opacity="0.5"/>
<circle cx="263.83" cy="296.23" r="0.85" fill="#858585" fill-opacity="0.5"/>
<circle cx="264.57" cy="292.82" r="0.85" fill="#858585" fill-opacity="0.5"/>
<circle cx="263.93" cy="292.97" r="0.85" fill="#858585" fill-opacity="0.5"/>
<circle cx="264.70" cy="296.31" r="0.85" fill="#858585" fill-opacity="0.5"/>
<circle cx="264.19" cy="296.50" r="0.85" fill="#858585" fill-opacity="0.5"/>
<circle cx="265.39" cy="297.62" r="0.85" fill="#858585" fill-opacity="0.5"/>
<circle cx="265.66" cy="292.31" r="0.85" fill="#858585" fill-opacity="0.5"/>
<circle cx="265.20" cy="297.58" r="0.85" fill="#858585" fill-opacity="0.5"/>
<circle cx="265.12" cy="297.11" r="0.85" fill="#858585" fill-opacity="0.5"/>
<circle cx="262.10" cy="295.98" r="0.85" fill="#858585" fill-opacity="0.5"/>
<circle cx="263.16" cy="311.80" r="0.85" fill="#858585" fill-opacity="0.5"/>
<circle cx="264.93" cy="294.41" r="0.85" fill="#858585" fill-opacity="0.5"/>
<circle cx="263.47" cy="288.54" r="0.85" fill="#858585" fill-opacity="0.5"/>
<circle cx="264.45" cy="296.70" r="0.85" fill="#858585" fill-opacity="0.5"/>
<circle cx="264.93" cy="306.14" r="0.85" fill="#858585" fill-opacity="0.5"/>
<circle cx="266.97" cy="287.10" r="0.85" fill="#858585" fill-opacity="0.5"/>
<circle cx="262.62" cy="297.68" r="0.85" fill="#858585" fill-opacity="0.5"/>
<circle cx="266.97" cy="298.82" r="0.85" fill="#858585" fill-opacity="0.5"/>
<circle cx="265.73" cy="296.61" r="0.85" fill="#858585" fill-opacity="0.5"/>
<circle cx="263.73" cy="314.51" r="0.85" fill="#858585" fill-opacity="0.5"/>
<circle cx="264.24" cy="293.97" r="0.85" fill="#858585" fill-opacity="0.5"/>
<circle cx="263.92" cy="296.41" r="0.85" fill="#858585" fill-opacity="0.5"/>
<circle cx="265.36" cy="294.67" r="0.85" fill="#858585" fill-opacity="0.5"/>
<circle cx="265.91" cy="293.03" r="0.85" fill="#858585" fill-opacity="0.5"/>
<circle cx="263.61" cy="298.24" r="0.85" fill="#858585" fill-opacity="0.5"/>
<circle cx="264.10" cy="291.71" r="0.85" fill="#858585" fill-opacity="0.5"/>
<circle cx="265.88" cy="292.07" r="0.85" fill="#858585" fill-opacity="0.5"/>
<circle cx="265.18" cy="298.51" r="0.85" fill="#858585" fill-opacity="0.5"/>
<circle cx="70.70" cy="328.60" r="0.85" fill="#858585" fill-opacity="0.5"/>
<circle cx="68.10" cy="337.20" r="0.85" fill="#858585" fill-opacity="0.5"/>
<circle cx="71.20" cy="336.40" r="0.85" fill="#858585" fill-opacity="0.5"/>
<circle cx="69.40" cy="340.30" r="0.85" fill="#858585" fill-opacity="0.5"/>
<circle cx="68.90" cy="347.60" r="0.85" fill="#858585" fill-opacity="0.5"/>
<circle cx="69.80" cy="352.80" r="0.85" fill="#858585" fill-opacity="0.5"/>
<circle cx="70.30" cy="344.00" r="0.85" fill="#858585" fill-opacity="0.5"/>
<circle cx="68.50" cy="350.50" r="0.85" fill="#858585" fill-opacity="0.5"/>
<line x1="54.55" y1="280.3" x2="54.55" y2="391.0" stroke="#1c1c1c" stroke-width="2.2"/>
<line x1="53.55" y1="390.0" x2="273.1" y2="390.0" stroke="#1c1c1c" stroke-width="2.2"/>
<line x1="76.33" y1="390.0" x2="76.33" y2="400.0" stroke="#1c1c1c" stroke-width="2.3"/>
<text transform="translate(76.33 414.60) scale(1 1.07)" text-anchor="middle" font-size="11.8" fill="#262626" stroke="#262626" stroke-width="0.2">0.0</text>
<line x1="119.89" y1="390.0" x2="119.89" y2="400.0" stroke="#1c1c1c" stroke-width="2.3"/>
<text transform="translate(119.89 414.60) scale(1 1.07)" text-anchor="middle" font-size="11.8" fill="#262626" stroke="#262626" stroke-width="0.2">0.01</text>
<line x1="163.45" y1="390.0" x2="163.45" y2="400.0" stroke="#1c1c1c" stroke-width="2.3"/>
<text transform="translate(163.45 414.60) scale(1 1.07)" text-anchor="middle" font-size="11.8" fill="#262626" stroke="#262626" stroke-width="0.2">0.1</text>
<line x1="207.01" y1="390.0" x2="207.01" y2="400.0" stroke="#1c1c1c" stroke-width="2.3"/>
<text transform="translate(207.01 414.60) scale(1 1.07)" text-anchor="middle" font-size="11.8" fill="#262626" stroke="#262626" stroke-width="0.2">0.5</text>
<line x1="250.57" y1="390.0" x2="250.57" y2="400.0" stroke="#1c1c1c" stroke-width="2.3"/>
<text transform="translate(250.57 414.60) scale(1 1.07)" text-anchor="middle" font-size="11.8" fill="#262626" stroke="#262626" stroke-width="0.2">1.0</text>
<line x1="44.55" y1="368.10" x2="54.55" y2="368.10" stroke="#1c1c1c" stroke-width="2.3"/>
<text transform="translate(38.25 372.20) scale(1 1.07)" text-anchor="end" font-size="11.8" fill="#262626" stroke="#262626" stroke-width="0.2">10.0</text>
<line x1="44.55" y1="340.90" x2="54.55" y2="340.90" stroke="#1c1c1c" stroke-width="2.3"/>
<text transform="translate(38.25 345.00) scale(1 1.07)" text-anchor="end" font-size="11.8" fill="#262626" stroke="#262626" stroke-width="0.2">12.5</text>
<line x1="44.55" y1="313.80" x2="54.55" y2="313.80" stroke="#1c1c1c" stroke-width="2.3"/>
<text transform="translate(38.25 317.90) scale(1 1.07)" text-anchor="end" font-size="11.8" fill="#262626" stroke="#262626" stroke-width="0.2">15.0</text>
<line x1="44.55" y1="286.80" x2="54.55" y2="286.80" stroke="#1c1c1c" stroke-width="2.3"/>
<text transform="translate(38.25 290.90) scale(1 1.07)" text-anchor="end" font-size="11.8" fill="#262626" stroke="#262626" stroke-width="0.2">17.5</text>
<text transform="translate(163.83 433.20) scale(1 1.07)" text-anchor="middle" font-size="11.8" fill="#262626" stroke="#262626" stroke-width="0.2">eGFP OD</text>
<text transform="translate(10.45 336.70) rotate(-90) scale(1.01 1)" text-anchor="middle" font-size="11.8" fill="#262626" stroke="#262626" stroke-width="0.2">log<tspan font-size="8.3" dx="0.9" dy="2.5">2</tspan><tspan dx="0.9" dy="-2.5">(eGFP) [AU]</tspan></text>
<text transform="translate(281.50 290.90) scale(1 1.07)" text-anchor="start" font-size="11.8" fill="#262626" stroke="#262626" stroke-width="0.2">mCherry</text>
<text transform="translate(281.50 302.80) scale(1 1.07)" text-anchor="start" font-size="11.8" fill="#262626" stroke="#262626" stroke-width="0.2">OD</text>
<rect x="281.80" y="311.90" width="23.3" height="8.05" fill="#ecf2ed" stroke="#000" stroke-width="1.9"/>
<text transform="translate(314.90 321.20) scale(1 1.07)" text-anchor="start" font-size="11.8" fill="#262626" stroke="#262626" stroke-width="0.2">0.0</text>
<rect x="281.80" y="328.60" width="23.3" height="8.05" fill="#b8d0bf" stroke="#000" stroke-width="1.9"/>
<text transform="translate(314.90 337.90) scale(1 1.07)" text-anchor="start" font-size="11.8" fill="#262626" stroke="#262626" stroke-width="0.2">0.01</text>
<rect x="281.80" y="345.30" width="23.3" height="8.05" fill="#84ae92" stroke="#000" stroke-width="1.9"/>
<text transform="translate(314.90 354.60) scale(1 1.07)" text-anchor="start" font-size="11.8" fill="#262626" stroke="#262626" stroke-width="0.2">0.1</text>
<rect x="281.80" y="362.00" width="23.3" height="8.05" fill="#518c64" stroke="#000" stroke-width="1.9"/>
<text transform="translate(314.90 371.30) scale(1 1.07)" text-anchor="start" font-size="11.8" fill="#262626" stroke="#262626" stroke-width="0.2">0.5</text>
<rect x="281.80" y="378.70" width="23.3" height="8.05" fill="#1e6a37" stroke="#000" stroke-width="1.9"/>
<text transform="translate(314.90 388.00) scale(1 1.07)" text-anchor="start" font-size="11.8" fill="#262626" stroke="#262626" stroke-width="0.2">1.0</text>
<rect x="410.73" y="376.00" width="6.90" height="14.00" fill="#d4c0ca" stroke="#000" stroke-width="2"/>
<rect x="417.63" y="377.40" width="6.90" height="12.60" fill="#b68fa3" stroke="#000" stroke-width="2"/>
<rect x="424.53" y="370.90" width="6.90" height="19.10" fill="#995f7c" stroke="#000" stroke-width="2"/>
<rect x="431.43" y="370.10" width="6.90" height="19.90" fill="#7b2f55" stroke="#000" stroke-width="2"/>
<rect x="447.39" y="330.00" width="6.90" height="60.00" fill="#f2f0f1" stroke="#000" stroke-width="2"/>
<rect x="454.29" y="338.70" width="6.90" height="51.30" fill="#d4c0ca" stroke="#000" stroke-width="2"/>
<rect x="461.19" y="344.10" width="6.90" height="45.90" fill="#b68fa3" stroke="#000" stroke-width="2"/>
<rect x="468.09" y="351.10" width="6.90" height="38.90" fill="#995f7c" stroke="#000" stroke-width="2"/>
<rect x="474.99" y="355.50" width="6.90" height="34.50" fill="#7b2f55" stroke="#000" stroke-width="2"/>
<rect x="490.95" y="311.90" width="6.90" height="78.10" fill="#f2f0f1" stroke="#000" stroke-width="2"/>
<rect x="497.85" y="311.90" width="6.90" height="78.10" fill="#d4c0ca" stroke="#000" stroke-width="2"/>
<rect x="504.75" y="311.90" width="6.90" height="78.10" fill="#b68fa3" stroke="#000" stroke-width="2"/>
<rect x="511.65" y="321.60" width="6.90" height="68.40" fill="#995f7c" stroke="#000" stroke-width="2"/>
<rect x="518.55" y="329.70" width="6.90" height="60.30" fill="#7b2f55" stroke="#000" stroke-width="2"/>
<rect x="534.51" y="297.00" width="6.90" height="93.00" fill="#f2f0f1" stroke="#000" stroke-width="2"/>
<rect x="541.41" y="297.00" width="6.90" height="93.00" fill="#d4c0ca" stroke="#000" stroke-width="2"/>
<rect x="548.31" y="302.50" width="6.90" height="87.50" fill="#b68fa3" stroke="#000" stroke-width="2"/>
<rect x="555.21" y="301.20" width="6.90" height="88.80" fill="#995f7c" stroke="#000" stroke-width="2"/>
<rect x="562.11" y="309.10" width="6.90" height="80.90" fill="#7b2f55" stroke="#000" stroke-width="2"/>
<rect x="578.07" y="291.30" width="6.90" height="98.70" fill="#f2f0f1" stroke="#000" stroke-width="2"/>
<rect x="584.97" y="291.30" width="6.90" height="98.70" fill="#d4c0ca" stroke="#000" stroke-width="2"/>
<rect x="591.87" y="293.20" width="6.90" height="96.80" fill="#b68fa3" stroke="#000" stroke-width="2"/>
<rect x="598.77" y="296.30" width="6.90" height="93.70" fill="#995f7c" stroke="#000" stroke-width="2"/>
<rect x="605.67" y="299.10" width="6.90" height="90.90" fill="#7b2f55" stroke="#000" stroke-width="2"/>
<circle cx="414.04" cy="377.06" r="0.85" fill="#858585" fill-opacity="0.5"/>
<circle cx="414.05" cy="369.90" r="0.85" fill="#858585" fill-opacity="0.5"/>
<circle cx="414.09" cy="372.93" r="0.85" fill="#858585" fill-opacity="0.5"/>
<circle cx="413.85" cy="370.93" r="0.85" fill="#858585" fill-opacity="0.5"/>
<circle cx="413.68" cy="377.66" r="0.85" fill="#858585" fill-opacity="0.5"/>
<circle cx="416.78" cy="375.99" r="0.85" fill="#858585" fill-opacity="0.5"/>
<circle cx="415.23" cy="375.39" r="0.85" fill="#858585" fill-opacity="0.5"/>
<circle cx="414.16" cy="377.87" r="0.85" fill="#858585" fill-opacity="0.5"/>
<circle cx="415.75" cy="383.30" r="0.85" fill="#858585" fill-opacity="0.5"/>
<circle cx="414.92" cy="376.07" r="0.85" fill="#858585" fill-opacity="0.5"/>
<circle cx="414.68" cy="373.75" r="0.85" fill="#858585" fill-opacity="0.5"/>
<circle cx="413.38" cy="373.17" r="0.85" fill="#858585" fill-opacity="0.5"/>
<circle cx="413.43" cy="375.12" r="0.85" fill="#858585" fill-opacity="0.5"/>
<circle cx="413.29" cy="374.71" r="0.85" fill="#858585" fill-opacity="0.5"/>
<circle cx="411.58" cy="375.12" r="0.85" fill="#858585" fill-opacity="0.5"/>
<circle cx="413.25" cy="373.88" r="0.85" fill="#858585" fill-opacity="0.5"/>
<circle cx="413.95" cy="387.00" r="0.85" fill="#858585" fill-opacity="0.5"/>
<circle cx="416.49" cy="374.38" r="0.85" fill="#858585" fill-opacity="0.5"/>
<circle cx="413.19" cy="376.64" r="0.85" fill="#858585" fill-opacity="0.5"/>
<circle cx="413.96" cy="378.18" r="0.85" fill="#858585" fill-opacity="0.5"/>
<circle cx="414.12" cy="378.67" r="0.85" fill="#858585" fill-opacity="0.5"/>
<circle cx="412.41" cy="374.79" r="0.85" fill="#858585" fill-opacity="0.5"/>
<circle cx="415.33" cy="373.63" r="0.85" fill="#858585" fill-opacity="0.5"/>
<circle cx="413.34" cy="376.33" r="0.85" fill="#858585" fill-opacity="0.5"/>
<circle cx="411.84" cy="374.19" r="0.85" fill="#858585" fill-opacity="0.5"/>
<circle cx="414.69" cy="377.36" r="0.85" fill="#858585" fill-opacity="0.5"/>
<circle cx="414.31" cy="381.26" r="0.85" fill="#858585" fill-opacity="0.5"/>
<circle cx="415.27" cy="378.55" r="0.85" fill="#858585" fill-opacity="0.5"/>
<circle cx="413.33" cy="373.01" r="0.85" fill="#858585" fill-opacity="0.5"/>
<circle cx="414.99" cy="373.56" r="0.85" fill="#858585" fill-opacity="0.5"/>
<circle cx="413.89" cy="373.12" r="0.85" fill="#858585" fill-opacity="0.5"/>
<circle cx="414.22" cy="380.91" r="0.85" fill="#858585" fill-opacity="0.5"/>
<circle cx="412.85" cy="368.83" r="0.85" fill="#858585" fill-opacity="0.5"/>
<circle cx="413.01" cy="373.42" r="0.85" fill="#858585" fill-opacity="0.5"/>
<circle cx="414.15" cy="373.87" r="0.85" fill="#858585" fill-opacity="0.5"/>
<circle cx="414.88" cy="372.38" r="0.85" fill="#858585" fill-opacity="0.5"/>
<circle cx="413.41" cy="370.56" r="0.85" fill="#858585" fill-opacity="0.5"/>
<circle cx="412.41" cy="371.95" r="0.85" fill="#858585" fill-opacity="0.5"/>
<circle cx="415.18" cy="383.16" r="0.85" fill="#858585" fill-opacity="0.5"/>
<circle cx="413.95" cy="374.11" r="0.85" fill="#858585" fill-opacity="0.5"/>
<circle cx="411.72" cy="372.89" r="0.85" fill="#858585" fill-opacity="0.5"/>
<circle cx="415.24" cy="375.11" r="0.85" fill="#858585" fill-opacity="0.5"/>
<circle cx="413.77" cy="370.45" r="0.85" fill="#858585" fill-opacity="0.5"/>
<circle cx="414.36" cy="375.56" r="0.85" fill="#858585" fill-opacity="0.5"/>
<circle cx="413.93" cy="378.86" r="0.85" fill="#858585" fill-opacity="0.5"/>
<circle cx="415.24" cy="380.44" r="0.85" fill="#858585" fill-opacity="0.5"/>
<circle cx="411.58" cy="369.16" r="0.85" fill="#858585" fill-opacity="0.5"/>
<circle cx="414.10" cy="387.00" r="0.85" fill="#858585" fill-opacity="0.5"/>
<circle cx="415.51" cy="373.93" r="0.85" fill="#858585" fill-opacity="0.5"/>
<circle cx="413.96" cy="375.06" r="0.85" fill="#858585" fill-opacity="0.5"/>
<circle cx="413.86" cy="374.34" r="0.85" fill="#858585" fill-opacity="0.5"/>
<circle cx="414.09" cy="374.83" r="0.85" fill="#858585" fill-opacity="0.5"/>
<circle cx="413.41" cy="377.73" r="0.85" fill="#858585" fill-opacity="0.5"/>
<circle cx="413.61" cy="377.72" r="0.85" fill="#858585" fill-opacity="0.5"/>
<circle cx="414.77" cy="371.85" r="0.85" fill="#858585" fill-opacity="0.5"/>
<circle cx="414.33" cy="373.00" r="0.85" fill="#858585" fill-opacity="0.5"/>
<circle cx="413.44" cy="373.68" r="0.85" fill="#858585" fill-opacity="0.5"/>
<circle cx="416.78" cy="376.37" r="0.85" fill="#858585" fill-opacity="0.5"/>
<circle cx="412.91" cy="372.86" r="0.85" fill="#858585" fill-opacity="0.5"/>
<circle cx="414.56" cy="373.47" r="0.85" fill="#858585" fill-opacity="0.5"/>
<circle cx="414.90" cy="387.00" r="0.85" fill="#858585" fill-opacity="0.5"/>
<circle cx="412.63" cy="373.61" r="0.85" fill="#858585" fill-opacity="0.5"/>
<circle cx="413.34" cy="372.81" r="0.85" fill="#858585" fill-opacity="0.5"/>
<circle cx="414.32" cy="373.90" r="0.85" fill="#858585" fill-opacity="0.5"/>
<circle cx="415.52" cy="376.47" r="0.85" fill="#858585" fill-opacity="0.5"/>
<circle cx="413.59" cy="375.31" r="0.85" fill="#858585" fill-opacity="0.5"/>
<circle cx="415.04" cy="374.50" r="0.85" fill="#858585" fill-opacity="0.5"/>
<circle cx="414.45" cy="373.13" r="0.85" fill="#858585" fill-opacity="0.5"/>
<circle cx="412.73" cy="376.53" r="0.85" fill="#858585" fill-opacity="0.5"/>
<circle cx="414.16" cy="375.73" r="0.85" fill="#858585" fill-opacity="0.5"/>
<circle cx="419.84" cy="378.42" r="0.85" fill="#858585" fill-opacity="0.5"/>
<circle cx="419.01" cy="375.45" r="0.85" fill="#858585" fill-opacity="0.5"/>
<circle cx="420.68" cy="387.00" r="0.85" fill="#858585" fill-opacity="0.5"/>
<circle cx="419.10" cy="374.55" r="0.85" fill="#858585" fill-opacity="0.5"/>
<circle cx="420.19" cy="376.98" r="0.85" fill="#858585" fill-opacity="0.5"/>
<circle cx="422.14" cy="370.60" r="0.85" fill="#858585" fill-opacity="0.5"/>
<circle cx="420.92" cy="381.54" r="0.85" fill="#858585" fill-opacity="0.5"/>
<circle cx="421.33" cy="377.21" r="0.85" fill="#858585" fill-opacity="0.5"/>
<circle cx="422.37" cy="377.25" r="0.85" fill="#858585" fill-opacity="0.5"/>
<circle cx="419.32" cy="387.00" r="0.85" fill="#858585" fill-opacity="0.5"/>
<circle cx="420.30" cy="377.01" r="0.85" fill="#858585" fill-opacity="0.5"/>
<circle cx="419.51" cy="372.65" r="0.85" fill="#858585" fill-opacity="0.5"/>
<circle cx="419.37" cy="375.58" r="0.85" fill="#858585" fill-opacity="0.5"/>
<circle cx="420.83" cy="374.16" r="0.85" fill="#858585" fill-opacity="0.5"/>
<circle cx="421.89" cy="382.33" r="0.85" fill="#858585" fill-opacity="0.5"/>
<circle cx="420.50" cy="379.55" r="0.85" fill="#858585" fill-opacity="0.5"/>
<circle cx="421.32" cy="379.24" r="0.85" fill="#858585" fill-opacity="0.5"/>
<circle cx="419.83" cy="375.39" r="0.85" fill="#858585" fill-opacity="0.5"/>
<circle cx="420.74" cy="371.59" r="0.85" fill="#858585" fill-opacity="0.5"/>
<circle cx="419.85" cy="380.69" r="0.85" fill="#858585" fill-opacity="0.5"/>
<circle cx="419.15" cy="370.67" r="0.85" fill="#858585" fill-opacity="0.5"/>
<circle cx="421.60" cy="373.10" r="0.85" fill="#858585" fill-opacity="0.5"/>
<circle cx="420.10" cy="374.84" r="0.85" fill="#858585" fill-opacity="0.5"/>
<circle cx="421.69" cy="378.56" r="0.85" fill="#858585" fill-opacity="0.5"/>
<circle cx="419.33" cy="374.07" r="0.85" fill="#858585" fill-opacity="0.5"/>
<circle cx="420.58" cy="374.31" r="0.85" fill="#858585" fill-opacity="0.5"/>
<circle cx="422.01" cy="373.67" r="0.85" fill="#858585" fill-opacity="0.5"/>
<circle cx="421.53" cy="375.41" r="0.85" fill="#858585" fill-opacity="0.5"/>
<circle cx="420.25" cy="378.70" r="0.85" fill="#858585" fill-opacity="0.5"/>
<circle cx="419.34" cy="380.07" r="0.85" fill="#858585" fill-opacity="0.5"/>
<circle cx="420.47" cy="376.46" r="0.85" fill="#858585" fill-opacity="0.5"/>
<circle cx="419.99" cy="369.62" r="0.85" fill="#858585" fill-opacity="0.5"/>
<circle cx="421.23" cy="376.00" r="0.85" fill="#858585" fill-opacity="0.5"/>
<circle cx="420.01" cy="371.86" r="0.85" fill="#858585" fill-opacity="0.5"/>
<circle cx="420.76" cy="387.00" r="0.85" fill="#858585" fill-opacity="0.5"/>
<circle cx="420.58" cy="374.33" r="0.85" fill="#858585" fill-opacity="0.5"/>
<circle cx="420.29" cy="382.87" r="0.85" fill="#858585" fill-opacity="0.5"/>
<circle cx="420.29" cy="377.97" r="0.85" fill="#858585" fill-opacity="0.5"/>
<circle cx="420.94" cy="381.52" r="0.85" fill="#858585" fill-opacity="0.5"/>
<circle cx="419.73" cy="375.14" r="0.85" fill="#858585" fill-opacity="0.5"/>
<circle cx="419.60" cy="380.76" r="0.85" fill="#858585" fill-opacity="0.5"/>
<circle cx="419.83" cy="380.54" r="0.85" fill="#858585" fill-opacity="0.5"/>
<circle cx="418.95" cy="373.03" r="0.85" fill="#858585" fill-opacity="0.5"/>
<circle cx="421.33" cy="375.53" r="0.85" fill="#858585" fill-opacity="0.5"/>
<circle cx="420.71" cy="377.39" r="0.85" fill="#858585" fill-opacity="0.5"/>
<circle cx="421.98" cy="377.26" r="0.85" fill="#858585" fill-opacity="0.5"/>
<circle cx="420.22" cy="377.55" r="0.85" fill="#858585" fill-opacity="0.5"/>
<circle cx="420.39" cy="376.13" r="0.85" fill="#858585" fill-opacity="0.5"/>
<circle cx="420.96" cy="376.66" r="0.85" fill="#858585" fill-opacity="0.5"/>
<circle cx="421.82" cy="373.45" r="0.85" fill="#858585" fill-opacity="0.5"/>
<circle cx="420.19" cy="379.01" r="0.85" fill="#858585" fill-opacity="0.5"/>
<circle cx="419.77" cy="377.07" r="0.85" fill="#858585" fill-opacity="0.5"/>
<circle cx="421.59" cy="375.23" r="0.85" fill="#858585" fill-opacity="0.5"/>
<circle cx="422.41" cy="375.40" r="0.85" fill="#858585" fill-opacity="0.5"/>
<circle cx="420.15" cy="387.00" r="0.85" fill="#858585" fill-opacity="0.5"/>
<circle cx="421.36" cy="369.35" r="0.85" fill="#858585" fill-opacity="0.5"/>
<circle cx="422.65" cy="377.41" r="0.85" fill="#858585" fill-opacity="0.5"/>
<circle cx="420.25" cy="379.70" r="0.85" fill="#858585" fill-opacity="0.5"/>
<circle cx="421.53" cy="375.45" r="0.85" fill="#858585" fill-opacity="0.5"/>
<circle cx="420.43" cy="376.44" r="0.85" fill="#858585" fill-opacity="0.5"/>
<circle cx="420.66" cy="374.38" r="0.85" fill="#858585" fill-opacity="0.5"/>
<circle cx="420.38" cy="371.29" r="0.85" fill="#858585" fill-opacity="0.5"/>
<circle cx="420.38" cy="387.00" r="0.85" fill="#858585" fill-opacity="0.5"/>
<circle cx="420.40" cy="372.24" r="0.85" fill="#858585" fill-opacity="0.5"/>
<circle cx="420.87" cy="373.48" r="0.85" fill="#858585" fill-opacity="0.5"/>
<circle cx="422.19" cy="377.20" r="0.85" fill="#858585" fill-opacity="0.5"/>
<circle cx="422.53" cy="377.91" r="0.85" fill="#858585" fill-opacity="0.5"/>
<circle cx="422.36" cy="379.44" r="0.85" fill="#858585" fill-opacity="0.5"/>
<circle cx="418.48" cy="374.51" r="0.85" fill="#858585" fill-opacity="0.5"/>
<circle cx="420.09" cy="372.47" r="0.85" fill="#858585" fill-opacity="0.5"/>
<circle cx="429.69" cy="369.82" r="0.85" fill="#858585" fill-opacity="0.5"/>
<circle cx="429.23" cy="382.82" r="0.85" fill="#858585" fill-opacity="0.5"/>
<circle cx="428.72" cy="365.25" r="0.85" fill="#858585" fill-opacity="0.5"/>
<circle cx="427.96" cy="367.34" r="0.85" fill="#858585" fill-opacity="0.5"/>
<circle cx="429.58" cy="367.16" r="0.85" fill="#858585" fill-opacity="0.5"/>
<circle cx="427.99" cy="371.27" r="0.85" fill="#858585" fill-opacity="0.5"/>
<circle cx="428.89" cy="375.91" r="0.85" fill="#858585" fill-opacity="0.5"/>
<circle cx="428.30" cy="367.65" r="0.85" fill="#858585" fill-opacity="0.5"/>
<circle cx="428.31" cy="369.44" r="0.85" fill="#858585" fill-opacity="0.5"/>
<circle cx="429.61" cy="374.39" r="0.85" fill="#858585" fill-opacity="0.5"/>
<circle cx="426.36" cy="368.11" r="0.85" fill="#858585" fill-opacity="0.5"/>
<circle cx="427.36" cy="365.59" r="0.85" fill="#858585" fill-opacity="0.5"/>
<circle cx="426.98" cy="370.20" r="0.85" fill="#858585" fill-opacity="0.5"/>
<circle cx="426.98" cy="374.27" r="0.85" fill="#858585" fill-opacity="0.5"/>
<circle cx="430.58" cy="370.73" r="0.85" fill="#858585" fill-opacity="0.5"/>
<circle cx="428.52" cy="387.00" r="0.85" fill="#858585" fill-opacity="0.5"/>
<circle cx="427.62" cy="369.48" r="0.85" fill="#858585" fill-opacity="0.5"/>
<circle cx="429.98" cy="369.79" r="0.85" fill="#858585" fill-opacity="0.5"/>
<circle cx="427.84" cy="370.06" r="0.85" fill="#858585" fill-opacity="0.5"/>
<circle cx="428.90" cy="365.41" r="0.85" fill="#858585" fill-opacity="0.5"/>
<circle cx="428.40" cy="371.82" r="0.85" fill="#858585" fill-opacity="0.5"/>
<circle cx="429.40" cy="376.92" r="0.85" fill="#858585" fill-opacity="0.5"/>
<circle cx="429.69" cy="369.71" r="0.85" fill="#858585" fill-opacity="0.5"/>
<circle cx="426.65" cy="373.52" r="0.85" fill="#858585" fill-opacity="0.5"/>
<circle cx="427.73" cy="374.84" r="0.85" fill="#858585" fill-opacity="0.5"/>
<circle cx="428.28" cy="369.49" r="0.85" fill="#858585" fill-opacity="0.5"/>
<circle cx="429.64" cy="369.56" r="0.85" fill="#858585" fill-opacity="0.5"/>
<circle cx="428.25" cy="365.27" r="0.85" fill="#858585" fill-opacity="0.5"/>
<circle cx="427.53" cy="374.79" r="0.85" fill="#858585" fill-opacity="0.5"/>
<circle cx="430.45" cy="362.06" r="0.85" fill="#858585" fill-opacity="0.5"/>
<circle cx="428.80" cy="379.53" r="0.85" fill="#858585" fill-opacity="0.5"/>
<circle cx="429.03" cy="368.34" r="0.85" fill="#858585" fill-opacity="0.5"/>
<circle cx="428.11" cy="369.39" r="0.85" fill="#858585" fill-opacity="0.5"/>
<circle cx="427.89" cy="367.82" r="0.85" fill="#858585" fill-opacity="0.5"/>
<circle cx="429.94" cy="366.26" r="0.85" fill="#858585" fill-opacity="0.5"/>
<circle cx="428.61" cy="368.01" r="0.85" fill="#858585" fill-opacity="0.5"/>
<circle cx="428.09" cy="371.91" r="0.85" fill="#858585" fill-opacity="0.5"/>
<circle cx="425.38" cy="387.00" r="0.85" fill="#858585" fill-opacity="0.5"/>
<circle cx="429.20" cy="370.41" r="0.85" fill="#858585" fill-opacity="0.5"/>
<circle cx="427.02" cy="371.73" r="0.85" fill="#858585" fill-opacity="0.5"/>
<circle cx="429.58" cy="369.82" r="0.85" fill="#858585" fill-opacity="0.5"/>
<circle cx="427.96" cy="363.64" r="0.85" fill="#858585" fill-opacity="0.5"/>
<circle cx="428.50" cy="375.83" r="0.85" fill="#858585" fill-opacity="0.5"/>
<circle cx="425.38" cy="366.58" r="0.85" fill="#858585" fill-opacity="0.5"/>
<circle cx="428.15" cy="372.02" r="0.85" fill="#858585" fill-opacity="0.5"/>
<circle cx="428.09" cy="373.16" r="0.85" fill="#858585" fill-opacity="0.5"/>
<circle cx="426.59" cy="366.31" r="0.85" fill="#858585" fill-opacity="0.5"/>
<circle cx="426.07" cy="368.07" r="0.85" fill="#858585" fill-opacity="0.5"/>
<circle cx="426.82" cy="369.14" r="0.85" fill="#858585" fill-opacity="0.5"/>
<circle cx="428.42" cy="370.38" r="0.85" fill="#858585" fill-opacity="0.5"/>
<circle cx="429.21" cy="366.82" r="0.85" fill="#858585" fill-opacity="0.5"/>
<circle cx="430.58" cy="366.00" r="0.85" fill="#858585" fill-opacity="0.5"/>
<circle cx="429.41" cy="372.88" r="0.85" fill="#858585" fill-opacity="0.5"/>
<circle cx="428.45" cy="370.37" r="0.85" fill="#858585" fill-opacity="0.5"/>
<circle cx="426.95" cy="366.06" r="0.85" fill="#858585" fill-opacity="0.5"/>
<circle cx="427.86" cy="373.77" r="0.85" fill="#858585" fill-opacity="0.5"/>
<circle cx="428.78" cy="374.06" r="0.85" fill="#858585" fill-opacity="0.5"/>
<circle cx="427.12" cy="371.47" r="0.85" fill="#858585" fill-opacity="0.5"/>
<circle cx="428.42" cy="366.81" r="0.85" fill="#858585" fill-opacity="0.5"/>
<circle cx="427.21" cy="362.70" r="0.85" fill="#858585" fill-opacity="0.5"/>
<circle cx="429.99" cy="366.89" r="0.85" fill="#858585" fill-opacity="0.5"/>
<circle cx="426.66" cy="381.02" r="0.85" fill="#858585" fill-opacity="0.5"/>
<circle cx="430.50" cy="369.81" r="0.85" fill="#858585" fill-opacity="0.5"/>
<circle cx="427.22" cy="372.12" r="0.85" fill="#858585" fill-opacity="0.5"/>
<circle cx="426.76" cy="387.00" r="0.85" fill="#858585" fill-opacity="0.5"/>
<circle cx="427.08" cy="367.99" r="0.85" fill="#858585" fill-opacity="0.5"/>
<circle cx="428.34" cy="366.12" r="0.85" fill="#858585" fill-opacity="0.5"/>
<circle cx="425.46" cy="370.69" r="0.85" fill="#858585" fill-opacity="0.5"/>
<circle cx="427.85" cy="373.90" r="0.85" fill="#858585" fill-opacity="0.5"/>
<circle cx="427.27" cy="368.60" r="0.85" fill="#858585" fill-opacity="0.5"/>
<circle cx="435.56" cy="367.63" r="0.85" fill="#858585" fill-opacity="0.5"/>
<circle cx="433.36" cy="371.05" r="0.85" fill="#858585" fill-opacity="0.5"/>
<circle cx="435.30" cy="385.77" r="0.85" fill="#858585" fill-opacity="0.5"/>
<circle cx="433.56" cy="366.94" r="0.85" fill="#858585" fill-opacity="0.5"/>
<circle cx="435.69" cy="369.12" r="0.85" fill="#858585" fill-opacity="0.5"/>
<circle cx="436.00" cy="369.11" r="0.85" fill="#858585" fill-opacity="0.5"/>
<circle cx="433.83" cy="370.60" r="0.85" fill="#858585" fill-opacity="0.5"/>
<circle cx="432.35" cy="368.08" r="0.85" fill="#858585" fill-opacity="0.5"/>
<circle cx="434.30" cy="371.44" r="0.85" fill="#858585" fill-opacity="0.5"/>
<circle cx="435.98" cy="385.59" r="0.85" fill="#858585" fill-opacity="0.5"/>
<circle cx="436.41" cy="369.10" r="0.85" fill="#858585" fill-opacity="0.5"/>
<circle cx="434.72" cy="367.66" r="0.85" fill="#858585" fill-opacity="0.5"/>
<circle cx="435.38" cy="372.75" r="0.85" fill="#858585" fill-opacity="0.5"/>
<circle cx="435.39" cy="368.08" r="0.85" fill="#858585" fill-opacity="0.5"/>
<circle cx="435.26" cy="373.72" r="0.85" fill="#858585" fill-opacity="0.5"/>
<circle cx="434.65" cy="368.75" r="0.85" fill="#858585" fill-opacity="0.5"/>
<circle cx="434.68" cy="368.57" r="0.85" fill="#858585" fill-opacity="0.5"/>
<circle cx="434.69" cy="368.35" r="0.85" fill="#858585" fill-opacity="0.5"/>
<circle cx="435.78" cy="371.38" r="0.85" fill="#858585" fill-opacity="0.5"/>
<circle cx="435.50" cy="373.61" r="0.85" fill="#858585" fill-opacity="0.5"/>
<circle cx="432.53" cy="363.86" r="0.85" fill="#858585" fill-opacity="0.5"/>
<circle cx="434.52" cy="363.16" r="0.85" fill="#858585" fill-opacity="0.5"/>
<circle cx="435.14" cy="373.36" r="0.85" fill="#858585" fill-opacity="0.5"/>
<circle cx="437.42" cy="370.12" r="0.85" fill="#858585" fill-opacity="0.5"/>
<circle cx="434.85" cy="367.29" r="0.85" fill="#858585" fill-opacity="0.5"/>
<circle cx="433.93" cy="368.63" r="0.85" fill="#858585" fill-opacity="0.5"/>
<circle cx="435.93" cy="368.75" r="0.85" fill="#858585" fill-opacity="0.5"/>
<circle cx="435.51" cy="367.17" r="0.85" fill="#858585" fill-opacity="0.5"/>
<circle cx="436.36" cy="367.16" r="0.85" fill="#858585" fill-opacity="0.5"/>
<circle cx="434.78" cy="370.76" r="0.85" fill="#858585" fill-opacity="0.5"/>
<circle cx="435.68" cy="370.01" r="0.85" fill="#858585" fill-opacity="0.5"/>
<circle cx="437.48" cy="363.26" r="0.85" fill="#858585" fill-opacity="0.5"/>
<circle cx="435.54" cy="366.95" r="0.85" fill="#858585" fill-opacity="0.5"/>
<circle cx="435.98" cy="368.16" r="0.85" fill="#858585" fill-opacity="0.5"/>
<circle cx="435.67" cy="370.32" r="0.85" fill="#858585" fill-opacity="0.5"/>
<circle cx="436.44" cy="368.58" r="0.85" fill="#858585" fill-opacity="0.5"/>
<circle cx="433.17" cy="369.25" r="0.85" fill="#858585" fill-opacity="0.5"/>
<circle cx="436.12" cy="370.59" r="0.85" fill="#858585" fill-opacity="0.5"/>
<circle cx="432.32" cy="366.64" r="0.85" fill="#858585" fill-opacity="0.5"/>
<circle cx="434.84" cy="369.30" r="0.85" fill="#858585" fill-opacity="0.5"/>
<circle cx="433.48" cy="370.51" r="0.85" fill="#858585" fill-opacity="0.5"/>
<circle cx="435.28" cy="370.40" r="0.85" fill="#858585" fill-opacity="0.5"/>
<circle cx="434.19" cy="368.30" r="0.85" fill="#858585" fill-opacity="0.5"/>
<circle cx="435.40" cy="367.87" r="0.85" fill="#858585" fill-opacity="0.5"/>
<circle cx="433.83" cy="365.42" r="0.85" fill="#858585" fill-opacity="0.5"/>
<circle cx="434.63" cy="366.88" r="0.85" fill="#858585" fill-opacity="0.5"/>
<circle cx="432.54" cy="363.71" r="0.85" fill="#858585" fill-opacity="0.5"/>
<circle cx="433.84" cy="367.85" r="0.85" fill="#858585" fill-opacity="0.5"/>
<circle cx="434.78" cy="363.75" r="0.85" fill="#858585" fill-opacity="0.5"/>
<circle cx="433.48" cy="369.15" r="0.85" fill="#858585" fill-opacity="0.5"/>
<circle cx="436.90" cy="366.55" r="0.85" fill="#858585" fill-opacity="0.5"/>
<circle cx="434.10" cy="381.44" r="0.85" fill="#858585" fill-opacity="0.5"/>
<circle cx="436.12" cy="364.84" r="0.85" fill="#858585" fill-opacity="0.5"/>
<circle cx="433.12" cy="368.70" r="0.85" fill="#858585" fill-opacity="0.5"/>
<circle cx="434.88" cy="362.89" r="0.85" fill="#858585" fill-opacity="0.5"/>
<circle cx="433.68" cy="365.50" r="0.85" fill="#858585" fill-opacity="0.5"/>
<circle cx="436.34" cy="374.68" r="0.85" fill="#858585" fill-opacity="0.5"/>
<circle cx="435.00" cy="372.20" r="0.85" fill="#858585" fill-opacity="0.5"/>
<circle cx="434.90" cy="371.40" r="0.85" fill="#858585" fill-opacity="0.5"/>
<circle cx="435.45" cy="357.55" r="0.85" fill="#858585" fill-opacity="0.5"/>
<circle cx="434.44" cy="371.00" r="0.85" fill="#858585" fill-opacity="0.5"/>
<circle cx="433.76" cy="368.14" r="0.85" fill="#858585" fill-opacity="0.5"/>
<circle cx="433.34" cy="371.32" r="0.85" fill="#858585" fill-opacity="0.5"/>
<circle cx="433.66" cy="370.38" r="0.85" fill="#858585" fill-opacity="0.5"/>
<circle cx="435.43" cy="372.37" r="0.85" fill="#858585" fill-opacity="0.5"/>
<circle cx="434.44" cy="371.54" r="0.85" fill="#858585" fill-opacity="0.5"/>
<circle cx="433.03" cy="372.30" r="0.85" fill="#858585" fill-opacity="0.5"/>
<circle cx="435.55" cy="364.98" r="0.85" fill="#858585" fill-opacity="0.5"/>
<circle cx="434.50" cy="372.94" r="0.85" fill="#858585" fill-opacity="0.5"/>
<circle cx="433.00" cy="365.71" r="0.85" fill="#858585" fill-opacity="0.5"/>
<circle cx="452.38" cy="335.97" r="0.85" fill="#858585" fill-opacity="0.5"/>
<circle cx="450.10" cy="327.42" r="0.85" fill="#858585" fill-opacity="0.5"/>
<circle cx="451.63" cy="324.79" r="0.85" fill="#858585" fill-opacity="0.5"/>
<circle cx="452.55" cy="331.28" r="0.85" fill="#858585" fill-opacity="0.5"/>
<circle cx="450.91" cy="331.30" r="0.85" fill="#858585" fill-opacity="0.5"/>
<circle cx="449.94" cy="329.41" r="0.85" fill="#858585" fill-opacity="0.5"/>
<circle cx="452.49" cy="331.97" r="0.85" fill="#858585" fill-opacity="0.5"/>
<circle cx="451.91" cy="337.48" r="0.85" fill="#858585" fill-opacity="0.5"/>
<circle cx="450.51" cy="324.75" r="0.85" fill="#858585" fill-opacity="0.5"/>
<circle cx="452.50" cy="325.82" r="0.85" fill="#858585" fill-opacity="0.5"/>
<circle cx="451.00" cy="330.16" r="0.85" fill="#858585" fill-opacity="0.5"/>
<circle cx="449.52" cy="327.46" r="0.85" fill="#858585" fill-opacity="0.5"/>
<circle cx="451.60" cy="328.90" r="0.85" fill="#858585" fill-opacity="0.5"/>
<circle cx="453.03" cy="324.95" r="0.85" fill="#858585" fill-opacity="0.5"/>
<circle cx="449.69" cy="351.49" r="0.85" fill="#858585" fill-opacity="0.5"/>
<circle cx="449.71" cy="332.11" r="0.85" fill="#858585" fill-opacity="0.5"/>
<circle cx="450.19" cy="328.97" r="0.85" fill="#858585" fill-opacity="0.5"/>
<circle cx="450.51" cy="329.35" r="0.85" fill="#858585" fill-opacity="0.5"/>
<circle cx="450.48" cy="334.99" r="0.85" fill="#858585" fill-opacity="0.5"/>
<circle cx="450.54" cy="329.84" r="0.85" fill="#858585" fill-opacity="0.5"/>
<circle cx="450.71" cy="329.29" r="0.85" fill="#858585" fill-opacity="0.5"/>
<circle cx="450.53" cy="330.90" r="0.85" fill="#858585" fill-opacity="0.5"/>
<circle cx="452.12" cy="339.82" r="0.85" fill="#858585" fill-opacity="0.5"/>
<circle cx="451.05" cy="327.96" r="0.85" fill="#858585" fill-opacity="0.5"/>
<circle cx="453.44" cy="327.38" r="0.85" fill="#858585" fill-opacity="0.5"/>
<circle cx="451.34" cy="330.88" r="0.85" fill="#858585" fill-opacity="0.5"/>
<circle cx="451.65" cy="327.69" r="0.85" fill="#858585" fill-opacity="0.5"/>
<circle cx="452.04" cy="320.04" r="0.85" fill="#858585" fill-opacity="0.5"/>
<circle cx="450.62" cy="329.90" r="0.85" fill="#858585" fill-opacity="0.5"/>
<circle cx="449.84" cy="326.92" r="0.85" fill="#858585" fill-opacity="0.5"/>
<circle cx="451.72" cy="330.32" r="0.85" fill="#858585" fill-opacity="0.5"/>
<circle cx="449.98" cy="343.69" r="0.85" fill="#858585" fill-opacity="0.5"/>
<circle cx="452.83" cy="333.89" r="0.85" fill="#858585" fill-opacity="0.5"/>
<circle cx="450.06" cy="325.98" r="0.85" fill="#858585" fill-opacity="0.5"/>
<circle cx="450.23" cy="337.56" r="0.85" fill="#858585" fill-opacity="0.5"/>
<circle cx="451.82" cy="347.23" r="0.85" fill="#858585" fill-opacity="0.5"/>
<circle cx="451.34" cy="323.92" r="0.85" fill="#858585" fill-opacity="0.5"/>
<circle cx="452.07" cy="331.21" r="0.85" fill="#858585" fill-opacity="0.5"/>
<circle cx="452.36" cy="327.17" r="0.85" fill="#858585" fill-opacity="0.5"/>
<circle cx="449.85" cy="326.59" r="0.85" fill="#858585" fill-opacity="0.5"/>
<circle cx="449.17" cy="322.67" r="0.85" fill="#858585" fill-opacity="0.5"/>
<circle cx="449.17" cy="330.07" r="0.85" fill="#858585" fill-opacity="0.5"/>
<circle cx="450.04" cy="334.36" r="0.85" fill="#858585" fill-opacity="0.5"/>
<circle cx="450.72" cy="337.66" r="0.85" fill="#858585" fill-opacity="0.5"/>
<circle cx="451.28" cy="328.28" r="0.85" fill="#858585" fill-opacity="0.5"/>
<circle cx="449.83" cy="327.26" r="0.85" fill="#858585" fill-opacity="0.5"/>
<circle cx="451.08" cy="326.22" r="0.85" fill="#858585" fill-opacity="0.5"/>
<circle cx="452.52" cy="325.61" r="0.85" fill="#858585" fill-opacity="0.5"/>
<circle cx="449.70" cy="330.37" r="0.85" fill="#858585" fill-opacity="0.5"/>
<circle cx="450.71" cy="331.95" r="0.85" fill="#858585" fill-opacity="0.5"/>
<circle cx="452.62" cy="344.98" r="0.85" fill="#858585" fill-opacity="0.5"/>
<circle cx="450.85" cy="329.51" r="0.85" fill="#858585" fill-opacity="0.5"/>
<circle cx="451.12" cy="328.82" r="0.85" fill="#858585" fill-opacity="0.5"/>
<circle cx="449.51" cy="333.02" r="0.85" fill="#858585" fill-opacity="0.5"/>
<circle cx="450.08" cy="332.60" r="0.85" fill="#858585" fill-opacity="0.5"/>
<circle cx="448.76" cy="328.54" r="0.85" fill="#858585" fill-opacity="0.5"/>
<circle cx="450.79" cy="330.64" r="0.85" fill="#858585" fill-opacity="0.5"/>
<circle cx="453.44" cy="327.99" r="0.85" fill="#858585" fill-opacity="0.5"/>
<circle cx="452.81" cy="331.27" r="0.85" fill="#858585" fill-opacity="0.5"/>
<circle cx="451.33" cy="331.40" r="0.85" fill="#858585" fill-opacity="0.5"/>
<circle cx="450.38" cy="326.39" r="0.85" fill="#858585" fill-opacity="0.5"/>
<circle cx="451.27" cy="326.88" r="0.85" fill="#858585" fill-opacity="0.5"/>
<circle cx="450.99" cy="327.84" r="0.85" fill="#858585" fill-opacity="0.5"/>
<circle cx="450.67" cy="329.44" r="0.85" fill="#858585" fill-opacity="0.5"/>
<circle cx="451.58" cy="325.19" r="0.85" fill="#858585" fill-opacity="0.5"/>
<circle cx="450.56" cy="330.85" r="0.85" fill="#858585" fill-opacity="0.5"/>
<circle cx="450.46" cy="326.51" r="0.85" fill="#858585" fill-opacity="0.5"/>
<circle cx="449.50" cy="329.11" r="0.85" fill="#858585" fill-opacity="0.5"/>
<circle cx="451.23" cy="329.29" r="0.85" fill="#858585" fill-opacity="0.5"/>
<circle cx="449.80" cy="332.08" r="0.85" fill="#858585" fill-opacity="0.5"/>
<circle cx="458.75" cy="334.79" r="0.85" fill="#858585" fill-opacity="0.5"/>
<circle cx="456.95" cy="338.08" r="0.85" fill="#858585" fill-opacity="0.5"/>
<circle cx="457.37" cy="338.53" r="0.85" fill="#858585" fill-opacity="0.5"/>
<circle cx="457.80" cy="344.24" r="0.85" fill="#858585" fill-opacity="0.5"/>
<circle cx="457.79" cy="335.47" r="0.85" fill="#858585" fill-opacity="0.5"/>
<circle cx="456.37" cy="340.79" r="0.85" fill="#858585" fill-opacity="0.5"/>
<circle cx="458.31" cy="341.93" r="0.85" fill="#858585" fill-opacity="0.5"/>
<circle cx="458.93" cy="339.03" r="0.85" fill="#858585" fill-opacity="0.5"/>
<circle cx="457.45" cy="345.02" r="0.85" fill="#858585" fill-opacity="0.5"/>
<circle cx="458.85" cy="335.93" r="0.85" fill="#858585" fill-opacity="0.5"/>
<circle cx="458.95" cy="337.67" r="0.85" fill="#858585" fill-opacity="0.5"/>
<circle cx="459.06" cy="334.45" r="0.85" fill="#858585" fill-opacity="0.5"/>
<circle cx="456.14" cy="338.65" r="0.85" fill="#858585" fill-opacity="0.5"/>
<circle cx="458.89" cy="340.88" r="0.85" fill="#858585" fill-opacity="0.5"/>
<circle cx="457.08" cy="338.33" r="0.85" fill="#858585" fill-opacity="0.5"/>
<circle cx="455.14" cy="340.63" r="0.85" fill="#858585" fill-opacity="0.5"/>
<circle cx="457.83" cy="341.87" r="0.85" fill="#858585" fill-opacity="0.5"/>
<circle cx="458.10" cy="336.42" r="0.85" fill="#858585" fill-opacity="0.5"/>
<circle cx="458.72" cy="338.22" r="0.85" fill="#858585" fill-opacity="0.5"/>
<circle cx="457.99" cy="338.87" r="0.85" fill="#858585" fill-opacity="0.5"/>
<circle cx="458.19" cy="341.77" r="0.85" fill="#858585" fill-opacity="0.5"/>
<circle cx="458.14" cy="339.24" r="0.85" fill="#858585" fill-opacity="0.5"/>
<circle cx="458.45" cy="338.46" r="0.85" fill="#858585" fill-opacity="0.5"/>
<circle cx="455.42" cy="339.38" r="0.85" fill="#858585" fill-opacity="0.5"/>
<circle cx="459.54" cy="338.68" r="0.85" fill="#858585" fill-opacity="0.5"/>
<circle cx="456.97" cy="355.42" r="0.85" fill="#858585" fill-opacity="0.5"/>
<circle cx="457.61" cy="336.63" r="0.85" fill="#858585" fill-opacity="0.5"/>
<circle cx="458.21" cy="339.91" r="0.85" fill="#858585" fill-opacity="0.5"/>
<circle cx="457.06" cy="338.50" r="0.85" fill="#858585" fill-opacity="0.5"/>
<circle cx="457.02" cy="336.26" r="0.85" fill="#858585" fill-opacity="0.5"/>
<circle cx="457.31" cy="345.92" r="0.85" fill="#858585" fill-opacity="0.5"/>
<circle cx="456.98" cy="339.65" r="0.85" fill="#858585" fill-opacity="0.5"/>
<circle cx="457.46" cy="337.53" r="0.85" fill="#858585" fill-opacity="0.5"/>
<circle cx="458.29" cy="340.62" r="0.85" fill="#858585" fill-opacity="0.5"/>
<circle cx="456.80" cy="335.61" r="0.85" fill="#858585" fill-opacity="0.5"/>
<circle cx="458.50" cy="337.46" r="0.85" fill="#858585" fill-opacity="0.5"/>
<circle cx="457.97" cy="347.57" r="0.85" fill="#858585" fill-opacity="0.5"/>
<circle cx="455.50" cy="336.69" r="0.85" fill="#858585" fill-opacity="0.5"/>
<circle cx="455.85" cy="338.24" r="0.85" fill="#858585" fill-opacity="0.5"/>
<circle cx="456.77" cy="341.37" r="0.85" fill="#858585" fill-opacity="0.5"/>
<circle cx="457.12" cy="336.76" r="0.85" fill="#858585" fill-opacity="0.5"/>
<circle cx="458.36" cy="340.37" r="0.85" fill="#858585" fill-opacity="0.5"/>
<circle cx="457.33" cy="335.40" r="0.85" fill="#858585" fill-opacity="0.5"/>
<circle cx="456.76" cy="333.91" r="0.85" fill="#858585" fill-opacity="0.5"/>
<circle cx="457.60" cy="337.15" r="0.85" fill="#858585" fill-opacity="0.5"/>
<circle cx="460.34" cy="338.18" r="0.85" fill="#858585" fill-opacity="0.5"/>
<circle cx="456.74" cy="336.33" r="0.85" fill="#858585" fill-opacity="0.5"/>
<circle cx="457.39" cy="339.55" r="0.85" fill="#858585" fill-opacity="0.5"/>
<circle cx="458.66" cy="337.20" r="0.85" fill="#858585" fill-opacity="0.5"/>
<circle cx="457.93" cy="342.49" r="0.85" fill="#858585" fill-opacity="0.5"/>
<circle cx="458.45" cy="337.24" r="0.85" fill="#858585" fill-opacity="0.5"/>
<circle cx="456.77" cy="338.30" r="0.85" fill="#858585" fill-opacity="0.5"/>
<circle cx="457.84" cy="336.67" r="0.85" fill="#858585" fill-opacity="0.5"/>
<circle cx="458.13" cy="337.57" r="0.85" fill="#858585" fill-opacity="0.5"/>
<circle cx="457.66" cy="337.43" r="0.85" fill="#858585" fill-opacity="0.5"/>
<circle cx="455.84" cy="350.96" r="0.85" fill="#858585" fill-opacity="0.5"/>
<circle cx="460.34" cy="342.14" r="0.85" fill="#858585" fill-opacity="0.5"/>
<circle cx="458.12" cy="341.53" r="0.85" fill="#858585" fill-opacity="0.5"/>
<circle cx="456.35" cy="342.33" r="0.85" fill="#858585" fill-opacity="0.5"/>
<circle cx="457.16" cy="336.69" r="0.85" fill="#858585" fill-opacity="0.5"/>
<circle cx="456.93" cy="339.03" r="0.85" fill="#858585" fill-opacity="0.5"/>
<circle cx="460.05" cy="336.46" r="0.85" fill="#858585" fill-opacity="0.5"/>
<circle cx="457.06" cy="329.76" r="0.85" fill="#858585" fill-opacity="0.5"/>
<circle cx="457.24" cy="337.31" r="0.85" fill="#858585" fill-opacity="0.5"/>
<circle cx="455.14" cy="335.21" r="0.85" fill="#858585" fill-opacity="0.5"/>
<circle cx="456.64" cy="336.49" r="0.85" fill="#858585" fill-opacity="0.5"/>
<circle cx="458.76" cy="339.35" r="0.85" fill="#858585" fill-opacity="0.5"/>
<circle cx="457.42" cy="334.36" r="0.85" fill="#858585" fill-opacity="0.5"/>
<circle cx="458.61" cy="335.72" r="0.85" fill="#858585" fill-opacity="0.5"/>
<circle cx="457.77" cy="338.23" r="0.85" fill="#858585" fill-opacity="0.5"/>
<circle cx="462.04" cy="341.69" r="0.85" fill="#858585" fill-opacity="0.5"/>
<circle cx="462.17" cy="345.22" r="0.85" fill="#858585" fill-opacity="0.5"/>
<circle cx="462.74" cy="344.55" r="0.85" fill="#858585" fill-opacity="0.5"/>
<circle cx="464.88" cy="338.14" r="0.85" fill="#858585" fill-opacity="0.5"/>
<circle cx="465.50" cy="341.22" r="0.85" fill="#858585" fill-opacity="0.5"/>
<circle cx="465.17" cy="345.45" r="0.85" fill="#858585" fill-opacity="0.5"/>
<circle cx="464.03" cy="340.41" r="0.85" fill="#858585" fill-opacity="0.5"/>
<circle cx="463.63" cy="339.76" r="0.85" fill="#858585" fill-opacity="0.5"/>
<circle cx="464.62" cy="343.58" r="0.85" fill="#858585" fill-opacity="0.5"/>
<circle cx="465.90" cy="341.32" r="0.85" fill="#858585" fill-opacity="0.5"/>
<circle cx="465.90" cy="338.72" r="0.85" fill="#858585" fill-opacity="0.5"/>
<circle cx="463.34" cy="340.96" r="0.85" fill="#858585" fill-opacity="0.5"/>
<circle cx="462.87" cy="345.29" r="0.85" fill="#858585" fill-opacity="0.5"/>
<circle cx="466.94" cy="343.18" r="0.85" fill="#858585" fill-opacity="0.5"/>
<circle cx="464.22" cy="339.41" r="0.85" fill="#858585" fill-opacity="0.5"/>
<circle cx="464.17" cy="341.03" r="0.85" fill="#858585" fill-opacity="0.5"/>
<circle cx="464.52" cy="342.85" r="0.85" fill="#858585" fill-opacity="0.5"/>
<circle cx="463.57" cy="349.80" r="0.85" fill="#858585" fill-opacity="0.5"/>
<circle cx="465.92" cy="348.78" r="0.85" fill="#858585" fill-opacity="0.5"/>
<circle cx="463.34" cy="346.57" r="0.85" fill="#858585" fill-opacity="0.5"/>
<circle cx="463.94" cy="345.07" r="0.85" fill="#858585" fill-opacity="0.5"/>
<circle cx="463.98" cy="344.29" r="0.85" fill="#858585" fill-opacity="0.5"/>
<circle cx="462.99" cy="344.05" r="0.85" fill="#858585" fill-opacity="0.5"/>
<circle cx="466.65" cy="343.94" r="0.85" fill="#858585" fill-opacity="0.5"/>
<circle cx="464.19" cy="339.30" r="0.85" fill="#858585" fill-opacity="0.5"/>
<circle cx="466.36" cy="347.37" r="0.85" fill="#858585" fill-opacity="0.5"/>
<circle cx="463.43" cy="346.36" r="0.85" fill="#858585" fill-opacity="0.5"/>
<circle cx="466.46" cy="342.09" r="0.85" fill="#858585" fill-opacity="0.5"/>
<circle cx="464.68" cy="339.80" r="0.85" fill="#858585" fill-opacity="0.5"/>
<circle cx="465.10" cy="344.09" r="0.85" fill="#858585" fill-opacity="0.5"/>
<circle cx="462.22" cy="345.37" r="0.85" fill="#858585" fill-opacity="0.5"/>
<circle cx="462.56" cy="337.96" r="0.85" fill="#858585" fill-opacity="0.5"/>
<circle cx="463.25" cy="338.46" r="0.85" fill="#858585" fill-opacity="0.5"/>
<circle cx="465.51" cy="339.49" r="0.85" fill="#858585" fill-opacity="0.5"/>
<circle cx="463.10" cy="340.21" r="0.85" fill="#858585" fill-opacity="0.5"/>
<circle cx="464.39" cy="343.16" r="0.85" fill="#858585" fill-opacity="0.5"/>
<circle cx="465.61" cy="337.92" r="0.85" fill="#858585" fill-opacity="0.5"/>
<circle cx="463.80" cy="343.03" r="0.85" fill="#858585" fill-opacity="0.5"/>
<circle cx="464.75" cy="342.34" r="0.85" fill="#858585" fill-opacity="0.5"/>
<circle cx="464.35" cy="343.70" r="0.85" fill="#858585" fill-opacity="0.5"/>
<circle cx="465.82" cy="341.87" r="0.85" fill="#858585" fill-opacity="0.5"/>
<circle cx="464.24" cy="342.56" r="0.85" fill="#858585" fill-opacity="0.5"/>
<circle cx="465.36" cy="345.45" r="0.85" fill="#858585" fill-opacity="0.5"/>
<circle cx="462.04" cy="339.58" r="0.85" fill="#858585" fill-opacity="0.5"/>
<circle cx="465.14" cy="340.82" r="0.85" fill="#858585" fill-opacity="0.5"/>
<circle cx="464.29" cy="339.85" r="0.85" fill="#858585" fill-opacity="0.5"/>
<circle cx="465.24" cy="340.81" r="0.85" fill="#858585" fill-opacity="0.5"/>
<circle cx="463.87" cy="340.40" r="0.85" fill="#858585" fill-opacity="0.5"/>
<circle cx="465.54" cy="340.52" r="0.85" fill="#858585" fill-opacity="0.5"/>
<circle cx="463.30" cy="346.05" r="0.85" fill="#858585" fill-opacity="0.5"/>
<circle cx="463.61" cy="332.01" r="0.85" fill="#858585" fill-opacity="0.5"/>
<circle cx="465.94" cy="339.75" r="0.85" fill="#858585" fill-opacity="0.5"/>
<circle cx="464.33" cy="336.60" r="0.85" fill="#858585" fill-opacity="0.5"/>
<circle cx="465.07" cy="342.81" r="0.85" fill="#858585" fill-opacity="0.5"/>
<circle cx="463.94" cy="341.94" r="0.85" fill="#858585" fill-opacity="0.5"/>
<circle cx="463.26" cy="342.40" r="0.85" fill="#858585" fill-opacity="0.5"/>
<circle cx="464.38" cy="342.48" r="0.85" fill="#858585" fill-opacity="0.5"/>
<circle cx="462.77" cy="344.47" r="0.85" fill="#858585" fill-opacity="0.5"/>
<circle cx="464.86" cy="338.73" r="0.85" fill="#858585" fill-opacity="0.5"/>
<circle cx="464.44" cy="340.62" r="0.85" fill="#858585" fill-opacity="0.5"/>
<circle cx="463.28" cy="344.04" r="0.85" fill="#858585" fill-opacity="0.5"/>
<circle cx="463.96" cy="342.80" r="0.85" fill="#858585" fill-opacity="0.5"/>
<circle cx="466.67" cy="340.61" r="0.85" fill="#858585" fill-opacity="0.5"/>
<circle cx="466.65" cy="343.53" r="0.85" fill="#858585" fill-opacity="0.5"/>
<circle cx="463.27" cy="342.31" r="0.85" fill="#858585" fill-opacity="0.5"/>
<circle cx="465.44" cy="346.32" r="0.85" fill="#858585" fill-opacity="0.5"/>
<circle cx="464.80" cy="341.97" r="0.85" fill="#858585" fill-opacity="0.5"/>
<circle cx="463.58" cy="345.62" r="0.85" fill="#858585" fill-opacity="0.5"/>
<circle cx="463.09" cy="338.95" r="0.85" fill="#858585" fill-opacity="0.5"/>
<circle cx="465.03" cy="344.03" r="0.85" fill="#858585" fill-opacity="0.5"/>
<circle cx="470.97" cy="349.51" r="0.85" fill="#858585" fill-opacity="0.5"/>
<circle cx="473.82" cy="347.76" r="0.85" fill="#858585" fill-opacity="0.5"/>
<circle cx="472.80" cy="369.68" r="0.85" fill="#858585" fill-opacity="0.5"/>
<circle cx="472.24" cy="349.72" r="0.85" fill="#858585" fill-opacity="0.5"/>
<circle cx="472.93" cy="347.49" r="0.85" fill="#858585" fill-opacity="0.5"/>
<circle cx="472.62" cy="350.34" r="0.85" fill="#858585" fill-opacity="0.5"/>
<circle cx="468.94" cy="345.79" r="0.85" fill="#858585" fill-opacity="0.5"/>
<circle cx="471.36" cy="346.55" r="0.85" fill="#858585" fill-opacity="0.5"/>
<circle cx="471.33" cy="340.96" r="0.85" fill="#858585" fill-opacity="0.5"/>
<circle cx="470.33" cy="354.05" r="0.85" fill="#858585" fill-opacity="0.5"/>
<circle cx="473.07" cy="347.10" r="0.85" fill="#858585" fill-opacity="0.5"/>
<circle cx="471.05" cy="347.55" r="0.85" fill="#858585" fill-opacity="0.5"/>
<circle cx="472.18" cy="350.35" r="0.85" fill="#858585" fill-opacity="0.5"/>
<circle cx="472.64" cy="351.04" r="0.85" fill="#858585" fill-opacity="0.5"/>
<circle cx="471.55" cy="353.24" r="0.85" fill="#858585" fill-opacity="0.5"/>
<circle cx="471.44" cy="351.95" r="0.85" fill="#858585" fill-opacity="0.5"/>
<circle cx="471.78" cy="356.38" r="0.85" fill="#858585" fill-opacity="0.5"/>
<circle cx="472.46" cy="346.96" r="0.85" fill="#858585" fill-opacity="0.5"/>
<circle cx="472.64" cy="348.39" r="0.85" fill="#858585" fill-opacity="0.5"/>
<circle cx="472.80" cy="347.55" r="0.85" fill="#858585" fill-opacity="0.5"/>
<circle cx="470.50" cy="351.46" r="0.85" fill="#858585" fill-opacity="0.5"/>
<circle cx="469.84" cy="346.37" r="0.85" fill="#858585" fill-opacity="0.5"/>
<circle cx="472.67" cy="356.63" r="0.85" fill="#858585" fill-opacity="0.5"/>
<circle cx="472.83" cy="369.02" r="0.85" fill="#858585" fill-opacity="0.5"/>
<circle cx="473.48" cy="361.89" r="0.85" fill="#858585" fill-opacity="0.5"/>
<circle cx="474.00" cy="351.92" r="0.85" fill="#858585" fill-opacity="0.5"/>
<circle cx="474.14" cy="349.62" r="0.85" fill="#858585" fill-opacity="0.5"/>
<circle cx="473.55" cy="353.24" r="0.85" fill="#858585" fill-opacity="0.5"/>
<circle cx="470.46" cy="351.30" r="0.85" fill="#858585" fill-opacity="0.5"/>
<circle cx="470.70" cy="353.64" r="0.85" fill="#858585" fill-opacity="0.5"/>
<circle cx="471.18" cy="348.35" r="0.85" fill="#858585" fill-opacity="0.5"/>
<circle cx="472.35" cy="349.04" r="0.85" fill="#858585" fill-opacity="0.5"/>
<circle cx="470.47" cy="347.77" r="0.85" fill="#858585" fill-opacity="0.5"/>
<circle cx="472.51" cy="349.40" r="0.85" fill="#858585" fill-opacity="0.5"/>
<circle cx="471.85" cy="348.26" r="0.85" fill="#858585" fill-opacity="0.5"/>
<circle cx="470.54" cy="355.84" r="0.85" fill="#858585" fill-opacity="0.5"/>
<circle cx="472.22" cy="353.88" r="0.85" fill="#858585" fill-opacity="0.5"/>
<circle cx="470.93" cy="347.91" r="0.85" fill="#858585" fill-opacity="0.5"/>
<circle cx="470.36" cy="353.16" r="0.85" fill="#858585" fill-opacity="0.5"/>
<circle cx="470.09" cy="349.61" r="0.85" fill="#858585" fill-opacity="0.5"/>
<circle cx="471.89" cy="351.71" r="0.85" fill="#858585" fill-opacity="0.5"/>
<circle cx="471.43" cy="353.92" r="0.85" fill="#858585" fill-opacity="0.5"/>
<circle cx="471.98" cy="343.92" r="0.85" fill="#858585" fill-opacity="0.5"/>
<circle cx="471.05" cy="348.54" r="0.85" fill="#858585" fill-opacity="0.5"/>
<circle cx="470.90" cy="372.80" r="0.85" fill="#858585" fill-opacity="0.5"/>
<circle cx="469.66" cy="354.41" r="0.85" fill="#858585" fill-opacity="0.5"/>
<circle cx="472.70" cy="350.57" r="0.85" fill="#858585" fill-opacity="0.5"/>
<circle cx="471.86" cy="352.05" r="0.85" fill="#858585" fill-opacity="0.5"/>
<circle cx="470.51" cy="353.32" r="0.85" fill="#858585" fill-opacity="0.5"/>
<circle cx="469.48" cy="347.55" r="0.85" fill="#858585" fill-opacity="0.5"/>
<circle cx="472.28" cy="351.03" r="0.85" fill="#858585" fill-opacity="0.5"/>
<circle cx="471.12" cy="353.96" r="0.85" fill="#858585" fill-opacity="0.5"/>
<circle cx="471.18" cy="350.13" r="0.85" fill="#858585" fill-opacity="0.5"/>
<circle cx="472.78" cy="348.99" r="0.85" fill="#858585" fill-opacity="0.5"/>
<circle cx="470.27" cy="350.77" r="0.85" fill="#858585" fill-opacity="0.5"/>
<circle cx="471.12" cy="351.00" r="0.85" fill="#858585" fill-opacity="0.5"/>
<circle cx="471.32" cy="362.48" r="0.85" fill="#858585" fill-opacity="0.5"/>
<circle cx="469.00" cy="352.53" r="0.85" fill="#858585" fill-opacity="0.5"/>
<circle cx="472.40" cy="352.10" r="0.85" fill="#858585" fill-opacity="0.5"/>
<circle cx="471.95" cy="347.73" r="0.85" fill="#858585" fill-opacity="0.5"/>
<circle cx="472.96" cy="352.66" r="0.85" fill="#858585" fill-opacity="0.5"/>
<circle cx="471.80" cy="346.71" r="0.85" fill="#858585" fill-opacity="0.5"/>
<circle cx="472.41" cy="350.90" r="0.85" fill="#858585" fill-opacity="0.5"/>
<circle cx="471.68" cy="349.96" r="0.85" fill="#858585" fill-opacity="0.5"/>
<circle cx="468.94" cy="341.77" r="0.85" fill="#858585" fill-opacity="0.5"/>
<circle cx="472.18" cy="350.83" r="0.85" fill="#858585" fill-opacity="0.5"/>
<circle cx="471.76" cy="342.66" r="0.85" fill="#858585" fill-opacity="0.5"/>
<circle cx="471.35" cy="349.61" r="0.85" fill="#858585" fill-opacity="0.5"/>
<circle cx="472.37" cy="346.71" r="0.85" fill="#858585" fill-opacity="0.5"/>
<circle cx="471.86" cy="349.83" r="0.85" fill="#858585" fill-opacity="0.5"/>
<circle cx="477.94" cy="355.06" r="0.85" fill="#858585" fill-opacity="0.5"/>
<circle cx="479.60" cy="355.25" r="0.85" fill="#858585" fill-opacity="0.5"/>
<circle cx="478.47" cy="352.90" r="0.85" fill="#858585" fill-opacity="0.5"/>
<circle cx="478.44" cy="349.46" r="0.85" fill="#858585" fill-opacity="0.5"/>
<circle cx="477.39" cy="353.38" r="0.85" fill="#858585" fill-opacity="0.5"/>
<circle cx="480.26" cy="358.42" r="0.85" fill="#858585" fill-opacity="0.5"/>
<circle cx="476.11" cy="358.81" r="0.85" fill="#858585" fill-opacity="0.5"/>
<circle cx="478.53" cy="356.80" r="0.85" fill="#858585" fill-opacity="0.5"/>
<circle cx="477.75" cy="355.84" r="0.85" fill="#858585" fill-opacity="0.5"/>
<circle cx="478.81" cy="352.93" r="0.85" fill="#858585" fill-opacity="0.5"/>
<circle cx="478.62" cy="357.25" r="0.85" fill="#858585" fill-opacity="0.5"/>
<circle cx="479.75" cy="353.84" r="0.85" fill="#858585" fill-opacity="0.5"/>
<circle cx="479.19" cy="355.00" r="0.85" fill="#858585" fill-opacity="0.5"/>
<circle cx="476.99" cy="354.75" r="0.85" fill="#858585" fill-opacity="0.5"/>
<circle cx="479.47" cy="359.28" r="0.85" fill="#858585" fill-opacity="0.5"/>
<circle cx="479.24" cy="349.54" r="0.85" fill="#858585" fill-opacity="0.5"/>
<circle cx="478.18" cy="352.88" r="0.85" fill="#858585" fill-opacity="0.5"/>
<circle cx="476.83" cy="352.01" r="0.85" fill="#858585" fill-opacity="0.5"/>
<circle cx="480.37" cy="357.06" r="0.85" fill="#858585" fill-opacity="0.5"/>
<circle cx="477.39" cy="356.44" r="0.85" fill="#858585" fill-opacity="0.5"/>
<circle cx="477.98" cy="352.92" r="0.85" fill="#858585" fill-opacity="0.5"/>
<circle cx="478.56" cy="356.74" r="0.85" fill="#858585" fill-opacity="0.5"/>
<circle cx="479.97" cy="354.91" r="0.85" fill="#858585" fill-opacity="0.5"/>
<circle cx="478.83" cy="356.97" r="0.85" fill="#858585" fill-opacity="0.5"/>
<circle cx="476.87" cy="356.52" r="0.85" fill="#858585" fill-opacity="0.5"/>
<circle cx="479.31" cy="350.58" r="0.85" fill="#858585" fill-opacity="0.5"/>
<circle cx="478.63" cy="344.18" r="0.85" fill="#858585" fill-opacity="0.5"/>
<circle cx="478.45" cy="374.95" r="0.85" fill="#858585" fill-opacity="0.5"/>
<circle cx="475.97" cy="359.67" r="0.85" fill="#858585" fill-opacity="0.5"/>
<circle cx="479.03" cy="349.69" r="0.85" fill="#858585" fill-opacity="0.5"/>
<circle cx="480.60" cy="354.25" r="0.85" fill="#858585" fill-opacity="0.5"/>
<circle cx="478.07" cy="351.95" r="0.85" fill="#858585" fill-opacity="0.5"/>
<circle cx="477.77" cy="355.91" r="0.85" fill="#858585" fill-opacity="0.5"/>
<circle cx="476.66" cy="357.08" r="0.85" fill="#858585" fill-opacity="0.5"/>
<circle cx="479.71" cy="359.44" r="0.85" fill="#858585" fill-opacity="0.5"/>
<circle cx="479.96" cy="352.33" r="0.85" fill="#858585" fill-opacity="0.5"/>
<circle cx="480.50" cy="358.63" r="0.85" fill="#858585" fill-opacity="0.5"/>
<circle cx="476.20" cy="356.69" r="0.85" fill="#858585" fill-opacity="0.5"/>
<circle cx="478.81" cy="352.69" r="0.85" fill="#858585" fill-opacity="0.5"/>
<circle cx="479.67" cy="349.98" r="0.85" fill="#858585" fill-opacity="0.5"/>
<circle cx="477.19" cy="343.45" r="0.85" fill="#858585" fill-opacity="0.5"/>
<circle cx="476.33" cy="350.08" r="0.85" fill="#858585" fill-opacity="0.5"/>
<circle cx="475.85" cy="353.51" r="0.85" fill="#858585" fill-opacity="0.5"/>
<circle cx="478.82" cy="357.69" r="0.85" fill="#858585" fill-opacity="0.5"/>
<circle cx="479.26" cy="355.66" r="0.85" fill="#858585" fill-opacity="0.5"/>
<circle cx="479.87" cy="355.81" r="0.85" fill="#858585" fill-opacity="0.5"/>
<circle cx="478.25" cy="355.36" r="0.85" fill="#858585" fill-opacity="0.5"/>
<circle cx="478.99" cy="350.86" r="0.85" fill="#858585" fill-opacity="0.5"/>
<circle cx="479.55" cy="361.45" r="0.85" fill="#858585" fill-opacity="0.5"/>
<circle cx="478.99" cy="355.57" r="0.85" fill="#858585" fill-opacity="0.5"/>
<circle cx="478.18" cy="355.19" r="0.85" fill="#858585" fill-opacity="0.5"/>
<circle cx="476.52" cy="356.42" r="0.85" fill="#858585" fill-opacity="0.5"/>
<circle cx="476.02" cy="354.32" r="0.85" fill="#858585" fill-opacity="0.5"/>
<circle cx="477.66" cy="353.46" r="0.85" fill="#858585" fill-opacity="0.5"/>
<circle cx="477.73" cy="359.00" r="0.85" fill="#858585" fill-opacity="0.5"/>
<circle cx="479.81" cy="356.58" r="0.85" fill="#858585" fill-opacity="0.5"/>
<circle cx="478.53" cy="349.42" r="0.85" fill="#858585" fill-opacity="0.5"/>
<circle cx="479.38" cy="357.03" r="0.85" fill="#858585" fill-opacity="0.5"/>
<circle cx="478.96" cy="354.17" r="0.85" fill="#858585" fill-opacity="0.5"/>
<circle cx="477.55" cy="356.15" r="0.85" fill="#858585" fill-opacity="0.5"/>
<circle cx="476.73" cy="356.03" r="0.85" fill="#858585" fill-opacity="0.5"/>
<circle cx="480.46" cy="353.07" r="0.85" fill="#858585" fill-opacity="0.5"/>
<circle cx="479.96" cy="352.96" r="0.85" fill="#858585" fill-opacity="0.5"/>
<circle cx="478.19" cy="357.99" r="0.85" fill="#858585" fill-opacity="0.5"/>
<circle cx="478.25" cy="352.42" r="0.85" fill="#858585" fill-opacity="0.5"/>
<circle cx="476.70" cy="355.35" r="0.85" fill="#858585" fill-opacity="0.5"/>
<circle cx="477.84" cy="354.35" r="0.85" fill="#858585" fill-opacity="0.5"/>
<circle cx="478.70" cy="350.18" r="0.85" fill="#858585" fill-opacity="0.5"/>
<circle cx="478.69" cy="349.88" r="0.85" fill="#858585" fill-opacity="0.5"/>
<circle cx="479.53" cy="352.49" r="0.85" fill="#858585" fill-opacity="0.5"/>
<circle cx="493.01" cy="312.78" r="0.85" fill="#858585" fill-opacity="0.5"/>
<circle cx="494.07" cy="313.06" r="0.85" fill="#858585" fill-opacity="0.5"/>
<circle cx="493.67" cy="306.70" r="0.85" fill="#858585" fill-opacity="0.5"/>
<circle cx="494.41" cy="309.04" r="0.85" fill="#858585" fill-opacity="0.5"/>
<circle cx="495.43" cy="312.42" r="0.85" fill="#858585" fill-opacity="0.5"/>
<circle cx="494.45" cy="308.75" r="0.85" fill="#858585" fill-opacity="0.5"/>
<circle cx="494.43" cy="310.96" r="0.85" fill="#858585" fill-opacity="0.5"/>
<circle cx="496.89" cy="323.36" r="0.85" fill="#858585" fill-opacity="0.5"/>
<circle cx="492.17" cy="313.29" r="0.85" fill="#858585" fill-opacity="0.5"/>
<circle cx="495.80" cy="312.04" r="0.85" fill="#858585" fill-opacity="0.5"/>
<circle cx="494.44" cy="306.12" r="0.85" fill="#858585" fill-opacity="0.5"/>
<circle cx="496.00" cy="308.02" r="0.85" fill="#858585" fill-opacity="0.5"/>
<circle cx="494.75" cy="308.10" r="0.85" fill="#858585" fill-opacity="0.5"/>
<circle cx="492.72" cy="304.70" r="0.85" fill="#858585" fill-opacity="0.5"/>
<circle cx="495.38" cy="298.64" r="0.85" fill="#858585" fill-opacity="0.5"/>
<circle cx="495.60" cy="309.82" r="0.85" fill="#858585" fill-opacity="0.5"/>
<circle cx="493.81" cy="312.79" r="0.85" fill="#858585" fill-opacity="0.5"/>
<circle cx="493.91" cy="310.87" r="0.85" fill="#858585" fill-opacity="0.5"/>
<circle cx="493.47" cy="309.42" r="0.85" fill="#858585" fill-opacity="0.5"/>
<circle cx="496.52" cy="309.16" r="0.85" fill="#858585" fill-opacity="0.5"/>
<circle cx="494.27" cy="309.72" r="0.85" fill="#858585" fill-opacity="0.5"/>
<circle cx="494.05" cy="306.21" r="0.85" fill="#858585" fill-opacity="0.5"/>
<circle cx="492.78" cy="305.59" r="0.85" fill="#858585" fill-opacity="0.5"/>
<circle cx="495.97" cy="313.59" r="0.85" fill="#858585" fill-opacity="0.5"/>
<circle cx="494.76" cy="309.53" r="0.85" fill="#858585" fill-opacity="0.5"/>
<circle cx="496.50" cy="309.12" r="0.85" fill="#858585" fill-opacity="0.5"/>
<circle cx="491.80" cy="313.54" r="0.85" fill="#858585" fill-opacity="0.5"/>
<circle cx="493.24" cy="311.39" r="0.85" fill="#858585" fill-opacity="0.5"/>
<circle cx="495.41" cy="311.99" r="0.85" fill="#858585" fill-opacity="0.5"/>
<circle cx="494.89" cy="309.45" r="0.85" fill="#858585" fill-opacity="0.5"/>
<circle cx="495.05" cy="309.71" r="0.85" fill="#858585" fill-opacity="0.5"/>
<circle cx="493.50" cy="309.95" r="0.85" fill="#858585" fill-opacity="0.5"/>
<circle cx="494.57" cy="305.56" r="0.85" fill="#858585" fill-opacity="0.5"/>
<circle cx="495.21" cy="310.63" r="0.85" fill="#858585" fill-opacity="0.5"/>
<circle cx="495.82" cy="313.36" r="0.85" fill="#858585" fill-opacity="0.5"/>
<circle cx="493.03" cy="313.85" r="0.85" fill="#858585" fill-opacity="0.5"/>
<circle cx="493.83" cy="311.47" r="0.85" fill="#858585" fill-opacity="0.5"/>
<circle cx="493.65" cy="308.58" r="0.85" fill="#858585" fill-opacity="0.5"/>
<circle cx="494.18" cy="306.83" r="0.85" fill="#858585" fill-opacity="0.5"/>
<circle cx="494.36" cy="309.34" r="0.85" fill="#858585" fill-opacity="0.5"/>
<circle cx="493.78" cy="308.26" r="0.85" fill="#858585" fill-opacity="0.5"/>
<circle cx="495.20" cy="310.08" r="0.85" fill="#858585" fill-opacity="0.5"/>
<circle cx="495.99" cy="311.78" r="0.85" fill="#858585" fill-opacity="0.5"/>
<circle cx="493.50" cy="333.07" r="0.85" fill="#858585" fill-opacity="0.5"/>
<circle cx="495.08" cy="311.81" r="0.85" fill="#858585" fill-opacity="0.5"/>
<circle cx="493.05" cy="313.77" r="0.85" fill="#858585" fill-opacity="0.5"/>
<circle cx="494.16" cy="309.66" r="0.85" fill="#858585" fill-opacity="0.5"/>
<circle cx="496.26" cy="314.13" r="0.85" fill="#858585" fill-opacity="0.5"/>
<circle cx="492.05" cy="310.31" r="0.85" fill="#858585" fill-opacity="0.5"/>
<circle cx="494.08" cy="313.26" r="0.85" fill="#858585" fill-opacity="0.5"/>
<circle cx="495.11" cy="318.26" r="0.85" fill="#858585" fill-opacity="0.5"/>
<circle cx="495.70" cy="311.77" r="0.85" fill="#858585" fill-opacity="0.5"/>
<circle cx="496.09" cy="305.04" r="0.85" fill="#858585" fill-opacity="0.5"/>
<circle cx="494.70" cy="311.88" r="0.85" fill="#858585" fill-opacity="0.5"/>
<circle cx="494.03" cy="315.97" r="0.85" fill="#858585" fill-opacity="0.5"/>
<circle cx="493.70" cy="314.43" r="0.85" fill="#858585" fill-opacity="0.5"/>
<circle cx="494.01" cy="319.08" r="0.85" fill="#858585" fill-opacity="0.5"/>
<circle cx="496.43" cy="310.58" r="0.85" fill="#858585" fill-opacity="0.5"/>
<circle cx="494.07" cy="309.64" r="0.85" fill="#858585" fill-opacity="0.5"/>
<circle cx="493.54" cy="309.65" r="0.85" fill="#858585" fill-opacity="0.5"/>
<circle cx="495.11" cy="309.58" r="0.85" fill="#858585" fill-opacity="0.5"/>
<circle cx="493.62" cy="315.27" r="0.85" fill="#858585" fill-opacity="0.5"/>
<circle cx="496.13" cy="316.25" r="0.85" fill="#858585" fill-opacity="0.5"/>
<circle cx="494.13" cy="310.83" r="0.85" fill="#858585" fill-opacity="0.5"/>
<circle cx="496.39" cy="314.90" r="0.85" fill="#858585" fill-opacity="0.5"/>
<circle cx="495.66" cy="314.31" r="0.85" fill="#858585" fill-opacity="0.5"/>
<circle cx="493.18" cy="310.49" r="0.85" fill="#858585" fill-opacity="0.5"/>
<circle cx="496.59" cy="311.67" r="0.85" fill="#858585" fill-opacity="0.5"/>
<circle cx="496.54" cy="310.07" r="0.85" fill="#858585" fill-opacity="0.5"/>
<circle cx="495.23" cy="315.47" r="0.85" fill="#858585" fill-opacity="0.5"/>
<circle cx="499.89" cy="305.41" r="0.85" fill="#858585" fill-opacity="0.5"/>
<circle cx="502.07" cy="313.55" r="0.85" fill="#858585" fill-opacity="0.5"/>
<circle cx="502.71" cy="326.65" r="0.85" fill="#858585" fill-opacity="0.5"/>
<circle cx="501.22" cy="310.98" r="0.85" fill="#858585" fill-opacity="0.5"/>
<circle cx="502.76" cy="312.58" r="0.85" fill="#858585" fill-opacity="0.5"/>
<circle cx="500.94" cy="308.70" r="0.85" fill="#858585" fill-opacity="0.5"/>
<circle cx="503.09" cy="309.31" r="0.85" fill="#858585" fill-opacity="0.5"/>
<circle cx="500.89" cy="306.30" r="0.85" fill="#858585" fill-opacity="0.5"/>
<circle cx="500.53" cy="308.82" r="0.85" fill="#858585" fill-opacity="0.5"/>
<circle cx="503.41" cy="314.63" r="0.85" fill="#858585" fill-opacity="0.5"/>
<circle cx="500.32" cy="306.47" r="0.85" fill="#858585" fill-opacity="0.5"/>
<circle cx="501.63" cy="309.52" r="0.85" fill="#858585" fill-opacity="0.5"/>
<circle cx="500.89" cy="330.94" r="0.85" fill="#858585" fill-opacity="0.5"/>
<circle cx="499.79" cy="315.85" r="0.85" fill="#858585" fill-opacity="0.5"/>
<circle cx="503.47" cy="306.24" r="0.85" fill="#858585" fill-opacity="0.5"/>
<circle cx="502.45" cy="326.51" r="0.85" fill="#858585" fill-opacity="0.5"/>
<circle cx="499.28" cy="308.29" r="0.85" fill="#858585" fill-opacity="0.5"/>
<circle cx="500.15" cy="313.00" r="0.85" fill="#858585" fill-opacity="0.5"/>
<circle cx="503.22" cy="312.17" r="0.85" fill="#858585" fill-opacity="0.5"/>
<circle cx="502.34" cy="314.49" r="0.85" fill="#858585" fill-opacity="0.5"/>
<circle cx="501.18" cy="309.81" r="0.85" fill="#858585" fill-opacity="0.5"/>
<circle cx="503.83" cy="307.71" r="0.85" fill="#858585" fill-opacity="0.5"/>
<circle cx="500.73" cy="313.82" r="0.85" fill="#858585" fill-opacity="0.5"/>
<circle cx="501.52" cy="312.98" r="0.85" fill="#858585" fill-opacity="0.5"/>
<circle cx="500.42" cy="314.08" r="0.85" fill="#858585" fill-opacity="0.5"/>
<circle cx="500.50" cy="310.45" r="0.85" fill="#858585" fill-opacity="0.5"/>
<circle cx="499.45" cy="306.26" r="0.85" fill="#858585" fill-opacity="0.5"/>
<circle cx="502.42" cy="312.17" r="0.85" fill="#858585" fill-opacity="0.5"/>
<circle cx="500.27" cy="310.33" r="0.85" fill="#858585" fill-opacity="0.5"/>
<circle cx="500.96" cy="311.82" r="0.85" fill="#858585" fill-opacity="0.5"/>
<circle cx="500.79" cy="308.38" r="0.85" fill="#858585" fill-opacity="0.5"/>
<circle cx="502.10" cy="310.22" r="0.85" fill="#858585" fill-opacity="0.5"/>
<circle cx="501.04" cy="312.16" r="0.85" fill="#858585" fill-opacity="0.5"/>
<circle cx="499.51" cy="310.68" r="0.85" fill="#858585" fill-opacity="0.5"/>
<circle cx="501.44" cy="317.20" r="0.85" fill="#858585" fill-opacity="0.5"/>
<circle cx="500.27" cy="309.34" r="0.85" fill="#858585" fill-opacity="0.5"/>
<circle cx="500.18" cy="301.86" r="0.85" fill="#858585" fill-opacity="0.5"/>
<circle cx="502.39" cy="311.25" r="0.85" fill="#858585" fill-opacity="0.5"/>
<circle cx="500.15" cy="314.89" r="0.85" fill="#858585" fill-opacity="0.5"/>
<circle cx="502.41" cy="313.26" r="0.85" fill="#858585" fill-opacity="0.5"/>
<circle cx="501.59" cy="312.05" r="0.85" fill="#858585" fill-opacity="0.5"/>
<circle cx="501.59" cy="307.40" r="0.85" fill="#858585" fill-opacity="0.5"/>
<circle cx="501.91" cy="313.97" r="0.85" fill="#858585" fill-opacity="0.5"/>
<circle cx="501.68" cy="310.72" r="0.85" fill="#858585" fill-opacity="0.5"/>
<circle cx="503.26" cy="306.40" r="0.85" fill="#858585" fill-opacity="0.5"/>
<circle cx="500.86" cy="314.02" r="0.85" fill="#858585" fill-opacity="0.5"/>
<circle cx="500.26" cy="308.84" r="0.85" fill="#858585" fill-opacity="0.5"/>
<circle cx="498.70" cy="309.67" r="0.85" fill="#858585" fill-opacity="0.5"/>
<circle cx="501.31" cy="329.64" r="0.85" fill="#858585" fill-opacity="0.5"/>
<circle cx="500.87" cy="314.15" r="0.85" fill="#858585" fill-opacity="0.5"/>
<circle cx="501.04" cy="308.53" r="0.85" fill="#858585" fill-opacity="0.5"/>
<circle cx="500.85" cy="312.00" r="0.85" fill="#858585" fill-opacity="0.5"/>
<circle cx="500.17" cy="314.30" r="0.85" fill="#858585" fill-opacity="0.5"/>
<circle cx="503.42" cy="308.83" r="0.85" fill="#858585" fill-opacity="0.5"/>
<circle cx="500.25" cy="313.36" r="0.85" fill="#858585" fill-opacity="0.5"/>
<circle cx="501.37" cy="307.15" r="0.85" fill="#858585" fill-opacity="0.5"/>
<circle cx="501.96" cy="311.07" r="0.85" fill="#858585" fill-opacity="0.5"/>
<circle cx="501.89" cy="312.73" r="0.85" fill="#858585" fill-opacity="0.5"/>
<circle cx="501.26" cy="311.78" r="0.85" fill="#858585" fill-opacity="0.5"/>
<circle cx="502.39" cy="312.10" r="0.85" fill="#858585" fill-opacity="0.5"/>
<circle cx="500.87" cy="311.80" r="0.85" fill="#858585" fill-opacity="0.5"/>
<circle cx="500.94" cy="332.86" r="0.85" fill="#858585" fill-opacity="0.5"/>
<circle cx="501.52" cy="309.07" r="0.85" fill="#858585" fill-opacity="0.5"/>
<circle cx="501.58" cy="307.68" r="0.85" fill="#858585" fill-opacity="0.5"/>
<circle cx="499.94" cy="307.59" r="0.85" fill="#858585" fill-opacity="0.5"/>
<circle cx="501.48" cy="311.61" r="0.85" fill="#858585" fill-opacity="0.5"/>
<circle cx="500.96" cy="316.42" r="0.85" fill="#858585" fill-opacity="0.5"/>
<circle cx="499.94" cy="312.93" r="0.85" fill="#858585" fill-opacity="0.5"/>
<circle cx="501.56" cy="309.02" r="0.85" fill="#858585" fill-opacity="0.5"/>
<circle cx="498.70" cy="310.40" r="0.85" fill="#858585" fill-opacity="0.5"/>
<circle cx="508.77" cy="309.90" r="0.85" fill="#858585" fill-opacity="0.5"/>
<circle cx="508.73" cy="309.87" r="0.85" fill="#858585" fill-opacity="0.5"/>
<circle cx="508.44" cy="305.84" r="0.85" fill="#858585" fill-opacity="0.5"/>
<circle cx="508.73" cy="307.09" r="0.85" fill="#858585" fill-opacity="0.5"/>
<circle cx="510.25" cy="311.81" r="0.85" fill="#858585" fill-opacity="0.5"/>
<circle cx="508.03" cy="314.05" r="0.85" fill="#858585" fill-opacity="0.5"/>
<circle cx="508.13" cy="307.57" r="0.85" fill="#858585" fill-opacity="0.5"/>
<circle cx="506.39" cy="309.86" r="0.85" fill="#858585" fill-opacity="0.5"/>
<circle cx="507.00" cy="308.27" r="0.85" fill="#858585" fill-opacity="0.5"/>
<circle cx="505.81" cy="308.00" r="0.85" fill="#858585" fill-opacity="0.5"/>
<circle cx="509.04" cy="325.17" r="0.85" fill="#858585" fill-opacity="0.5"/>
<circle cx="508.97" cy="306.55" r="0.85" fill="#858585" fill-opacity="0.5"/>
<circle cx="506.19" cy="304.83" r="0.85" fill="#858585" fill-opacity="0.5"/>
<circle cx="508.55" cy="319.74" r="0.85" fill="#858585" fill-opacity="0.5"/>
<circle cx="509.72" cy="314.71" r="0.85" fill="#858585" fill-opacity="0.5"/>
<circle cx="507.62" cy="309.94" r="0.85" fill="#858585" fill-opacity="0.5"/>
<circle cx="508.43" cy="312.91" r="0.85" fill="#858585" fill-opacity="0.5"/>
<circle cx="506.41" cy="313.06" r="0.85" fill="#858585" fill-opacity="0.5"/>
<circle cx="508.07" cy="327.03" r="0.85" fill="#858585" fill-opacity="0.5"/>
<circle cx="509.57" cy="310.42" r="0.85" fill="#858585" fill-opacity="0.5"/>
<circle cx="507.22" cy="320.76" r="0.85" fill="#858585" fill-opacity="0.5"/>
<circle cx="508.02" cy="308.58" r="0.85" fill="#858585" fill-opacity="0.5"/>
<circle cx="507.88" cy="310.47" r="0.85" fill="#858585" fill-opacity="0.5"/>
<circle cx="507.99" cy="311.65" r="0.85" fill="#858585" fill-opacity="0.5"/>
<circle cx="509.14" cy="315.03" r="0.85" fill="#858585" fill-opacity="0.5"/>
<circle cx="509.76" cy="314.26" r="0.85" fill="#858585" fill-opacity="0.5"/>
<circle cx="509.20" cy="310.68" r="0.85" fill="#858585" fill-opacity="0.5"/>
<circle cx="509.77" cy="311.04" r="0.85" fill="#858585" fill-opacity="0.5"/>
<circle cx="509.58" cy="319.86" r="0.85" fill="#858585" fill-opacity="0.5"/>
<circle cx="508.06" cy="307.02" r="0.85" fill="#858585" fill-opacity="0.5"/>
<circle cx="506.49" cy="323.81" r="0.85" fill="#858585" fill-opacity="0.5"/>
<circle cx="506.89" cy="307.22" r="0.85" fill="#858585" fill-opacity="0.5"/>
<circle cx="506.44" cy="319.10" r="0.85" fill="#858585" fill-opacity="0.5"/>
<circle cx="506.00" cy="313.96" r="0.85" fill="#858585" fill-opacity="0.5"/>
<circle cx="507.41" cy="326.32" r="0.85" fill="#858585" fill-opacity="0.5"/>
<circle cx="507.13" cy="307.09" r="0.85" fill="#858585" fill-opacity="0.5"/>
<circle cx="507.51" cy="304.74" r="0.85" fill="#858585" fill-opacity="0.5"/>
<circle cx="506.92" cy="308.46" r="0.85" fill="#858585" fill-opacity="0.5"/>
<circle cx="508.57" cy="308.34" r="0.85" fill="#858585" fill-opacity="0.5"/>
<circle cx="507.23" cy="319.64" r="0.85" fill="#858585" fill-opacity="0.5"/>
<circle cx="509.73" cy="318.93" r="0.85" fill="#858585" fill-opacity="0.5"/>
<circle cx="507.77" cy="310.74" r="0.85" fill="#858585" fill-opacity="0.5"/>
<circle cx="507.06" cy="312.63" r="0.85" fill="#858585" fill-opacity="0.5"/>
<circle cx="509.42" cy="306.51" r="0.85" fill="#858585" fill-opacity="0.5"/>
<circle cx="509.75" cy="315.23" r="0.85" fill="#858585" fill-opacity="0.5"/>
<circle cx="508.79" cy="310.71" r="0.85" fill="#858585" fill-opacity="0.5"/>
<circle cx="509.02" cy="311.52" r="0.85" fill="#858585" fill-opacity="0.5"/>
<circle cx="505.60" cy="312.19" r="0.85" fill="#858585" fill-opacity="0.5"/>
<circle cx="507.38" cy="312.15" r="0.85" fill="#858585" fill-opacity="0.5"/>
<circle cx="507.21" cy="304.73" r="0.85" fill="#858585" fill-opacity="0.5"/>
<circle cx="510.06" cy="313.38" r="0.85" fill="#858585" fill-opacity="0.5"/>
<circle cx="509.03" cy="315.18" r="0.85" fill="#858585" fill-opacity="0.5"/>
<circle cx="508.34" cy="321.53" r="0.85" fill="#858585" fill-opacity="0.5"/>
<circle cx="508.67" cy="313.49" r="0.85" fill="#858585" fill-opacity="0.5"/>
<circle cx="506.99" cy="312.47" r="0.85" fill="#858585" fill-opacity="0.5"/>
<circle cx="509.42" cy="306.48" r="0.85" fill="#858585" fill-opacity="0.5"/>
<circle cx="507.94" cy="314.04" r="0.85" fill="#858585" fill-opacity="0.5"/>
<circle cx="506.97" cy="309.30" r="0.85" fill="#858585" fill-opacity="0.5"/>
<circle cx="509.04" cy="314.03" r="0.85" fill="#858585" fill-opacity="0.5"/>
<circle cx="509.53" cy="319.01" r="0.85" fill="#858585" fill-opacity="0.5"/>
<circle cx="506.84" cy="308.37" r="0.85" fill="#858585" fill-opacity="0.5"/>
<circle cx="508.07" cy="303.80" r="0.85" fill="#858585" fill-opacity="0.5"/>
<circle cx="507.78" cy="327.58" r="0.85" fill="#858585" fill-opacity="0.5"/>
<circle cx="507.63" cy="312.66" r="0.85" fill="#858585" fill-opacity="0.5"/>
<circle cx="508.89" cy="313.34" r="0.85" fill="#858585" fill-opacity="0.5"/>
<circle cx="506.85" cy="311.50" r="0.85" fill="#858585" fill-opacity="0.5"/>
<circle cx="506.54" cy="315.30" r="0.85" fill="#858585" fill-opacity="0.5"/>
<circle cx="509.82" cy="311.16" r="0.85" fill="#858585" fill-opacity="0.5"/>
<circle cx="509.51" cy="312.20" r="0.85" fill="#858585" fill-opacity="0.5"/>
<circle cx="508.10" cy="313.05" r="0.85" fill="#858585" fill-opacity="0.5"/>
<circle cx="513.07" cy="316.97" r="0.85" fill="#858585" fill-opacity="0.5"/>
<circle cx="514.44" cy="328.55" r="0.85" fill="#858585" fill-opacity="0.5"/>
<circle cx="515.43" cy="317.68" r="0.85" fill="#858585" fill-opacity="0.5"/>
<circle cx="514.94" cy="325.14" r="0.85" fill="#858585" fill-opacity="0.5"/>
<circle cx="517.70" cy="321.29" r="0.85" fill="#858585" fill-opacity="0.5"/>
<circle cx="515.70" cy="320.83" r="0.85" fill="#858585" fill-opacity="0.5"/>
<circle cx="514.74" cy="317.57" r="0.85" fill="#858585" fill-opacity="0.5"/>
<circle cx="514.71" cy="325.99" r="0.85" fill="#858585" fill-opacity="0.5"/>
<circle cx="517.04" cy="324.29" r="0.85" fill="#858585" fill-opacity="0.5"/>
<circle cx="514.74" cy="327.76" r="0.85" fill="#858585" fill-opacity="0.5"/>
<circle cx="512.50" cy="319.70" r="0.85" fill="#858585" fill-opacity="0.5"/>
<circle cx="514.86" cy="324.61" r="0.85" fill="#858585" fill-opacity="0.5"/>
<circle cx="516.04" cy="322.58" r="0.85" fill="#858585" fill-opacity="0.5"/>
<circle cx="512.58" cy="319.37" r="0.85" fill="#858585" fill-opacity="0.5"/>
<circle cx="515.15" cy="322.77" r="0.85" fill="#858585" fill-opacity="0.5"/>
<circle cx="515.73" cy="315.81" r="0.85" fill="#858585" fill-opacity="0.5"/>
<circle cx="515.17" cy="325.13" r="0.85" fill="#858585" fill-opacity="0.5"/>
<circle cx="514.86" cy="327.04" r="0.85" fill="#858585" fill-opacity="0.5"/>
<circle cx="514.85" cy="340.72" r="0.85" fill="#858585" fill-opacity="0.5"/>
<circle cx="512.80" cy="323.46" r="0.85" fill="#858585" fill-opacity="0.5"/>
<circle cx="514.85" cy="325.22" r="0.85" fill="#858585" fill-opacity="0.5"/>
<circle cx="515.67" cy="326.23" r="0.85" fill="#858585" fill-opacity="0.5"/>
<circle cx="514.37" cy="316.86" r="0.85" fill="#858585" fill-opacity="0.5"/>
<circle cx="515.49" cy="316.09" r="0.85" fill="#858585" fill-opacity="0.5"/>
<circle cx="517.70" cy="320.28" r="0.85" fill="#858585" fill-opacity="0.5"/>
<circle cx="514.70" cy="322.70" r="0.85" fill="#858585" fill-opacity="0.5"/>
<circle cx="515.73" cy="326.59" r="0.85" fill="#858585" fill-opacity="0.5"/>
<circle cx="515.19" cy="320.74" r="0.85" fill="#858585" fill-opacity="0.5"/>
<circle cx="515.74" cy="319.03" r="0.85" fill="#858585" fill-opacity="0.5"/>
<circle cx="516.29" cy="319.38" r="0.85" fill="#858585" fill-opacity="0.5"/>
<circle cx="514.67" cy="320.92" r="0.85" fill="#858585" fill-opacity="0.5"/>
<circle cx="516.70" cy="322.27" r="0.85" fill="#858585" fill-opacity="0.5"/>
<circle cx="517.40" cy="319.28" r="0.85" fill="#858585" fill-opacity="0.5"/>
<circle cx="516.18" cy="324.94" r="0.85" fill="#858585" fill-opacity="0.5"/>
<circle cx="515.00" cy="322.13" r="0.85" fill="#858585" fill-opacity="0.5"/>
<circle cx="513.84" cy="321.90" r="0.85" fill="#858585" fill-opacity="0.5"/>
<circle cx="515.96" cy="340.40" r="0.85" fill="#858585" fill-opacity="0.5"/>
<circle cx="514.01" cy="318.40" r="0.85" fill="#858585" fill-opacity="0.5"/>
<circle cx="514.12" cy="322.65" r="0.85" fill="#858585" fill-opacity="0.5"/>
<circle cx="513.30" cy="336.22" r="0.85" fill="#858585" fill-opacity="0.5"/>
<circle cx="515.19" cy="323.41" r="0.85" fill="#858585" fill-opacity="0.5"/>
<circle cx="516.20" cy="321.93" r="0.85" fill="#858585" fill-opacity="0.5"/>
<circle cx="515.80" cy="324.47" r="0.85" fill="#858585" fill-opacity="0.5"/>
<circle cx="515.09" cy="318.96" r="0.85" fill="#858585" fill-opacity="0.5"/>
<circle cx="514.91" cy="323.13" r="0.85" fill="#858585" fill-opacity="0.5"/>
<circle cx="516.12" cy="319.85" r="0.85" fill="#858585" fill-opacity="0.5"/>
<circle cx="515.89" cy="320.63" r="0.85" fill="#858585" fill-opacity="0.5"/>
<circle cx="512.73" cy="322.92" r="0.85" fill="#858585" fill-opacity="0.5"/>
<circle cx="516.12" cy="323.42" r="0.85" fill="#858585" fill-opacity="0.5"/>
<circle cx="516.52" cy="316.29" r="0.85" fill="#858585" fill-opacity="0.5"/>
<circle cx="516.98" cy="317.90" r="0.85" fill="#858585" fill-opacity="0.5"/>
<circle cx="514.14" cy="322.26" r="0.85" fill="#858585" fill-opacity="0.5"/>
<circle cx="514.89" cy="318.68" r="0.85" fill="#858585" fill-opacity="0.5"/>
<circle cx="512.97" cy="322.01" r="0.85" fill="#858585" fill-opacity="0.5"/>
<circle cx="515.31" cy="315.98" r="0.85" fill="#858585" fill-opacity="0.5"/>
<circle cx="517.52" cy="318.03" r="0.85" fill="#858585" fill-opacity="0.5"/>
<circle cx="514.90" cy="317.18" r="0.85" fill="#858585" fill-opacity="0.5"/>
<circle cx="515.89" cy="320.39" r="0.85" fill="#858585" fill-opacity="0.5"/>
<circle cx="516.65" cy="319.35" r="0.85" fill="#858585" fill-opacity="0.5"/>
<circle cx="514.66" cy="307.72" r="0.85" fill="#858585" fill-opacity="0.5"/>
<circle cx="516.34" cy="325.03" r="0.85" fill="#858585" fill-opacity="0.5"/>
<circle cx="515.80" cy="325.78" r="0.85" fill="#858585" fill-opacity="0.5"/>
<circle cx="513.57" cy="321.96" r="0.85" fill="#858585" fill-opacity="0.5"/>
<circle cx="513.13" cy="319.84" r="0.85" fill="#858585" fill-opacity="0.5"/>
<circle cx="512.50" cy="318.08" r="0.85" fill="#858585" fill-opacity="0.5"/>
<circle cx="514.89" cy="318.01" r="0.85" fill="#858585" fill-opacity="0.5"/>
<circle cx="514.90" cy="343.29" r="0.85" fill="#858585" fill-opacity="0.5"/>
<circle cx="516.14" cy="317.34" r="0.85" fill="#858585" fill-opacity="0.5"/>
<circle cx="514.80" cy="319.66" r="0.85" fill="#858585" fill-opacity="0.5"/>
<circle cx="515.30" cy="318.76" r="0.85" fill="#858585" fill-opacity="0.5"/>
<circle cx="522.12" cy="326.64" r="0.85" fill="#858585" fill-opacity="0.5"/>
<circle cx="523.45" cy="323.28" r="0.85" fill="#858585" fill-opacity="0.5"/>
<circle cx="520.93" cy="327.79" r="0.85" fill="#858585" fill-opacity="0.5"/>
<circle cx="522.55" cy="326.82" r="0.85" fill="#858585" fill-opacity="0.5"/>
<circle cx="521.16" cy="330.39" r="0.85" fill="#858585" fill-opacity="0.5"/>
<circle cx="522.65" cy="329.71" r="0.85" fill="#858585" fill-opacity="0.5"/>
<circle cx="520.68" cy="328.41" r="0.85" fill="#858585" fill-opacity="0.5"/>
<circle cx="521.20" cy="332.12" r="0.85" fill="#858585" fill-opacity="0.5"/>
<circle cx="523.40" cy="325.44" r="0.85" fill="#858585" fill-opacity="0.5"/>
<circle cx="521.23" cy="346.64" r="0.85" fill="#858585" fill-opacity="0.5"/>
<circle cx="520.59" cy="328.27" r="0.85" fill="#858585" fill-opacity="0.5"/>
<circle cx="520.46" cy="323.07" r="0.85" fill="#858585" fill-opacity="0.5"/>
<circle cx="522.83" cy="332.72" r="0.85" fill="#858585" fill-opacity="0.5"/>
<circle cx="524.36" cy="327.81" r="0.85" fill="#858585" fill-opacity="0.5"/>
<circle cx="522.20" cy="323.91" r="0.85" fill="#858585" fill-opacity="0.5"/>
<circle cx="522.68" cy="331.10" r="0.85" fill="#858585" fill-opacity="0.5"/>
<circle cx="523.76" cy="335.70" r="0.85" fill="#858585" fill-opacity="0.5"/>
<circle cx="521.27" cy="328.62" r="0.85" fill="#858585" fill-opacity="0.5"/>
<circle cx="523.03" cy="331.24" r="0.85" fill="#858585" fill-opacity="0.5"/>
<circle cx="521.27" cy="346.95" r="0.85" fill="#858585" fill-opacity="0.5"/>
<circle cx="521.09" cy="332.32" r="0.85" fill="#858585" fill-opacity="0.5"/>
<circle cx="523.32" cy="326.02" r="0.85" fill="#858585" fill-opacity="0.5"/>
<circle cx="520.96" cy="327.34" r="0.85" fill="#858585" fill-opacity="0.5"/>
<circle cx="522.62" cy="325.78" r="0.85" fill="#858585" fill-opacity="0.5"/>
<circle cx="521.44" cy="325.52" r="0.85" fill="#858585" fill-opacity="0.5"/>
<circle cx="521.25" cy="330.91" r="0.85" fill="#858585" fill-opacity="0.5"/>
<circle cx="522.65" cy="326.56" r="0.85" fill="#858585" fill-opacity="0.5"/>
<circle cx="519.98" cy="326.59" r="0.85" fill="#858585" fill-opacity="0.5"/>
<circle cx="524.33" cy="343.82" r="0.85" fill="#858585" fill-opacity="0.5"/>
<circle cx="520.66" cy="328.42" r="0.85" fill="#858585" fill-opacity="0.5"/>
<circle cx="523.46" cy="327.97" r="0.85" fill="#858585" fill-opacity="0.5"/>
<circle cx="522.86" cy="324.02" r="0.85" fill="#858585" fill-opacity="0.5"/>
<circle cx="524.60" cy="330.50" r="0.85" fill="#858585" fill-opacity="0.5"/>
<circle cx="521.33" cy="325.16" r="0.85" fill="#858585" fill-opacity="0.5"/>
<circle cx="523.34" cy="341.36" r="0.85" fill="#858585" fill-opacity="0.5"/>
<circle cx="522.34" cy="324.89" r="0.85" fill="#858585" fill-opacity="0.5"/>
<circle cx="523.33" cy="326.43" r="0.85" fill="#858585" fill-opacity="0.5"/>
<circle cx="523.15" cy="333.27" r="0.85" fill="#858585" fill-opacity="0.5"/>
<circle cx="522.72" cy="330.76" r="0.85" fill="#858585" fill-opacity="0.5"/>
<circle cx="521.56" cy="326.03" r="0.85" fill="#858585" fill-opacity="0.5"/>
<circle cx="522.61" cy="334.49" r="0.85" fill="#858585" fill-opacity="0.5"/>
<circle cx="523.93" cy="329.35" r="0.85" fill="#858585" fill-opacity="0.5"/>
<circle cx="521.86" cy="327.71" r="0.85" fill="#858585" fill-opacity="0.5"/>
<circle cx="523.22" cy="330.67" r="0.85" fill="#858585" fill-opacity="0.5"/>
<circle cx="522.07" cy="326.79" r="0.85" fill="#858585" fill-opacity="0.5"/>
<circle cx="522.69" cy="328.25" r="0.85" fill="#858585" fill-opacity="0.5"/>
<circle cx="521.92" cy="326.42" r="0.85" fill="#858585" fill-opacity="0.5"/>
<circle cx="521.72" cy="334.59" r="0.85" fill="#858585" fill-opacity="0.5"/>
<circle cx="521.13" cy="332.27" r="0.85" fill="#858585" fill-opacity="0.5"/>
<circle cx="522.67" cy="322.65" r="0.85" fill="#858585" fill-opacity="0.5"/>
<circle cx="520.91" cy="324.67" r="0.85" fill="#858585" fill-opacity="0.5"/>
<circle cx="523.08" cy="332.70" r="0.85" fill="#858585" fill-opacity="0.5"/>
<circle cx="521.34" cy="333.22" r="0.85" fill="#858585" fill-opacity="0.5"/>
<circle cx="519.40" cy="329.97" r="0.85" fill="#858585" fill-opacity="0.5"/>
<circle cx="520.59" cy="325.62" r="0.85" fill="#858585" fill-opacity="0.5"/>
<circle cx="520.40" cy="324.80" r="0.85" fill="#858585" fill-opacity="0.5"/>
<circle cx="520.94" cy="330.63" r="0.85" fill="#858585" fill-opacity="0.5"/>
<circle cx="524.10" cy="326.31" r="0.85" fill="#858585" fill-opacity="0.5"/>
<circle cx="520.66" cy="329.47" r="0.85" fill="#858585" fill-opacity="0.5"/>
<circle cx="522.52" cy="326.08" r="0.85" fill="#858585" fill-opacity="0.5"/>
<circle cx="521.75" cy="329.89" r="0.85" fill="#858585" fill-opacity="0.5"/>
<circle cx="523.32" cy="328.21" r="0.85" fill="#858585" fill-opacity="0.5"/>
<circle cx="523.27" cy="324.71" r="0.85" fill="#858585" fill-opacity="0.5"/>
<circle cx="521.67" cy="324.85" r="0.85" fill="#858585" fill-opacity="0.5"/>
<circle cx="522.75" cy="328.39" r="0.85" fill="#858585" fill-opacity="0.5"/>
<circle cx="521.71" cy="329.68" r="0.85" fill="#858585" fill-opacity="0.5"/>
<circle cx="521.90" cy="328.78" r="0.85" fill="#858585" fill-opacity="0.5"/>
<circle cx="522.49" cy="346.62" r="0.85" fill="#858585" fill-opacity="0.5"/>
<circle cx="523.36" cy="331.92" r="0.85" fill="#858585" fill-opacity="0.5"/>
<circle cx="522.66" cy="327.29" r="0.85" fill="#858585" fill-opacity="0.5"/>
<circle cx="538.08" cy="292.74" r="0.85" fill="#858585" fill-opacity="0.5"/>
<circle cx="538.25" cy="292.45" r="0.85" fill="#858585" fill-opacity="0.5"/>
<circle cx="538.86" cy="297.14" r="0.85" fill="#858585" fill-opacity="0.5"/>
<circle cx="538.42" cy="295.31" r="0.85" fill="#858585" fill-opacity="0.5"/>
<circle cx="538.08" cy="299.30" r="0.85" fill="#858585" fill-opacity="0.5"/>
<circle cx="535.36" cy="302.01" r="0.85" fill="#858585" fill-opacity="0.5"/>
<circle cx="538.19" cy="301.13" r="0.85" fill="#858585" fill-opacity="0.5"/>
<circle cx="536.67" cy="309.45" r="0.85" fill="#858585" fill-opacity="0.5"/>
<circle cx="537.28" cy="298.06" r="0.85" fill="#858585" fill-opacity="0.5"/>
<circle cx="536.49" cy="293.27" r="0.85" fill="#858585" fill-opacity="0.5"/>
<circle cx="536.75" cy="299.54" r="0.85" fill="#858585" fill-opacity="0.5"/>
<circle cx="536.73" cy="297.34" r="0.85" fill="#858585" fill-opacity="0.5"/>
<circle cx="537.32" cy="291.53" r="0.85" fill="#858585" fill-opacity="0.5"/>
<circle cx="537.52" cy="299.33" r="0.85" fill="#858585" fill-opacity="0.5"/>
<circle cx="540.56" cy="314.39" r="0.85" fill="#858585" fill-opacity="0.5"/>
<circle cx="538.38" cy="291.84" r="0.85" fill="#858585" fill-opacity="0.5"/>
<circle cx="539.40" cy="298.63" r="0.85" fill="#858585" fill-opacity="0.5"/>
<circle cx="539.05" cy="295.89" r="0.85" fill="#858585" fill-opacity="0.5"/>
<circle cx="538.46" cy="298.45" r="0.85" fill="#858585" fill-opacity="0.5"/>
<circle cx="536.74" cy="295.37" r="0.85" fill="#858585" fill-opacity="0.5"/>
<circle cx="536.03" cy="296.92" r="0.85" fill="#858585" fill-opacity="0.5"/>
<circle cx="538.91" cy="299.22" r="0.85" fill="#858585" fill-opacity="0.5"/>
<circle cx="540.47" cy="290.99" r="0.85" fill="#858585" fill-opacity="0.5"/>
<circle cx="538.02" cy="293.58" r="0.85" fill="#858585" fill-opacity="0.5"/>
<circle cx="537.52" cy="297.97" r="0.85" fill="#858585" fill-opacity="0.5"/>
<circle cx="538.97" cy="293.97" r="0.85" fill="#858585" fill-opacity="0.5"/>
<circle cx="537.36" cy="296.98" r="0.85" fill="#858585" fill-opacity="0.5"/>
<circle cx="536.22" cy="293.88" r="0.85" fill="#858585" fill-opacity="0.5"/>
<circle cx="537.77" cy="297.00" r="0.85" fill="#858585" fill-opacity="0.5"/>
<circle cx="537.59" cy="295.80" r="0.85" fill="#858585" fill-opacity="0.5"/>
<circle cx="538.18" cy="292.48" r="0.85" fill="#858585" fill-opacity="0.5"/>
<circle cx="538.07" cy="295.25" r="0.85" fill="#858585" fill-opacity="0.5"/>
<circle cx="540.11" cy="294.89" r="0.85" fill="#858585" fill-opacity="0.5"/>
<circle cx="537.90" cy="289.78" r="0.85" fill="#858585" fill-opacity="0.5"/>
<circle cx="539.86" cy="298.43" r="0.85" fill="#858585" fill-opacity="0.5"/>
<circle cx="539.22" cy="293.13" r="0.85" fill="#858585" fill-opacity="0.5"/>
<circle cx="539.53" cy="296.31" r="0.85" fill="#858585" fill-opacity="0.5"/>
<circle cx="536.88" cy="299.04" r="0.85" fill="#858585" fill-opacity="0.5"/>
<circle cx="538.13" cy="294.94" r="0.85" fill="#858585" fill-opacity="0.5"/>
<circle cx="537.46" cy="310.34" r="0.85" fill="#858585" fill-opacity="0.5"/>
<circle cx="538.49" cy="302.03" r="0.85" fill="#858585" fill-opacity="0.5"/>
<circle cx="539.89" cy="284.85" r="0.85" fill="#858585" fill-opacity="0.5"/>
<circle cx="538.02" cy="292.63" r="0.85" fill="#858585" fill-opacity="0.5"/>
<circle cx="538.89" cy="297.15" r="0.85" fill="#858585" fill-opacity="0.5"/>
<circle cx="540.20" cy="300.53" r="0.85" fill="#858585" fill-opacity="0.5"/>
<circle cx="538.86" cy="294.21" r="0.85" fill="#858585" fill-opacity="0.5"/>
<circle cx="539.47" cy="284.57" r="0.85" fill="#858585" fill-opacity="0.5"/>
<circle cx="539.62" cy="288.86" r="0.85" fill="#858585" fill-opacity="0.5"/>
<circle cx="539.69" cy="293.44" r="0.85" fill="#858585" fill-opacity="0.5"/>
<circle cx="538.38" cy="297.97" r="0.85" fill="#858585" fill-opacity="0.5"/>
<circle cx="540.31" cy="294.60" r="0.85" fill="#858585" fill-opacity="0.5"/>
<circle cx="538.00" cy="297.02" r="0.85" fill="#858585" fill-opacity="0.5"/>
<circle cx="538.31" cy="298.22" r="0.85" fill="#858585" fill-opacity="0.5"/>
<circle cx="537.46" cy="298.62" r="0.85" fill="#858585" fill-opacity="0.5"/>
<circle cx="539.81" cy="295.18" r="0.85" fill="#858585" fill-opacity="0.5"/>
<circle cx="536.90" cy="296.26" r="0.85" fill="#858585" fill-opacity="0.5"/>
<circle cx="538.06" cy="292.44" r="0.85" fill="#858585" fill-opacity="0.5"/>
<circle cx="537.57" cy="294.77" r="0.85" fill="#858585" fill-opacity="0.5"/>
<circle cx="539.05" cy="290.36" r="0.85" fill="#858585" fill-opacity="0.5"/>
<circle cx="538.03" cy="302.97" r="0.85" fill="#858585" fill-opacity="0.5"/>
<circle cx="539.95" cy="296.86" r="0.85" fill="#858585" fill-opacity="0.5"/>
<circle cx="538.93" cy="292.28" r="0.85" fill="#858585" fill-opacity="0.5"/>
<circle cx="537.66" cy="297.53" r="0.85" fill="#858585" fill-opacity="0.5"/>
<circle cx="539.46" cy="296.15" r="0.85" fill="#858585" fill-opacity="0.5"/>
<circle cx="539.14" cy="298.60" r="0.85" fill="#858585" fill-opacity="0.5"/>
<circle cx="537.18" cy="296.03" r="0.85" fill="#858585" fill-opacity="0.5"/>
<circle cx="538.82" cy="292.59" r="0.85" fill="#858585" fill-opacity="0.5"/>
<circle cx="536.88" cy="295.29" r="0.85" fill="#858585" fill-opacity="0.5"/>
<circle cx="538.52" cy="297.87" r="0.85" fill="#858585" fill-opacity="0.5"/>
<circle cx="539.24" cy="315.21" r="0.85" fill="#858585" fill-opacity="0.5"/>
<circle cx="545.04" cy="292.52" r="0.85" fill="#858585" fill-opacity="0.5"/>
<circle cx="546.39" cy="309.05" r="0.85" fill="#858585" fill-opacity="0.5"/>
<circle cx="544.07" cy="297.88" r="0.85" fill="#858585" fill-opacity="0.5"/>
<circle cx="547.10" cy="293.12" r="0.85" fill="#858585" fill-opacity="0.5"/>
<circle cx="545.28" cy="301.24" r="0.85" fill="#858585" fill-opacity="0.5"/>
<circle cx="544.30" cy="299.07" r="0.85" fill="#858585" fill-opacity="0.5"/>
<circle cx="544.60" cy="297.36" r="0.85" fill="#858585" fill-opacity="0.5"/>
<circle cx="543.95" cy="295.82" r="0.85" fill="#858585" fill-opacity="0.5"/>
<circle cx="546.30" cy="297.06" r="0.85" fill="#858585" fill-opacity="0.5"/>
<circle cx="544.76" cy="291.41" r="0.85" fill="#858585" fill-opacity="0.5"/>
<circle cx="545.83" cy="295.30" r="0.85" fill="#858585" fill-opacity="0.5"/>
<circle cx="544.06" cy="286.49" r="0.85" fill="#858585" fill-opacity="0.5"/>
<circle cx="543.90" cy="290.47" r="0.85" fill="#858585" fill-opacity="0.5"/>
<circle cx="545.89" cy="297.32" r="0.85" fill="#858585" fill-opacity="0.5"/>
<circle cx="544.54" cy="296.47" r="0.85" fill="#858585" fill-opacity="0.5"/>
<circle cx="544.25" cy="309.44" r="0.85" fill="#858585" fill-opacity="0.5"/>
<circle cx="544.68" cy="295.26" r="0.85" fill="#858585" fill-opacity="0.5"/>
<circle cx="544.01" cy="308.53" r="0.85" fill="#858585" fill-opacity="0.5"/>
<circle cx="544.86" cy="298.33" r="0.85" fill="#858585" fill-opacity="0.5"/>
<circle cx="542.44" cy="297.98" r="0.85" fill="#858585" fill-opacity="0.5"/>
<circle cx="545.05" cy="285.85" r="0.85" fill="#858585" fill-opacity="0.5"/>
<circle cx="547.35" cy="294.96" r="0.85" fill="#858585" fill-opacity="0.5"/>
<circle cx="545.11" cy="297.51" r="0.85" fill="#858585" fill-opacity="0.5"/>
<circle cx="543.55" cy="293.48" r="0.85" fill="#858585" fill-opacity="0.5"/>
<circle cx="546.56" cy="294.60" r="0.85" fill="#858585" fill-opacity="0.5"/>
<circle cx="544.82" cy="289.23" r="0.85" fill="#858585" fill-opacity="0.5"/>
<circle cx="545.03" cy="294.70" r="0.85" fill="#858585" fill-opacity="0.5"/>
<circle cx="544.82" cy="298.54" r="0.85" fill="#858585" fill-opacity="0.5"/>
<circle cx="543.65" cy="298.75" r="0.85" fill="#858585" fill-opacity="0.5"/>
<circle cx="543.79" cy="293.37" r="0.85" fill="#858585" fill-opacity="0.5"/>
<circle cx="542.91" cy="295.91" r="0.85" fill="#858585" fill-opacity="0.5"/>
<circle cx="545.69" cy="301.96" r="0.85" fill="#858585" fill-opacity="0.5"/>
<circle cx="544.91" cy="294.87" r="0.85" fill="#858585" fill-opacity="0.5"/>
<circle cx="544.75" cy="294.10" r="0.85" fill="#858585" fill-opacity="0.5"/>
<circle cx="544.21" cy="294.27" r="0.85" fill="#858585" fill-opacity="0.5"/>
<circle cx="545.33" cy="296.54" r="0.85" fill="#858585" fill-opacity="0.5"/>
<circle cx="543.95" cy="292.22" r="0.85" fill="#858585" fill-opacity="0.5"/>
<circle cx="542.58" cy="300.53" r="0.85" fill="#858585" fill-opacity="0.5"/>
<circle cx="546.50" cy="284.98" r="0.85" fill="#858585" fill-opacity="0.5"/>
<circle cx="545.87" cy="294.18" r="0.85" fill="#858585" fill-opacity="0.5"/>
<circle cx="545.43" cy="295.05" r="0.85" fill="#858585" fill-opacity="0.5"/>
<circle cx="544.17" cy="291.46" r="0.85" fill="#858585" fill-opacity="0.5"/>
<circle cx="547.02" cy="317.01" r="0.85" fill="#858585" fill-opacity="0.5"/>
<circle cx="544.37" cy="299.33" r="0.85" fill="#858585" fill-opacity="0.5"/>
<circle cx="544.70" cy="293.28" r="0.85" fill="#858585" fill-opacity="0.5"/>
<circle cx="543.70" cy="296.49" r="0.85" fill="#858585" fill-opacity="0.5"/>
<circle cx="543.03" cy="306.18" r="0.85" fill="#858585" fill-opacity="0.5"/>
<circle cx="543.26" cy="294.18" r="0.85" fill="#858585" fill-opacity="0.5"/>
<circle cx="544.76" cy="293.28" r="0.85" fill="#858585" fill-opacity="0.5"/>
<circle cx="545.46" cy="297.54" r="0.85" fill="#858585" fill-opacity="0.5"/>
<circle cx="544.86" cy="302.85" r="0.85" fill="#858585" fill-opacity="0.5"/>
<circle cx="544.60" cy="291.93" r="0.85" fill="#858585" fill-opacity="0.5"/>
<circle cx="542.45" cy="291.64" r="0.85" fill="#858585" fill-opacity="0.5"/>
<circle cx="545.52" cy="295.71" r="0.85" fill="#858585" fill-opacity="0.5"/>
<circle cx="545.81" cy="298.59" r="0.85" fill="#858585" fill-opacity="0.5"/>
<circle cx="545.95" cy="298.24" r="0.85" fill="#858585" fill-opacity="0.5"/>
<circle cx="544.01" cy="292.52" r="0.85" fill="#858585" fill-opacity="0.5"/>
<circle cx="545.54" cy="291.82" r="0.85" fill="#858585" fill-opacity="0.5"/>
<circle cx="545.98" cy="298.78" r="0.85" fill="#858585" fill-opacity="0.5"/>
<circle cx="544.46" cy="295.05" r="0.85" fill="#858585" fill-opacity="0.5"/>
<circle cx="545.52" cy="293.97" r="0.85" fill="#858585" fill-opacity="0.5"/>
<circle cx="545.23" cy="296.76" r="0.85" fill="#858585" fill-opacity="0.5"/>
<circle cx="543.75" cy="293.16" r="0.85" fill="#858585" fill-opacity="0.5"/>
<circle cx="545.68" cy="295.52" r="0.85" fill="#858585" fill-opacity="0.5"/>
<circle cx="545.77" cy="292.41" r="0.85" fill="#858585" fill-opacity="0.5"/>
<circle cx="542.26" cy="297.68" r="0.85" fill="#858585" fill-opacity="0.5"/>
<circle cx="545.86" cy="291.90" r="0.85" fill="#858585" fill-opacity="0.5"/>
<circle cx="544.62" cy="294.28" r="0.85" fill="#858585" fill-opacity="0.5"/>
<circle cx="546.32" cy="294.24" r="0.85" fill="#858585" fill-opacity="0.5"/>
<circle cx="545.87" cy="294.59" r="0.85" fill="#858585" fill-opacity="0.5"/>
<circle cx="551.60" cy="298.62" r="0.85" fill="#858585" fill-opacity="0.5"/>
<circle cx="551.25" cy="294.97" r="0.85" fill="#858585" fill-opacity="0.5"/>
<circle cx="553.12" cy="302.88" r="0.85" fill="#858585" fill-opacity="0.5"/>
<circle cx="550.98" cy="301.30" r="0.85" fill="#858585" fill-opacity="0.5"/>
<circle cx="550.49" cy="309.42" r="0.85" fill="#858585" fill-opacity="0.5"/>
<circle cx="553.05" cy="296.21" r="0.85" fill="#858585" fill-opacity="0.5"/>
<circle cx="551.39" cy="303.01" r="0.85" fill="#858585" fill-opacity="0.5"/>
<circle cx="553.40" cy="300.36" r="0.85" fill="#858585" fill-opacity="0.5"/>
<circle cx="551.74" cy="303.68" r="0.85" fill="#858585" fill-opacity="0.5"/>
<circle cx="551.96" cy="300.77" r="0.85" fill="#858585" fill-opacity="0.5"/>
<circle cx="552.99" cy="303.66" r="0.85" fill="#858585" fill-opacity="0.5"/>
<circle cx="549.28" cy="299.21" r="0.85" fill="#858585" fill-opacity="0.5"/>
<circle cx="554.36" cy="308.31" r="0.85" fill="#858585" fill-opacity="0.5"/>
<circle cx="550.58" cy="305.01" r="0.85" fill="#858585" fill-opacity="0.5"/>
<circle cx="551.52" cy="303.24" r="0.85" fill="#858585" fill-opacity="0.5"/>
<circle cx="551.98" cy="301.36" r="0.85" fill="#858585" fill-opacity="0.5"/>
<circle cx="553.48" cy="298.48" r="0.85" fill="#858585" fill-opacity="0.5"/>
<circle cx="549.16" cy="304.81" r="0.85" fill="#858585" fill-opacity="0.5"/>
<circle cx="552.65" cy="307.55" r="0.85" fill="#858585" fill-opacity="0.5"/>
<circle cx="554.36" cy="299.92" r="0.85" fill="#858585" fill-opacity="0.5"/>
<circle cx="551.14" cy="304.24" r="0.85" fill="#858585" fill-opacity="0.5"/>
<circle cx="551.85" cy="307.36" r="0.85" fill="#858585" fill-opacity="0.5"/>
<circle cx="549.16" cy="294.17" r="0.85" fill="#858585" fill-opacity="0.5"/>
<circle cx="550.63" cy="301.88" r="0.85" fill="#858585" fill-opacity="0.5"/>
<circle cx="552.21" cy="301.29" r="0.85" fill="#858585" fill-opacity="0.5"/>
<circle cx="552.01" cy="306.31" r="0.85" fill="#858585" fill-opacity="0.5"/>
<circle cx="553.36" cy="300.24" r="0.85" fill="#858585" fill-opacity="0.5"/>
<circle cx="550.96" cy="299.36" r="0.85" fill="#858585" fill-opacity="0.5"/>
<circle cx="552.34" cy="303.86" r="0.85" fill="#858585" fill-opacity="0.5"/>
<circle cx="551.22" cy="297.16" r="0.85" fill="#858585" fill-opacity="0.5"/>
<circle cx="551.87" cy="302.78" r="0.85" fill="#858585" fill-opacity="0.5"/>
<circle cx="552.32" cy="297.47" r="0.85" fill="#858585" fill-opacity="0.5"/>
<circle cx="552.84" cy="302.54" r="0.85" fill="#858585" fill-opacity="0.5"/>
<circle cx="552.43" cy="303.71" r="0.85" fill="#858585" fill-opacity="0.5"/>
<circle cx="551.52" cy="303.98" r="0.85" fill="#858585" fill-opacity="0.5"/>
<circle cx="553.66" cy="298.54" r="0.85" fill="#858585" fill-opacity="0.5"/>
<circle cx="553.20" cy="299.53" r="0.85" fill="#858585" fill-opacity="0.5"/>
<circle cx="549.63" cy="297.43" r="0.85" fill="#858585" fill-opacity="0.5"/>
<circle cx="550.22" cy="304.34" r="0.85" fill="#858585" fill-opacity="0.5"/>
<circle cx="550.41" cy="305.38" r="0.85" fill="#858585" fill-opacity="0.5"/>
<circle cx="553.13" cy="302.49" r="0.85" fill="#858585" fill-opacity="0.5"/>
<circle cx="549.16" cy="306.67" r="0.85" fill="#858585" fill-opacity="0.5"/>
<circle cx="549.62" cy="302.87" r="0.85" fill="#858585" fill-opacity="0.5"/>
<circle cx="549.44" cy="303.21" r="0.85" fill="#858585" fill-opacity="0.5"/>
<circle cx="550.95" cy="297.15" r="0.85" fill="#858585" fill-opacity="0.5"/>
<circle cx="551.60" cy="300.71" r="0.85" fill="#858585" fill-opacity="0.5"/>
<circle cx="551.81" cy="305.09" r="0.85" fill="#858585" fill-opacity="0.5"/>
<circle cx="549.52" cy="302.13" r="0.85" fill="#858585" fill-opacity="0.5"/>
<circle cx="552.07" cy="301.87" r="0.85" fill="#858585" fill-opacity="0.5"/>
<circle cx="551.78" cy="298.59" r="0.85" fill="#858585" fill-opacity="0.5"/>
<circle cx="552.97" cy="300.81" r="0.85" fill="#858585" fill-opacity="0.5"/>
<circle cx="553.17" cy="319.53" r="0.85" fill="#858585" fill-opacity="0.5"/>
<circle cx="552.76" cy="302.32" r="0.85" fill="#858585" fill-opacity="0.5"/>
<circle cx="550.81" cy="301.67" r="0.85" fill="#858585" fill-opacity="0.5"/>
<circle cx="549.18" cy="305.55" r="0.85" fill="#858585" fill-opacity="0.5"/>
<circle cx="550.99" cy="300.11" r="0.85" fill="#858585" fill-opacity="0.5"/>
<circle cx="552.05" cy="303.13" r="0.85" fill="#858585" fill-opacity="0.5"/>
<circle cx="551.80" cy="302.21" r="0.85" fill="#858585" fill-opacity="0.5"/>
<circle cx="552.73" cy="295.76" r="0.85" fill="#858585" fill-opacity="0.5"/>
<circle cx="553.50" cy="299.39" r="0.85" fill="#858585" fill-opacity="0.5"/>
<circle cx="552.70" cy="302.88" r="0.85" fill="#858585" fill-opacity="0.5"/>
<circle cx="551.32" cy="301.44" r="0.85" fill="#858585" fill-opacity="0.5"/>
<circle cx="549.16" cy="303.24" r="0.85" fill="#858585" fill-opacity="0.5"/>
<circle cx="551.39" cy="301.31" r="0.85" fill="#858585" fill-opacity="0.5"/>
<circle cx="551.95" cy="303.24" r="0.85" fill="#858585" fill-opacity="0.5"/>
<circle cx="552.36" cy="309.11" r="0.85" fill="#858585" fill-opacity="0.5"/>
<circle cx="551.43" cy="299.46" r="0.85" fill="#858585" fill-opacity="0.5"/>
<circle cx="553.35" cy="296.55" r="0.85" fill="#858585" fill-opacity="0.5"/>
<circle cx="552.92" cy="303.02" r="0.85" fill="#858585" fill-opacity="0.5"/>
<circle cx="551.79" cy="303.33" r="0.85" fill="#858585" fill-opacity="0.5"/>
<circle cx="556.48" cy="310.49" r="0.85" fill="#858585" fill-opacity="0.5"/>
<circle cx="557.30" cy="298.49" r="0.85" fill="#858585" fill-opacity="0.5"/>
<circle cx="556.59" cy="301.85" r="0.85" fill="#858585" fill-opacity="0.5"/>
<circle cx="558.71" cy="301.97" r="0.85" fill="#858585" fill-opacity="0.5"/>
<circle cx="556.80" cy="306.40" r="0.85" fill="#858585" fill-opacity="0.5"/>
<circle cx="558.13" cy="302.50" r="0.85" fill="#858585" fill-opacity="0.5"/>
<circle cx="558.00" cy="301.94" r="0.85" fill="#858585" fill-opacity="0.5"/>
<circle cx="557.94" cy="292.74" r="0.85" fill="#858585" fill-opacity="0.5"/>
<circle cx="557.98" cy="301.18" r="0.85" fill="#858585" fill-opacity="0.5"/>
<circle cx="560.10" cy="303.66" r="0.85" fill="#858585" fill-opacity="0.5"/>
<circle cx="558.60" cy="297.10" r="0.85" fill="#858585" fill-opacity="0.5"/>
<circle cx="558.35" cy="308.99" r="0.85" fill="#858585" fill-opacity="0.5"/>
<circle cx="559.07" cy="296.66" r="0.85" fill="#858585" fill-opacity="0.5"/>
<circle cx="559.37" cy="301.35" r="0.85" fill="#858585" fill-opacity="0.5"/>
<circle cx="558.93" cy="298.71" r="0.85" fill="#858585" fill-opacity="0.5"/>
<circle cx="560.08" cy="303.57" r="0.85" fill="#858585" fill-opacity="0.5"/>
<circle cx="558.73" cy="298.25" r="0.85" fill="#858585" fill-opacity="0.5"/>
<circle cx="557.49" cy="300.21" r="0.85" fill="#858585" fill-opacity="0.5"/>
<circle cx="559.35" cy="299.04" r="0.85" fill="#858585" fill-opacity="0.5"/>
<circle cx="559.78" cy="302.60" r="0.85" fill="#858585" fill-opacity="0.5"/>
<circle cx="556.89" cy="299.01" r="0.85" fill="#858585" fill-opacity="0.5"/>
<circle cx="559.75" cy="300.60" r="0.85" fill="#858585" fill-opacity="0.5"/>
<circle cx="557.67" cy="296.28" r="0.85" fill="#858585" fill-opacity="0.5"/>
<circle cx="558.72" cy="299.97" r="0.85" fill="#858585" fill-opacity="0.5"/>
<circle cx="558.44" cy="301.12" r="0.85" fill="#858585" fill-opacity="0.5"/>
<circle cx="558.15" cy="296.95" r="0.85" fill="#858585" fill-opacity="0.5"/>
<circle cx="557.86" cy="298.95" r="0.85" fill="#858585" fill-opacity="0.5"/>
<circle cx="557.17" cy="296.84" r="0.85" fill="#858585" fill-opacity="0.5"/>
<circle cx="558.59" cy="304.01" r="0.85" fill="#858585" fill-opacity="0.5"/>
<circle cx="557.46" cy="299.16" r="0.85" fill="#858585" fill-opacity="0.5"/>
<circle cx="557.98" cy="301.24" r="0.85" fill="#858585" fill-opacity="0.5"/>
<circle cx="561.01" cy="305.10" r="0.85" fill="#858585" fill-opacity="0.5"/>
<circle cx="557.10" cy="298.90" r="0.85" fill="#858585" fill-opacity="0.5"/>
<circle cx="558.84" cy="301.04" r="0.85" fill="#858585" fill-opacity="0.5"/>
<circle cx="559.77" cy="299.70" r="0.85" fill="#858585" fill-opacity="0.5"/>
<circle cx="560.19" cy="298.92" r="0.85" fill="#858585" fill-opacity="0.5"/>
<circle cx="557.96" cy="298.60" r="0.85" fill="#858585" fill-opacity="0.5"/>
<circle cx="559.41" cy="302.51" r="0.85" fill="#858585" fill-opacity="0.5"/>
<circle cx="558.33" cy="303.50" r="0.85" fill="#858585" fill-opacity="0.5"/>
<circle cx="560.53" cy="299.77" r="0.85" fill="#858585" fill-opacity="0.5"/>
<circle cx="559.59" cy="302.03" r="0.85" fill="#858585" fill-opacity="0.5"/>
<circle cx="559.57" cy="299.14" r="0.85" fill="#858585" fill-opacity="0.5"/>
<circle cx="560.37" cy="302.80" r="0.85" fill="#858585" fill-opacity="0.5"/>
<circle cx="559.69" cy="295.29" r="0.85" fill="#858585" fill-opacity="0.5"/>
<circle cx="558.91" cy="304.29" r="0.85" fill="#858585" fill-opacity="0.5"/>
<circle cx="559.12" cy="302.18" r="0.85" fill="#858585" fill-opacity="0.5"/>
<circle cx="560.93" cy="303.40" r="0.85" fill="#858585" fill-opacity="0.5"/>
<circle cx="560.95" cy="300.54" r="0.85" fill="#858585" fill-opacity="0.5"/>
<circle cx="557.85" cy="298.34" r="0.85" fill="#858585" fill-opacity="0.5"/>
<circle cx="558.76" cy="302.03" r="0.85" fill="#858585" fill-opacity="0.5"/>
<circle cx="558.63" cy="309.12" r="0.85" fill="#858585" fill-opacity="0.5"/>
<circle cx="557.86" cy="303.41" r="0.85" fill="#858585" fill-opacity="0.5"/>
<circle cx="557.78" cy="301.15" r="0.85" fill="#858585" fill-opacity="0.5"/>
<circle cx="559.25" cy="306.81" r="0.85" fill="#858585" fill-opacity="0.5"/>
<circle cx="559.41" cy="301.80" r="0.85" fill="#858585" fill-opacity="0.5"/>
<circle cx="558.41" cy="297.45" r="0.85" fill="#858585" fill-opacity="0.5"/>
<circle cx="557.36" cy="305.03" r="0.85" fill="#858585" fill-opacity="0.5"/>
<circle cx="558.49" cy="299.90" r="0.85" fill="#858585" fill-opacity="0.5"/>
<circle cx="558.35" cy="302.46" r="0.85" fill="#858585" fill-opacity="0.5"/>
<circle cx="558.76" cy="301.69" r="0.85" fill="#858585" fill-opacity="0.5"/>
<circle cx="560.11" cy="298.84" r="0.85" fill="#858585" fill-opacity="0.5"/>
<circle cx="559.23" cy="300.72" r="0.85" fill="#858585" fill-opacity="0.5"/>
<circle cx="559.62" cy="305.92" r="0.85" fill="#858585" fill-opacity="0.5"/>
<circle cx="561.11" cy="306.38" r="0.85" fill="#858585" fill-opacity="0.5"/>
<circle cx="558.99" cy="300.40" r="0.85" fill="#858585" fill-opacity="0.5"/>
<circle cx="557.21" cy="296.78" r="0.85" fill="#858585" fill-opacity="0.5"/>
<circle cx="560.46" cy="310.46" r="0.85" fill="#858585" fill-opacity="0.5"/>
<circle cx="558.19" cy="301.61" r="0.85" fill="#858585" fill-opacity="0.5"/>
<circle cx="560.51" cy="298.00" r="0.85" fill="#858585" fill-opacity="0.5"/>
<circle cx="559.45" cy="298.03" r="0.85" fill="#858585" fill-opacity="0.5"/>
<circle cx="564.79" cy="307.24" r="0.85" fill="#858585" fill-opacity="0.5"/>
<circle cx="565.95" cy="309.54" r="0.85" fill="#858585" fill-opacity="0.5"/>
<circle cx="566.11" cy="309.42" r="0.85" fill="#858585" fill-opacity="0.5"/>
<circle cx="565.86" cy="306.31" r="0.85" fill="#858585" fill-opacity="0.5"/>
<circle cx="566.90" cy="306.85" r="0.85" fill="#858585" fill-opacity="0.5"/>
<circle cx="564.98" cy="313.09" r="0.85" fill="#858585" fill-opacity="0.5"/>
<circle cx="566.94" cy="312.26" r="0.85" fill="#858585" fill-opacity="0.5"/>
<circle cx="567.88" cy="309.29" r="0.85" fill="#858585" fill-opacity="0.5"/>
<circle cx="565.90" cy="306.08" r="0.85" fill="#858585" fill-opacity="0.5"/>
<circle cx="565.23" cy="312.17" r="0.85" fill="#858585" fill-opacity="0.5"/>
<circle cx="564.44" cy="304.64" r="0.85" fill="#858585" fill-opacity="0.5"/>
<circle cx="564.50" cy="305.28" r="0.85" fill="#858585" fill-opacity="0.5"/>
<circle cx="562.96" cy="322.95" r="0.85" fill="#858585" fill-opacity="0.5"/>
<circle cx="563.50" cy="310.72" r="0.85" fill="#858585" fill-opacity="0.5"/>
<circle cx="564.15" cy="312.29" r="0.85" fill="#858585" fill-opacity="0.5"/>
<circle cx="564.56" cy="306.73" r="0.85" fill="#858585" fill-opacity="0.5"/>
<circle cx="565.20" cy="305.96" r="0.85" fill="#858585" fill-opacity="0.5"/>
<circle cx="567.46" cy="311.91" r="0.85" fill="#858585" fill-opacity="0.5"/>
<circle cx="565.83" cy="309.85" r="0.85" fill="#858585" fill-opacity="0.5"/>
<circle cx="565.12" cy="307.50" r="0.85" fill="#858585" fill-opacity="0.5"/>
<circle cx="565.16" cy="301.97" r="0.85" fill="#858585" fill-opacity="0.5"/>
<circle cx="563.84" cy="308.19" r="0.85" fill="#858585" fill-opacity="0.5"/>
<circle cx="565.73" cy="307.22" r="0.85" fill="#858585" fill-opacity="0.5"/>
<circle cx="565.25" cy="311.71" r="0.85" fill="#858585" fill-opacity="0.5"/>
<circle cx="567.48" cy="307.80" r="0.85" fill="#858585" fill-opacity="0.5"/>
<circle cx="567.06" cy="312.63" r="0.85" fill="#858585" fill-opacity="0.5"/>
<circle cx="564.44" cy="307.40" r="0.85" fill="#858585" fill-opacity="0.5"/>
<circle cx="564.71" cy="316.29" r="0.85" fill="#858585" fill-opacity="0.5"/>
<circle cx="565.63" cy="308.62" r="0.85" fill="#858585" fill-opacity="0.5"/>
<circle cx="563.86" cy="306.92" r="0.85" fill="#858585" fill-opacity="0.5"/>
<circle cx="564.59" cy="305.79" r="0.85" fill="#858585" fill-opacity="0.5"/>
<circle cx="565.84" cy="303.44" r="0.85" fill="#858585" fill-opacity="0.5"/>
<circle cx="566.79" cy="307.32" r="0.85" fill="#858585" fill-opacity="0.5"/>
<circle cx="566.00" cy="311.75" r="0.85" fill="#858585" fill-opacity="0.5"/>
<circle cx="566.22" cy="307.08" r="0.85" fill="#858585" fill-opacity="0.5"/>
<circle cx="565.72" cy="305.74" r="0.85" fill="#858585" fill-opacity="0.5"/>
<circle cx="566.28" cy="306.83" r="0.85" fill="#858585" fill-opacity="0.5"/>
<circle cx="566.89" cy="304.18" r="0.85" fill="#858585" fill-opacity="0.5"/>
<circle cx="565.36" cy="312.78" r="0.85" fill="#858585" fill-opacity="0.5"/>
<circle cx="568.16" cy="307.83" r="0.85" fill="#858585" fill-opacity="0.5"/>
<circle cx="566.27" cy="307.79" r="0.85" fill="#858585" fill-opacity="0.5"/>
<circle cx="566.74" cy="306.97" r="0.85" fill="#858585" fill-opacity="0.5"/>
<circle cx="565.22" cy="309.41" r="0.85" fill="#858585" fill-opacity="0.5"/>
<circle cx="562.96" cy="305.53" r="0.85" fill="#858585" fill-opacity="0.5"/>
<circle cx="564.00" cy="311.16" r="0.85" fill="#858585" fill-opacity="0.5"/>
<circle cx="564.31" cy="304.40" r="0.85" fill="#858585" fill-opacity="0.5"/>
<circle cx="566.42" cy="304.63" r="0.85" fill="#858585" fill-opacity="0.5"/>
<circle cx="566.57" cy="305.77" r="0.85" fill="#858585" fill-opacity="0.5"/>
<circle cx="565.57" cy="307.02" r="0.85" fill="#858585" fill-opacity="0.5"/>
<circle cx="565.31" cy="310.74" r="0.85" fill="#858585" fill-opacity="0.5"/>
<circle cx="562.96" cy="307.23" r="0.85" fill="#858585" fill-opacity="0.5"/>
<circle cx="564.67" cy="308.97" r="0.85" fill="#858585" fill-opacity="0.5"/>
<circle cx="568.16" cy="308.02" r="0.85" fill="#858585" fill-opacity="0.5"/>
<circle cx="566.93" cy="309.08" r="0.85" fill="#858585" fill-opacity="0.5"/>
<circle cx="567.15" cy="308.16" r="0.85" fill="#858585" fill-opacity="0.5"/>
<circle cx="565.43" cy="305.00" r="0.85" fill="#858585" fill-opacity="0.5"/>
<circle cx="564.52" cy="307.82" r="0.85" fill="#858585" fill-opacity="0.5"/>
<circle cx="563.15" cy="308.28" r="0.85" fill="#858585" fill-opacity="0.5"/>
<circle cx="566.11" cy="308.77" r="0.85" fill="#858585" fill-opacity="0.5"/>
<circle cx="562.96" cy="329.76" r="0.85" fill="#858585" fill-opacity="0.5"/>
<circle cx="564.09" cy="310.65" r="0.85" fill="#858585" fill-opacity="0.5"/>
<circle cx="566.32" cy="313.13" r="0.85" fill="#858585" fill-opacity="0.5"/>
<circle cx="563.69" cy="296.22" r="0.85" fill="#858585" fill-opacity="0.5"/>
<circle cx="565.65" cy="305.12" r="0.85" fill="#858585" fill-opacity="0.5"/>
<circle cx="564.56" cy="313.82" r="0.85" fill="#858585" fill-opacity="0.5"/>
<circle cx="567.32" cy="307.77" r="0.85" fill="#858585" fill-opacity="0.5"/>
<circle cx="566.94" cy="302.21" r="0.85" fill="#858585" fill-opacity="0.5"/>
<circle cx="567.03" cy="306.43" r="0.85" fill="#858585" fill-opacity="0.5"/>
<circle cx="565.96" cy="311.76" r="0.85" fill="#858585" fill-opacity="0.5"/>
<circle cx="566.37" cy="306.12" r="0.85" fill="#858585" fill-opacity="0.5"/>
<circle cx="583.30" cy="294.63" r="0.85" fill="#858585" fill-opacity="0.5"/>
<circle cx="582.56" cy="293.16" r="0.85" fill="#858585" fill-opacity="0.5"/>
<circle cx="579.54" cy="290.96" r="0.85" fill="#858585" fill-opacity="0.5"/>
<circle cx="583.63" cy="288.46" r="0.85" fill="#858585" fill-opacity="0.5"/>
<circle cx="583.12" cy="291.11" r="0.85" fill="#858585" fill-opacity="0.5"/>
<circle cx="579.92" cy="300.28" r="0.85" fill="#858585" fill-opacity="0.5"/>
<circle cx="581.90" cy="294.11" r="0.85" fill="#858585" fill-opacity="0.5"/>
<circle cx="581.76" cy="290.48" r="0.85" fill="#858585" fill-opacity="0.5"/>
<circle cx="582.18" cy="302.84" r="0.85" fill="#858585" fill-opacity="0.5"/>
<circle cx="581.65" cy="289.31" r="0.85" fill="#858585" fill-opacity="0.5"/>
<circle cx="582.14" cy="284.88" r="0.85" fill="#858585" fill-opacity="0.5"/>
<circle cx="581.53" cy="298.31" r="0.85" fill="#858585" fill-opacity="0.5"/>
<circle cx="582.33" cy="307.82" r="0.85" fill="#858585" fill-opacity="0.5"/>
<circle cx="582.65" cy="288.34" r="0.85" fill="#858585" fill-opacity="0.5"/>
<circle cx="582.47" cy="290.48" r="0.85" fill="#858585" fill-opacity="0.5"/>
<circle cx="580.34" cy="291.89" r="0.85" fill="#858585" fill-opacity="0.5"/>
<circle cx="580.32" cy="290.71" r="0.85" fill="#858585" fill-opacity="0.5"/>
<circle cx="584.12" cy="304.44" r="0.85" fill="#858585" fill-opacity="0.5"/>
<circle cx="580.39" cy="288.86" r="0.85" fill="#858585" fill-opacity="0.5"/>
<circle cx="580.33" cy="291.44" r="0.85" fill="#858585" fill-opacity="0.5"/>
<circle cx="581.16" cy="296.60" r="0.85" fill="#858585" fill-opacity="0.5"/>
<circle cx="579.37" cy="288.89" r="0.85" fill="#858585" fill-opacity="0.5"/>
<circle cx="579.85" cy="285.13" r="0.85" fill="#858585" fill-opacity="0.5"/>
<circle cx="581.10" cy="294.34" r="0.85" fill="#858585" fill-opacity="0.5"/>
<circle cx="581.67" cy="293.41" r="0.85" fill="#858585" fill-opacity="0.5"/>
<circle cx="581.20" cy="296.76" r="0.85" fill="#858585" fill-opacity="0.5"/>
<circle cx="580.46" cy="303.24" r="0.85" fill="#858585" fill-opacity="0.5"/>
<circle cx="581.81" cy="288.70" r="0.85" fill="#858585" fill-opacity="0.5"/>
<circle cx="580.75" cy="288.93" r="0.85" fill="#858585" fill-opacity="0.5"/>
<circle cx="580.21" cy="299.75" r="0.85" fill="#858585" fill-opacity="0.5"/>
<circle cx="581.84" cy="288.55" r="0.85" fill="#858585" fill-opacity="0.5"/>
<circle cx="580.56" cy="293.70" r="0.85" fill="#858585" fill-opacity="0.5"/>
<circle cx="582.52" cy="290.02" r="0.85" fill="#858585" fill-opacity="0.5"/>
<circle cx="581.36" cy="287.72" r="0.85" fill="#858585" fill-opacity="0.5"/>
<circle cx="580.58" cy="295.47" r="0.85" fill="#858585" fill-opacity="0.5"/>
<circle cx="579.56" cy="287.83" r="0.85" fill="#858585" fill-opacity="0.5"/>
<circle cx="581.12" cy="298.00" r="0.85" fill="#858585" fill-opacity="0.5"/>
<circle cx="583.26" cy="288.63" r="0.85" fill="#858585" fill-opacity="0.5"/>
<circle cx="582.21" cy="289.72" r="0.85" fill="#858585" fill-opacity="0.5"/>
<circle cx="584.12" cy="284.67" r="0.85" fill="#858585" fill-opacity="0.5"/>
<circle cx="580.45" cy="292.31" r="0.85" fill="#858585" fill-opacity="0.5"/>
<circle cx="584.12" cy="289.37" r="0.85" fill="#858585" fill-opacity="0.5"/>
<circle cx="580.34" cy="292.32" r="0.85" fill="#858585" fill-opacity="0.5"/>
<circle cx="582.88" cy="294.37" r="0.85" fill="#858585" fill-opacity="0.5"/>
<circle cx="579.48" cy="291.56" r="0.85" fill="#858585" fill-opacity="0.5"/>
<circle cx="580.85" cy="289.08" r="0.85" fill="#858585" fill-opacity="0.5"/>
<circle cx="581.86" cy="291.77" r="0.85" fill="#858585" fill-opacity="0.5"/>
<circle cx="578.99" cy="295.28" r="0.85" fill="#858585" fill-opacity="0.5"/>
<circle cx="580.88" cy="287.72" r="0.85" fill="#858585" fill-opacity="0.5"/>
<circle cx="581.15" cy="303.04" r="0.85" fill="#858585" fill-opacity="0.5"/>
<circle cx="581.56" cy="286.42" r="0.85" fill="#858585" fill-opacity="0.5"/>
<circle cx="582.11" cy="292.62" r="0.85" fill="#858585" fill-opacity="0.5"/>
<circle cx="582.53" cy="309.01" r="0.85" fill="#858585" fill-opacity="0.5"/>
<circle cx="581.14" cy="291.12" r="0.85" fill="#858585" fill-opacity="0.5"/>
<circle cx="581.53" cy="288.91" r="0.85" fill="#858585" fill-opacity="0.5"/>
<circle cx="582.70" cy="302.91" r="0.85" fill="#858585" fill-opacity="0.5"/>
<circle cx="581.57" cy="297.36" r="0.85" fill="#858585" fill-opacity="0.5"/>
<circle cx="581.98" cy="288.18" r="0.85" fill="#858585" fill-opacity="0.5"/>
<circle cx="581.36" cy="293.05" r="0.85" fill="#858585" fill-opacity="0.5"/>
<circle cx="580.91" cy="290.95" r="0.85" fill="#858585" fill-opacity="0.5"/>
<circle cx="581.32" cy="292.22" r="0.85" fill="#858585" fill-opacity="0.5"/>
<circle cx="580.77" cy="292.58" r="0.85" fill="#858585" fill-opacity="0.5"/>
<circle cx="580.22" cy="286.04" r="0.85" fill="#858585" fill-opacity="0.5"/>
<circle cx="581.85" cy="292.23" r="0.85" fill="#858585" fill-opacity="0.5"/>
<circle cx="580.86" cy="291.58" r="0.85" fill="#858585" fill-opacity="0.5"/>
<circle cx="580.94" cy="284.85" r="0.85" fill="#858585" fill-opacity="0.5"/>
<circle cx="582.59" cy="289.49" r="0.85" fill="#858585" fill-opacity="0.5"/>
<circle cx="582.49" cy="291.49" r="0.85" fill="#858585" fill-opacity="0.5"/>
<circle cx="581.18" cy="295.33" r="0.85" fill="#858585" fill-opacity="0.5"/>
<circle cx="581.19" cy="292.44" r="0.85" fill="#858585" fill-opacity="0.5"/>
<circle cx="588.37" cy="288.89" r="0.85" fill="#858585" fill-opacity="0.5"/>
<circle cx="589.38" cy="294.60" r="0.85" fill="#858585" fill-opacity="0.5"/>
<circle cx="589.24" cy="291.65" r="0.85" fill="#858585" fill-opacity="0.5"/>
<circle cx="589.28" cy="289.07" r="0.85" fill="#858585" fill-opacity="0.5"/>
<circle cx="588.43" cy="291.85" r="0.85" fill="#858585" fill-opacity="0.5"/>
<circle cx="587.86" cy="288.33" r="0.85" fill="#858585" fill-opacity="0.5"/>
<circle cx="588.14" cy="288.70" r="0.85" fill="#858585" fill-opacity="0.5"/>
<circle cx="590.69" cy="292.81" r="0.85" fill="#858585" fill-opacity="0.5"/>
<circle cx="588.21" cy="290.31" r="0.85" fill="#858585" fill-opacity="0.5"/>
<circle cx="590.30" cy="298.43" r="0.85" fill="#858585" fill-opacity="0.5"/>
<circle cx="589.73" cy="292.85" r="0.85" fill="#858585" fill-opacity="0.5"/>
<circle cx="590.64" cy="288.89" r="0.85" fill="#858585" fill-opacity="0.5"/>
<circle cx="588.64" cy="292.79" r="0.85" fill="#858585" fill-opacity="0.5"/>
<circle cx="587.89" cy="290.53" r="0.85" fill="#858585" fill-opacity="0.5"/>
<circle cx="588.83" cy="289.53" r="0.85" fill="#858585" fill-opacity="0.5"/>
<circle cx="587.59" cy="291.30" r="0.85" fill="#858585" fill-opacity="0.5"/>
<circle cx="591.02" cy="287.17" r="0.85" fill="#858585" fill-opacity="0.5"/>
<circle cx="588.38" cy="292.45" r="0.85" fill="#858585" fill-opacity="0.5"/>
<circle cx="588.43" cy="287.00" r="0.85" fill="#858585" fill-opacity="0.5"/>
<circle cx="587.16" cy="289.01" r="0.85" fill="#858585" fill-opacity="0.5"/>
<circle cx="589.08" cy="291.25" r="0.85" fill="#858585" fill-opacity="0.5"/>
<circle cx="588.22" cy="294.36" r="0.85" fill="#858585" fill-opacity="0.5"/>
<circle cx="587.52" cy="294.25" r="0.85" fill="#858585" fill-opacity="0.5"/>
<circle cx="588.95" cy="284.29" r="0.85" fill="#858585" fill-opacity="0.5"/>
<circle cx="587.15" cy="292.74" r="0.85" fill="#858585" fill-opacity="0.5"/>
<circle cx="588.15" cy="290.27" r="0.85" fill="#858585" fill-opacity="0.5"/>
<circle cx="589.06" cy="292.20" r="0.85" fill="#858585" fill-opacity="0.5"/>
<circle cx="588.62" cy="304.68" r="0.85" fill="#858585" fill-opacity="0.5"/>
<circle cx="587.95" cy="289.32" r="0.85" fill="#858585" fill-opacity="0.5"/>
<circle cx="588.33" cy="285.29" r="0.85" fill="#858585" fill-opacity="0.5"/>
<circle cx="590.01" cy="289.24" r="0.85" fill="#858585" fill-opacity="0.5"/>
<circle cx="590.08" cy="288.62" r="0.85" fill="#858585" fill-opacity="0.5"/>
<circle cx="587.66" cy="286.85" r="0.85" fill="#858585" fill-opacity="0.5"/>
<circle cx="588.48" cy="288.73" r="0.85" fill="#858585" fill-opacity="0.5"/>
<circle cx="586.82" cy="284.59" r="0.85" fill="#858585" fill-opacity="0.5"/>
<circle cx="589.35" cy="289.15" r="0.85" fill="#858585" fill-opacity="0.5"/>
<circle cx="588.05" cy="295.57" r="0.85" fill="#858585" fill-opacity="0.5"/>
<circle cx="588.95" cy="288.76" r="0.85" fill="#858585" fill-opacity="0.5"/>
<circle cx="589.12" cy="290.63" r="0.85" fill="#858585" fill-opacity="0.5"/>
<circle cx="588.65" cy="312.14" r="0.85" fill="#858585" fill-opacity="0.5"/>
<circle cx="588.56" cy="292.51" r="0.85" fill="#858585" fill-opacity="0.5"/>
<circle cx="588.19" cy="293.73" r="0.85" fill="#858585" fill-opacity="0.5"/>
<circle cx="590.62" cy="287.99" r="0.85" fill="#858585" fill-opacity="0.5"/>
<circle cx="588.55" cy="292.55" r="0.85" fill="#858585" fill-opacity="0.5"/>
<circle cx="591.02" cy="287.63" r="0.85" fill="#858585" fill-opacity="0.5"/>
<circle cx="589.53" cy="284.68" r="0.85" fill="#858585" fill-opacity="0.5"/>
<circle cx="587.13" cy="290.18" r="0.85" fill="#858585" fill-opacity="0.5"/>
<circle cx="588.11" cy="292.88" r="0.85" fill="#858585" fill-opacity="0.5"/>
<circle cx="588.58" cy="291.41" r="0.85" fill="#858585" fill-opacity="0.5"/>
<circle cx="588.46" cy="292.54" r="0.85" fill="#858585" fill-opacity="0.5"/>
<circle cx="588.76" cy="290.24" r="0.85" fill="#858585" fill-opacity="0.5"/>
<circle cx="588.65" cy="290.18" r="0.85" fill="#858585" fill-opacity="0.5"/>
<circle cx="589.77" cy="294.64" r="0.85" fill="#858585" fill-opacity="0.5"/>
<circle cx="588.04" cy="288.87" r="0.85" fill="#858585" fill-opacity="0.5"/>
<circle cx="588.05" cy="294.21" r="0.85" fill="#858585" fill-opacity="0.5"/>
<circle cx="586.46" cy="288.60" r="0.85" fill="#858585" fill-opacity="0.5"/>
<circle cx="589.05" cy="285.81" r="0.85" fill="#858585" fill-opacity="0.5"/>
<circle cx="590.26" cy="291.68" r="0.85" fill="#858585" fill-opacity="0.5"/>
<circle cx="586.41" cy="293.23" r="0.85" fill="#858585" fill-opacity="0.5"/>
<circle cx="589.05" cy="290.27" r="0.85" fill="#858585" fill-opacity="0.5"/>
<circle cx="588.41" cy="289.84" r="0.85" fill="#858585" fill-opacity="0.5"/>
<circle cx="590.20" cy="293.83" r="0.85" fill="#858585" fill-opacity="0.5"/>
<circle cx="588.44" cy="287.89" r="0.85" fill="#858585" fill-opacity="0.5"/>
<circle cx="591.02" cy="287.60" r="0.85" fill="#858585" fill-opacity="0.5"/>
<circle cx="590.56" cy="309.41" r="0.85" fill="#858585" fill-opacity="0.5"/>
<circle cx="588.81" cy="295.30" r="0.85" fill="#858585" fill-opacity="0.5"/>
<circle cx="588.61" cy="293.60" r="0.85" fill="#858585" fill-opacity="0.5"/>
<circle cx="587.68" cy="285.88" r="0.85" fill="#858585" fill-opacity="0.5"/>
<circle cx="586.25" cy="291.17" r="0.85" fill="#858585" fill-opacity="0.5"/>
<circle cx="588.05" cy="296.49" r="0.85" fill="#858585" fill-opacity="0.5"/>
<circle cx="594.36" cy="289.14" r="0.85" fill="#858585" fill-opacity="0.5"/>
<circle cx="592.74" cy="290.30" r="0.85" fill="#858585" fill-opacity="0.5"/>
<circle cx="594.34" cy="286.44" r="0.85" fill="#858585" fill-opacity="0.5"/>
<circle cx="594.53" cy="295.98" r="0.85" fill="#858585" fill-opacity="0.5"/>
<circle cx="596.64" cy="289.49" r="0.85" fill="#858585" fill-opacity="0.5"/>
<circle cx="594.40" cy="291.85" r="0.85" fill="#858585" fill-opacity="0.5"/>
<circle cx="595.85" cy="292.36" r="0.85" fill="#858585" fill-opacity="0.5"/>
<circle cx="596.08" cy="293.86" r="0.85" fill="#858585" fill-opacity="0.5"/>
<circle cx="594.44" cy="289.65" r="0.85" fill="#858585" fill-opacity="0.5"/>
<circle cx="595.69" cy="290.50" r="0.85" fill="#858585" fill-opacity="0.5"/>
<circle cx="595.84" cy="289.88" r="0.85" fill="#858585" fill-opacity="0.5"/>
<circle cx="595.41" cy="294.35" r="0.85" fill="#858585" fill-opacity="0.5"/>
<circle cx="597.70" cy="289.01" r="0.85" fill="#858585" fill-opacity="0.5"/>
<circle cx="596.58" cy="288.86" r="0.85" fill="#858585" fill-opacity="0.5"/>
<circle cx="594.65" cy="288.86" r="0.85" fill="#858585" fill-opacity="0.5"/>
<circle cx="596.98" cy="290.25" r="0.85" fill="#858585" fill-opacity="0.5"/>
<circle cx="594.57" cy="290.98" r="0.85" fill="#858585" fill-opacity="0.5"/>
<circle cx="594.54" cy="291.30" r="0.85" fill="#858585" fill-opacity="0.5"/>
<circle cx="594.52" cy="288.38" r="0.85" fill="#858585" fill-opacity="0.5"/>
<circle cx="595.82" cy="296.41" r="0.85" fill="#858585" fill-opacity="0.5"/>
<circle cx="596.40" cy="294.09" r="0.85" fill="#858585" fill-opacity="0.5"/>
<circle cx="596.39" cy="291.65" r="0.85" fill="#858585" fill-opacity="0.5"/>
<circle cx="594.89" cy="295.57" r="0.85" fill="#858585" fill-opacity="0.5"/>
<circle cx="595.61" cy="291.22" r="0.85" fill="#858585" fill-opacity="0.5"/>
<circle cx="593.32" cy="289.50" r="0.85" fill="#858585" fill-opacity="0.5"/>
<circle cx="595.11" cy="291.61" r="0.85" fill="#858585" fill-opacity="0.5"/>
<circle cx="595.97" cy="290.79" r="0.85" fill="#858585" fill-opacity="0.5"/>
<circle cx="596.10" cy="287.21" r="0.85" fill="#858585" fill-opacity="0.5"/>
<circle cx="594.18" cy="293.01" r="0.85" fill="#858585" fill-opacity="0.5"/>
<circle cx="595.27" cy="292.55" r="0.85" fill="#858585" fill-opacity="0.5"/>
<circle cx="594.33" cy="292.34" r="0.85" fill="#858585" fill-opacity="0.5"/>
<circle cx="596.09" cy="308.00" r="0.85" fill="#858585" fill-opacity="0.5"/>
<circle cx="593.39" cy="289.88" r="0.85" fill="#858585" fill-opacity="0.5"/>
<circle cx="595.21" cy="307.77" r="0.85" fill="#858585" fill-opacity="0.5"/>
<circle cx="593.19" cy="308.00" r="0.85" fill="#858585" fill-opacity="0.5"/>
<circle cx="595.47" cy="294.37" r="0.85" fill="#858585" fill-opacity="0.5"/>
<circle cx="596.38" cy="289.58" r="0.85" fill="#858585" fill-opacity="0.5"/>
<circle cx="596.96" cy="291.57" r="0.85" fill="#858585" fill-opacity="0.5"/>
<circle cx="593.41" cy="292.15" r="0.85" fill="#858585" fill-opacity="0.5"/>
<circle cx="595.71" cy="303.37" r="0.85" fill="#858585" fill-opacity="0.5"/>
<circle cx="592.72" cy="295.96" r="0.85" fill="#858585" fill-opacity="0.5"/>
<circle cx="596.16" cy="295.93" r="0.85" fill="#858585" fill-opacity="0.5"/>
<circle cx="594.25" cy="291.32" r="0.85" fill="#858585" fill-opacity="0.5"/>
<circle cx="596.74" cy="290.25" r="0.85" fill="#858585" fill-opacity="0.5"/>
<circle cx="595.00" cy="291.78" r="0.85" fill="#858585" fill-opacity="0.5"/>
<circle cx="595.22" cy="290.39" r="0.85" fill="#858585" fill-opacity="0.5"/>
<circle cx="594.11" cy="291.44" r="0.85" fill="#858585" fill-opacity="0.5"/>
<circle cx="596.86" cy="288.79" r="0.85" fill="#858585" fill-opacity="0.5"/>
<circle cx="594.12" cy="294.42" r="0.85" fill="#858585" fill-opacity="0.5"/>
<circle cx="596.42" cy="290.34" r="0.85" fill="#858585" fill-opacity="0.5"/>
<circle cx="593.86" cy="287.82" r="0.85" fill="#858585" fill-opacity="0.5"/>
<circle cx="593.16" cy="296.13" r="0.85" fill="#858585" fill-opacity="0.5"/>
<circle cx="594.50" cy="307.89" r="0.85" fill="#858585" fill-opacity="0.5"/>
<circle cx="595.48" cy="287.25" r="0.85" fill="#858585" fill-opacity="0.5"/>
<circle cx="593.91" cy="290.77" r="0.85" fill="#858585" fill-opacity="0.5"/>
<circle cx="594.88" cy="291.33" r="0.85" fill="#858585" fill-opacity="0.5"/>
<circle cx="593.88" cy="292.65" r="0.85" fill="#858585" fill-opacity="0.5"/>
<circle cx="594.24" cy="287.64" r="0.85" fill="#858585" fill-opacity="0.5"/>
<circle cx="593.64" cy="294.46" r="0.85" fill="#858585" fill-opacity="0.5"/>
<circle cx="597.43" cy="292.82" r="0.85" fill="#858585" fill-opacity="0.5"/>
<circle cx="595.58" cy="292.31" r="0.85" fill="#858585" fill-opacity="0.5"/>
<circle cx="592.72" cy="311.70" r="0.85" fill="#858585" fill-opacity="0.5"/>
<circle cx="596.53" cy="287.34" r="0.85" fill="#858585" fill-opacity="0.5"/>
<circle cx="594.84" cy="289.18" r="0.85" fill="#858585" fill-opacity="0.5"/>
<circle cx="592.72" cy="294.42" r="0.85" fill="#858585" fill-opacity="0.5"/>
<circle cx="593.77" cy="287.86" r="0.85" fill="#858585" fill-opacity="0.5"/>
<circle cx="595.10" cy="295.87" r="0.85" fill="#858585" fill-opacity="0.5"/>
<circle cx="595.06" cy="291.73" r="0.85" fill="#858585" fill-opacity="0.5"/>
<circle cx="596.35" cy="289.20" r="0.85" fill="#858585" fill-opacity="0.5"/>
<circle cx="594.87" cy="289.55" r="0.85" fill="#858585" fill-opacity="0.5"/>
<circle cx="601.43" cy="298.57" r="0.85" fill="#858585" fill-opacity="0.5"/>
<circle cx="601.11" cy="299.19" r="0.85" fill="#858585" fill-opacity="0.5"/>
<circle cx="604.82" cy="288.99" r="0.85" fill="#858585" fill-opacity="0.5"/>
<circle cx="601.00" cy="295.80" r="0.85" fill="#858585" fill-opacity="0.5"/>
<circle cx="602.19" cy="292.68" r="0.85" fill="#858585" fill-opacity="0.5"/>
<circle cx="601.36" cy="297.82" r="0.85" fill="#858585" fill-opacity="0.5"/>
<circle cx="602.15" cy="299.18" r="0.85" fill="#858585" fill-opacity="0.5"/>
<circle cx="602.51" cy="292.91" r="0.85" fill="#858585" fill-opacity="0.5"/>
<circle cx="599.64" cy="310.49" r="0.85" fill="#858585" fill-opacity="0.5"/>
<circle cx="600.88" cy="294.69" r="0.85" fill="#858585" fill-opacity="0.5"/>
<circle cx="602.79" cy="293.41" r="0.85" fill="#858585" fill-opacity="0.5"/>
<circle cx="601.22" cy="296.56" r="0.85" fill="#858585" fill-opacity="0.5"/>
<circle cx="602.39" cy="293.58" r="0.85" fill="#858585" fill-opacity="0.5"/>
<circle cx="601.36" cy="292.42" r="0.85" fill="#858585" fill-opacity="0.5"/>
<circle cx="602.17" cy="300.67" r="0.85" fill="#858585" fill-opacity="0.5"/>
<circle cx="601.83" cy="298.85" r="0.85" fill="#858585" fill-opacity="0.5"/>
<circle cx="602.71" cy="294.76" r="0.85" fill="#858585" fill-opacity="0.5"/>
<circle cx="603.11" cy="295.08" r="0.85" fill="#858585" fill-opacity="0.5"/>
<circle cx="604.33" cy="295.48" r="0.85" fill="#858585" fill-opacity="0.5"/>
<circle cx="603.94" cy="294.43" r="0.85" fill="#858585" fill-opacity="0.5"/>
<circle cx="599.62" cy="294.80" r="0.85" fill="#858585" fill-opacity="0.5"/>
<circle cx="602.31" cy="293.88" r="0.85" fill="#858585" fill-opacity="0.5"/>
<circle cx="599.62" cy="301.19" r="0.85" fill="#858585" fill-opacity="0.5"/>
<circle cx="602.36" cy="291.48" r="0.85" fill="#858585" fill-opacity="0.5"/>
<circle cx="601.87" cy="294.33" r="0.85" fill="#858585" fill-opacity="0.5"/>
<circle cx="601.58" cy="297.14" r="0.85" fill="#858585" fill-opacity="0.5"/>
<circle cx="601.41" cy="297.27" r="0.85" fill="#858585" fill-opacity="0.5"/>
<circle cx="603.12" cy="296.40" r="0.85" fill="#858585" fill-opacity="0.5"/>
<circle cx="601.90" cy="298.72" r="0.85" fill="#858585" fill-opacity="0.5"/>
<circle cx="603.95" cy="298.86" r="0.85" fill="#858585" fill-opacity="0.5"/>
<circle cx="603.34" cy="299.64" r="0.85" fill="#858585" fill-opacity="0.5"/>
<circle cx="601.47" cy="296.85" r="0.85" fill="#858585" fill-opacity="0.5"/>
<circle cx="600.88" cy="295.96" r="0.85" fill="#858585" fill-opacity="0.5"/>
<circle cx="602.40" cy="296.91" r="0.85" fill="#858585" fill-opacity="0.5"/>
<circle cx="600.55" cy="291.86" r="0.85" fill="#858585" fill-opacity="0.5"/>
<circle cx="603.45" cy="297.54" r="0.85" fill="#858585" fill-opacity="0.5"/>
<circle cx="600.99" cy="295.52" r="0.85" fill="#858585" fill-opacity="0.5"/>
<circle cx="601.68" cy="293.94" r="0.85" fill="#858585" fill-opacity="0.5"/>
<circle cx="601.93" cy="295.67" r="0.85" fill="#858585" fill-opacity="0.5"/>
<circle cx="600.68" cy="294.74" r="0.85" fill="#858585" fill-opacity="0.5"/>
<circle cx="603.28" cy="303.32" r="0.85" fill="#858585" fill-opacity="0.5"/>
<circle cx="602.22" cy="294.48" r="0.85" fill="#858585" fill-opacity="0.5"/>
<circle cx="599.80" cy="289.81" r="0.85" fill="#858585" fill-opacity="0.5"/>
<circle cx="602.01" cy="298.31" r="0.85" fill="#858585" fill-opacity="0.5"/>
<circle cx="601.23" cy="297.22" r="0.85" fill="#858585" fill-opacity="0.5"/>
<circle cx="603.24" cy="299.36" r="0.85" fill="#858585" fill-opacity="0.5"/>
<circle cx="601.56" cy="293.48" r="0.85" fill="#858585" fill-opacity="0.5"/>
<circle cx="601.27" cy="297.26" r="0.85" fill="#858585" fill-opacity="0.5"/>
<circle cx="604.69" cy="294.19" r="0.85" fill="#858585" fill-opacity="0.5"/>
<circle cx="601.34" cy="297.20" r="0.85" fill="#858585" fill-opacity="0.5"/>
<circle cx="602.83" cy="299.87" r="0.85" fill="#858585" fill-opacity="0.5"/>
<circle cx="600.74" cy="290.16" r="0.85" fill="#858585" fill-opacity="0.5"/>
<circle cx="601.64" cy="291.63" r="0.85" fill="#858585" fill-opacity="0.5"/>
<circle cx="604.82" cy="292.90" r="0.85" fill="#858585" fill-opacity="0.5"/>
<circle cx="601.57" cy="292.82" r="0.85" fill="#858585" fill-opacity="0.5"/>
<circle cx="601.44" cy="289.33" r="0.85" fill="#858585" fill-opacity="0.5"/>
<circle cx="601.64" cy="295.98" r="0.85" fill="#858585" fill-opacity="0.5"/>
<circle cx="599.62" cy="296.54" r="0.85" fill="#858585" fill-opacity="0.5"/>
<circle cx="600.12" cy="309.26" r="0.85" fill="#858585" fill-opacity="0.5"/>
<circle cx="603.42" cy="296.07" r="0.85" fill="#858585" fill-opacity="0.5"/>
<circle cx="600.59" cy="288.57" r="0.85" fill="#858585" fill-opacity="0.5"/>
<circle cx="602.50" cy="294.99" r="0.85" fill="#858585" fill-opacity="0.5"/>
<circle cx="602.93" cy="293.69" r="0.85" fill="#858585" fill-opacity="0.5"/>
<circle cx="604.45" cy="294.63" r="0.85" fill="#858585" fill-opacity="0.5"/>
<circle cx="599.62" cy="295.89" r="0.85" fill="#858585" fill-opacity="0.5"/>
<circle cx="600.52" cy="297.84" r="0.85" fill="#858585" fill-opacity="0.5"/>
<circle cx="600.67" cy="296.13" r="0.85" fill="#858585" fill-opacity="0.5"/>
<circle cx="600.92" cy="297.60" r="0.85" fill="#858585" fill-opacity="0.5"/>
<circle cx="602.14" cy="295.95" r="0.85" fill="#858585" fill-opacity="0.5"/>
<circle cx="602.40" cy="299.89" r="0.85" fill="#858585" fill-opacity="0.5"/>
<circle cx="609.26" cy="296.52" r="0.85" fill="#858585" fill-opacity="0.5"/>
<circle cx="608.34" cy="300.66" r="0.85" fill="#858585" fill-opacity="0.5"/>
<circle cx="608.95" cy="298.25" r="0.85" fill="#858585" fill-opacity="0.5"/>
<circle cx="608.30" cy="293.22" r="0.85" fill="#858585" fill-opacity="0.5"/>
<circle cx="609.25" cy="291.85" r="0.85" fill="#858585" fill-opacity="0.5"/>
<circle cx="610.21" cy="298.72" r="0.85" fill="#858585" fill-opacity="0.5"/>
<circle cx="608.70" cy="293.88" r="0.85" fill="#858585" fill-opacity="0.5"/>
<circle cx="608.09" cy="301.19" r="0.85" fill="#858585" fill-opacity="0.5"/>
<circle cx="609.17" cy="296.40" r="0.85" fill="#858585" fill-opacity="0.5"/>
<circle cx="609.41" cy="301.75" r="0.85" fill="#858585" fill-opacity="0.5"/>
<circle cx="606.92" cy="302.30" r="0.85" fill="#858585" fill-opacity="0.5"/>
<circle cx="608.09" cy="297.32" r="0.85" fill="#858585" fill-opacity="0.5"/>
<circle cx="607.05" cy="296.02" r="0.85" fill="#858585" fill-opacity="0.5"/>
<circle cx="609.46" cy="294.48" r="0.85" fill="#858585" fill-opacity="0.5"/>
<circle cx="608.53" cy="295.50" r="0.85" fill="#858585" fill-opacity="0.5"/>
<circle cx="609.11" cy="298.20" r="0.85" fill="#858585" fill-opacity="0.5"/>
<circle cx="609.73" cy="296.25" r="0.85" fill="#858585" fill-opacity="0.5"/>
<circle cx="607.05" cy="299.04" r="0.85" fill="#858585" fill-opacity="0.5"/>
<circle cx="609.92" cy="295.95" r="0.85" fill="#858585" fill-opacity="0.5"/>
<circle cx="607.18" cy="299.19" r="0.85" fill="#858585" fill-opacity="0.5"/>
<circle cx="608.57" cy="303.07" r="0.85" fill="#858585" fill-opacity="0.5"/>
<circle cx="610.05" cy="296.35" r="0.85" fill="#858585" fill-opacity="0.5"/>
<circle cx="609.46" cy="296.57" r="0.85" fill="#858585" fill-opacity="0.5"/>
<circle cx="607.12" cy="299.07" r="0.85" fill="#858585" fill-opacity="0.5"/>
<circle cx="609.72" cy="298.93" r="0.85" fill="#858585" fill-opacity="0.5"/>
<circle cx="607.85" cy="295.36" r="0.85" fill="#858585" fill-opacity="0.5"/>
<circle cx="608.59" cy="294.32" r="0.85" fill="#858585" fill-opacity="0.5"/>
<circle cx="610.65" cy="294.63" r="0.85" fill="#858585" fill-opacity="0.5"/>
<circle cx="607.26" cy="295.05" r="0.85" fill="#858585" fill-opacity="0.5"/>
<circle cx="608.99" cy="298.40" r="0.85" fill="#858585" fill-opacity="0.5"/>
<circle cx="609.08" cy="299.92" r="0.85" fill="#858585" fill-opacity="0.5"/>
<circle cx="611.22" cy="302.80" r="0.85" fill="#858585" fill-opacity="0.5"/>
<circle cx="609.02" cy="297.10" r="0.85" fill="#858585" fill-opacity="0.5"/>
<circle cx="610.10" cy="296.06" r="0.85" fill="#858585" fill-opacity="0.5"/>
<circle cx="610.46" cy="301.12" r="0.85" fill="#858585" fill-opacity="0.5"/>
<circle cx="609.21" cy="321.02" r="0.85" fill="#858585" fill-opacity="0.5"/>
<circle cx="611.00" cy="300.81" r="0.85" fill="#858585" fill-opacity="0.5"/>
<circle cx="608.59" cy="296.06" r="0.85" fill="#858585" fill-opacity="0.5"/>
<circle cx="607.38" cy="292.97" r="0.85" fill="#858585" fill-opacity="0.5"/>
<circle cx="608.65" cy="296.90" r="0.85" fill="#858585" fill-opacity="0.5"/>
<circle cx="611.28" cy="298.77" r="0.85" fill="#858585" fill-opacity="0.5"/>
<circle cx="610.52" cy="294.24" r="0.85" fill="#858585" fill-opacity="0.5"/>
<circle cx="609.34" cy="297.16" r="0.85" fill="#858585" fill-opacity="0.5"/>
<circle cx="608.99" cy="299.67" r="0.85" fill="#858585" fill-opacity="0.5"/>
<circle cx="609.46" cy="295.63" r="0.85" fill="#858585" fill-opacity="0.5"/>
<circle cx="608.37" cy="298.31" r="0.85" fill="#858585" fill-opacity="0.5"/>
<circle cx="609.03" cy="297.52" r="0.85" fill="#858585" fill-opacity="0.5"/>
<circle cx="607.20" cy="298.80" r="0.85" fill="#858585" fill-opacity="0.5"/>
<circle cx="608.74" cy="296.55" r="0.85" fill="#858585" fill-opacity="0.5"/>
<circle cx="606.52" cy="300.82" r="0.85" fill="#858585" fill-opacity="0.5"/>
<circle cx="607.14" cy="296.68" r="0.85" fill="#858585" fill-opacity="0.5"/>
<circle cx="608.10" cy="308.03" r="0.85" fill="#858585" fill-opacity="0.5"/>
<circle cx="608.69" cy="296.77" r="0.85" fill="#858585" fill-opacity="0.5"/>
<circle cx="608.29" cy="306.66" r="0.85" fill="#858585" fill-opacity="0.5"/>
<circle cx="608.97" cy="292.67" r="0.85" fill="#858585" fill-opacity="0.5"/>
<circle cx="607.01" cy="299.39" r="0.85" fill="#858585" fill-opacity="0.5"/>
<circle cx="610.14" cy="295.64" r="0.85" fill="#858585" fill-opacity="0.5"/>
<circle cx="610.34" cy="297.46" r="0.85" fill="#858585" fill-opacity="0.5"/>
<circle cx="610.82" cy="319.24" r="0.85" fill="#858585" fill-opacity="0.5"/>
<circle cx="607.76" cy="298.27" r="0.85" fill="#858585" fill-opacity="0.5"/>
<circle cx="608.30" cy="297.12" r="0.85" fill="#858585" fill-opacity="0.5"/>
<circle cx="607.49" cy="287.76" r="0.85" fill="#858585" fill-opacity="0.5"/>
<circle cx="608.72" cy="298.10" r="0.85" fill="#858585" fill-opacity="0.5"/>
<circle cx="609.11" cy="298.25" r="0.85" fill="#858585" fill-opacity="0.5"/>
<circle cx="608.19" cy="297.39" r="0.85" fill="#858585" fill-opacity="0.5"/>
<circle cx="607.79" cy="299.26" r="0.85" fill="#858585" fill-opacity="0.5"/>
<circle cx="609.24" cy="295.04" r="0.85" fill="#858585" fill-opacity="0.5"/>
<circle cx="609.81" cy="300.96" r="0.85" fill="#858585" fill-opacity="0.5"/>
<circle cx="609.81" cy="298.58" r="0.85" fill="#858585" fill-opacity="0.5"/>
<circle cx="609.31" cy="300.52" r="0.85" fill="#858585" fill-opacity="0.5"/>
<line x1="399.8" y1="280.5" x2="399.8" y2="391.0" stroke="#1c1c1c" stroke-width="2.2"/>
<line x1="398.8" y1="390.0" x2="618.2" y2="390.0" stroke="#1c1c1c" stroke-width="2.2"/>
<line x1="421.08" y1="390.0" x2="421.08" y2="400.0" stroke="#1c1c1c" stroke-width="2.3"/>
<text transform="translate(421.08 414.60) scale(1 1.07)" text-anchor="middle" font-size="11.8" fill="#262626" stroke="#262626" stroke-width="0.2">0.0</text>
<line x1="464.64" y1="390.0" x2="464.64" y2="400.0" stroke="#1c1c1c" stroke-width="2.3"/>
<text transform="translate(464.64 414.60) scale(1 1.07)" text-anchor="middle" font-size="11.8" fill="#262626" stroke="#262626" stroke-width="0.2">0.01</text>
<line x1="508.20" y1="390.0" x2="508.20" y2="400.0" stroke="#1c1c1c" stroke-width="2.3"/>
<text transform="translate(508.20 414.60) scale(1 1.07)" text-anchor="middle" font-size="11.8" fill="#262626" stroke="#262626" stroke-width="0.2">0.1</text>
<line x1="551.76" y1="390.0" x2="551.76" y2="400.0" stroke="#1c1c1c" stroke-width="2.3"/>
<text transform="translate(551.76 414.60) scale(1 1.07)" text-anchor="middle" font-size="11.8" fill="#262626" stroke="#262626" stroke-width="0.2">0.5</text>
<line x1="595.32" y1="390.0" x2="595.32" y2="400.0" stroke="#1c1c1c" stroke-width="2.3"/>
<text transform="translate(595.32 414.60) scale(1 1.07)" text-anchor="middle" font-size="11.8" fill="#262626" stroke="#262626" stroke-width="0.2">1.0</text>
<line x1="389.8" y1="379.30" x2="399.8" y2="379.30" stroke="#1c1c1c" stroke-width="2.3"/>
<text transform="translate(383.00 383.40) scale(1 1.07)" text-anchor="end" font-size="11.8" fill="#262626" stroke="#262626" stroke-width="0.2">5.0</text>
<line x1="389.8" y1="351.90" x2="399.8" y2="351.90" stroke="#1c1c1c" stroke-width="2.3"/>
<text transform="translate(383.00 356.00) scale(1 1.07)" text-anchor="end" font-size="11.8" fill="#262626" stroke="#262626" stroke-width="0.2">7.5</text>
<line x1="389.8" y1="324.70" x2="399.8" y2="324.70" stroke="#1c1c1c" stroke-width="2.3"/>
<text transform="translate(383.00 328.80) scale(1 1.07)" text-anchor="end" font-size="11.8" fill="#262626" stroke="#262626" stroke-width="0.2">10.0</text>
<line x1="389.8" y1="297.60" x2="399.8" y2="297.60" stroke="#1c1c1c" stroke-width="2.3"/>
<text transform="translate(383.00 301.70) scale(1 1.07)" text-anchor="end" font-size="11.8" fill="#262626" stroke="#262626" stroke-width="0.2">12.5</text>
<text transform="translate(508.75 433.20) scale(1 1.07)" text-anchor="middle" font-size="11.8" fill="#262626" stroke="#262626" stroke-width="0.2">mCherry OD</text>
<text transform="translate(355.20 336.70) rotate(-90) scale(1.01 1)" text-anchor="middle" font-size="11.8" fill="#262626" stroke="#262626" stroke-width="0.2">log<tspan font-size="8.3" dx="0.9" dy="2.5">2</tspan><tspan dx="0.9" dy="-2.5">(mCherry) [AU]</tspan></text>
<text transform="translate(626.50 290.90) scale(1 1.07)" text-anchor="start" font-size="11.8" fill="#262626" stroke="#262626" stroke-width="0.2">eGFP</text>
<text transform="translate(626.50 302.80) scale(1 1.07)" text-anchor="start" font-size="11.8" fill="#262626" stroke="#262626" stroke-width="0.2">OD</text>
<rect x="626.80" y="311.90" width="23.3" height="8.05" fill="#f2f0f1" stroke="#000" stroke-width="1.9"/>
<text transform="translate(659.90 321.20) scale(1 1.07)" text-anchor="start" font-size="11.8" fill="#262626" stroke="#262626" stroke-width="0.2">0.0</text>
<rect x="626.80" y="328.60" width="23.3" height="8.05" fill="#d4c0ca" stroke="#000" stroke-width="1.9"/>
<text transform="translate(659.90 337.90) scale(1 1.07)" text-anchor="start" font-size="11.8" fill="#262626" stroke="#262626" stroke-width="0.2">0.01</text>
<rect x="626.80" y="345.30" width="23.3" height="8.05" fill="#b68fa3" stroke="#000" stroke-width="1.9"/>
<text transform="translate(659.90 354.60) scale(1 1.07)" text-anchor="start" font-size="11.8" fill="#262626" stroke="#262626" stroke-width="0.2">0.1</text>
<rect x="626.80" y="362.00" width="23.3" height="8.05" fill="#995f7c" stroke="#000" stroke-width="1.9"/>
<text transform="translate(659.90 371.30) scale(1 1.07)" text-anchor="start" font-size="11.8" fill="#262626" stroke="#262626" stroke-width="0.2">0.5</text>
<rect x="626.80" y="378.70" width="23.3" height="8.05" fill="#7b2f55" stroke="#000" stroke-width="1.9"/>
<text transform="translate(659.90 388.00) scale(1 1.07)" text-anchor="start" font-size="11.8" fill="#262626" stroke="#262626" stroke-width="0.2">1.0</text>
</svg>
</body></html>
